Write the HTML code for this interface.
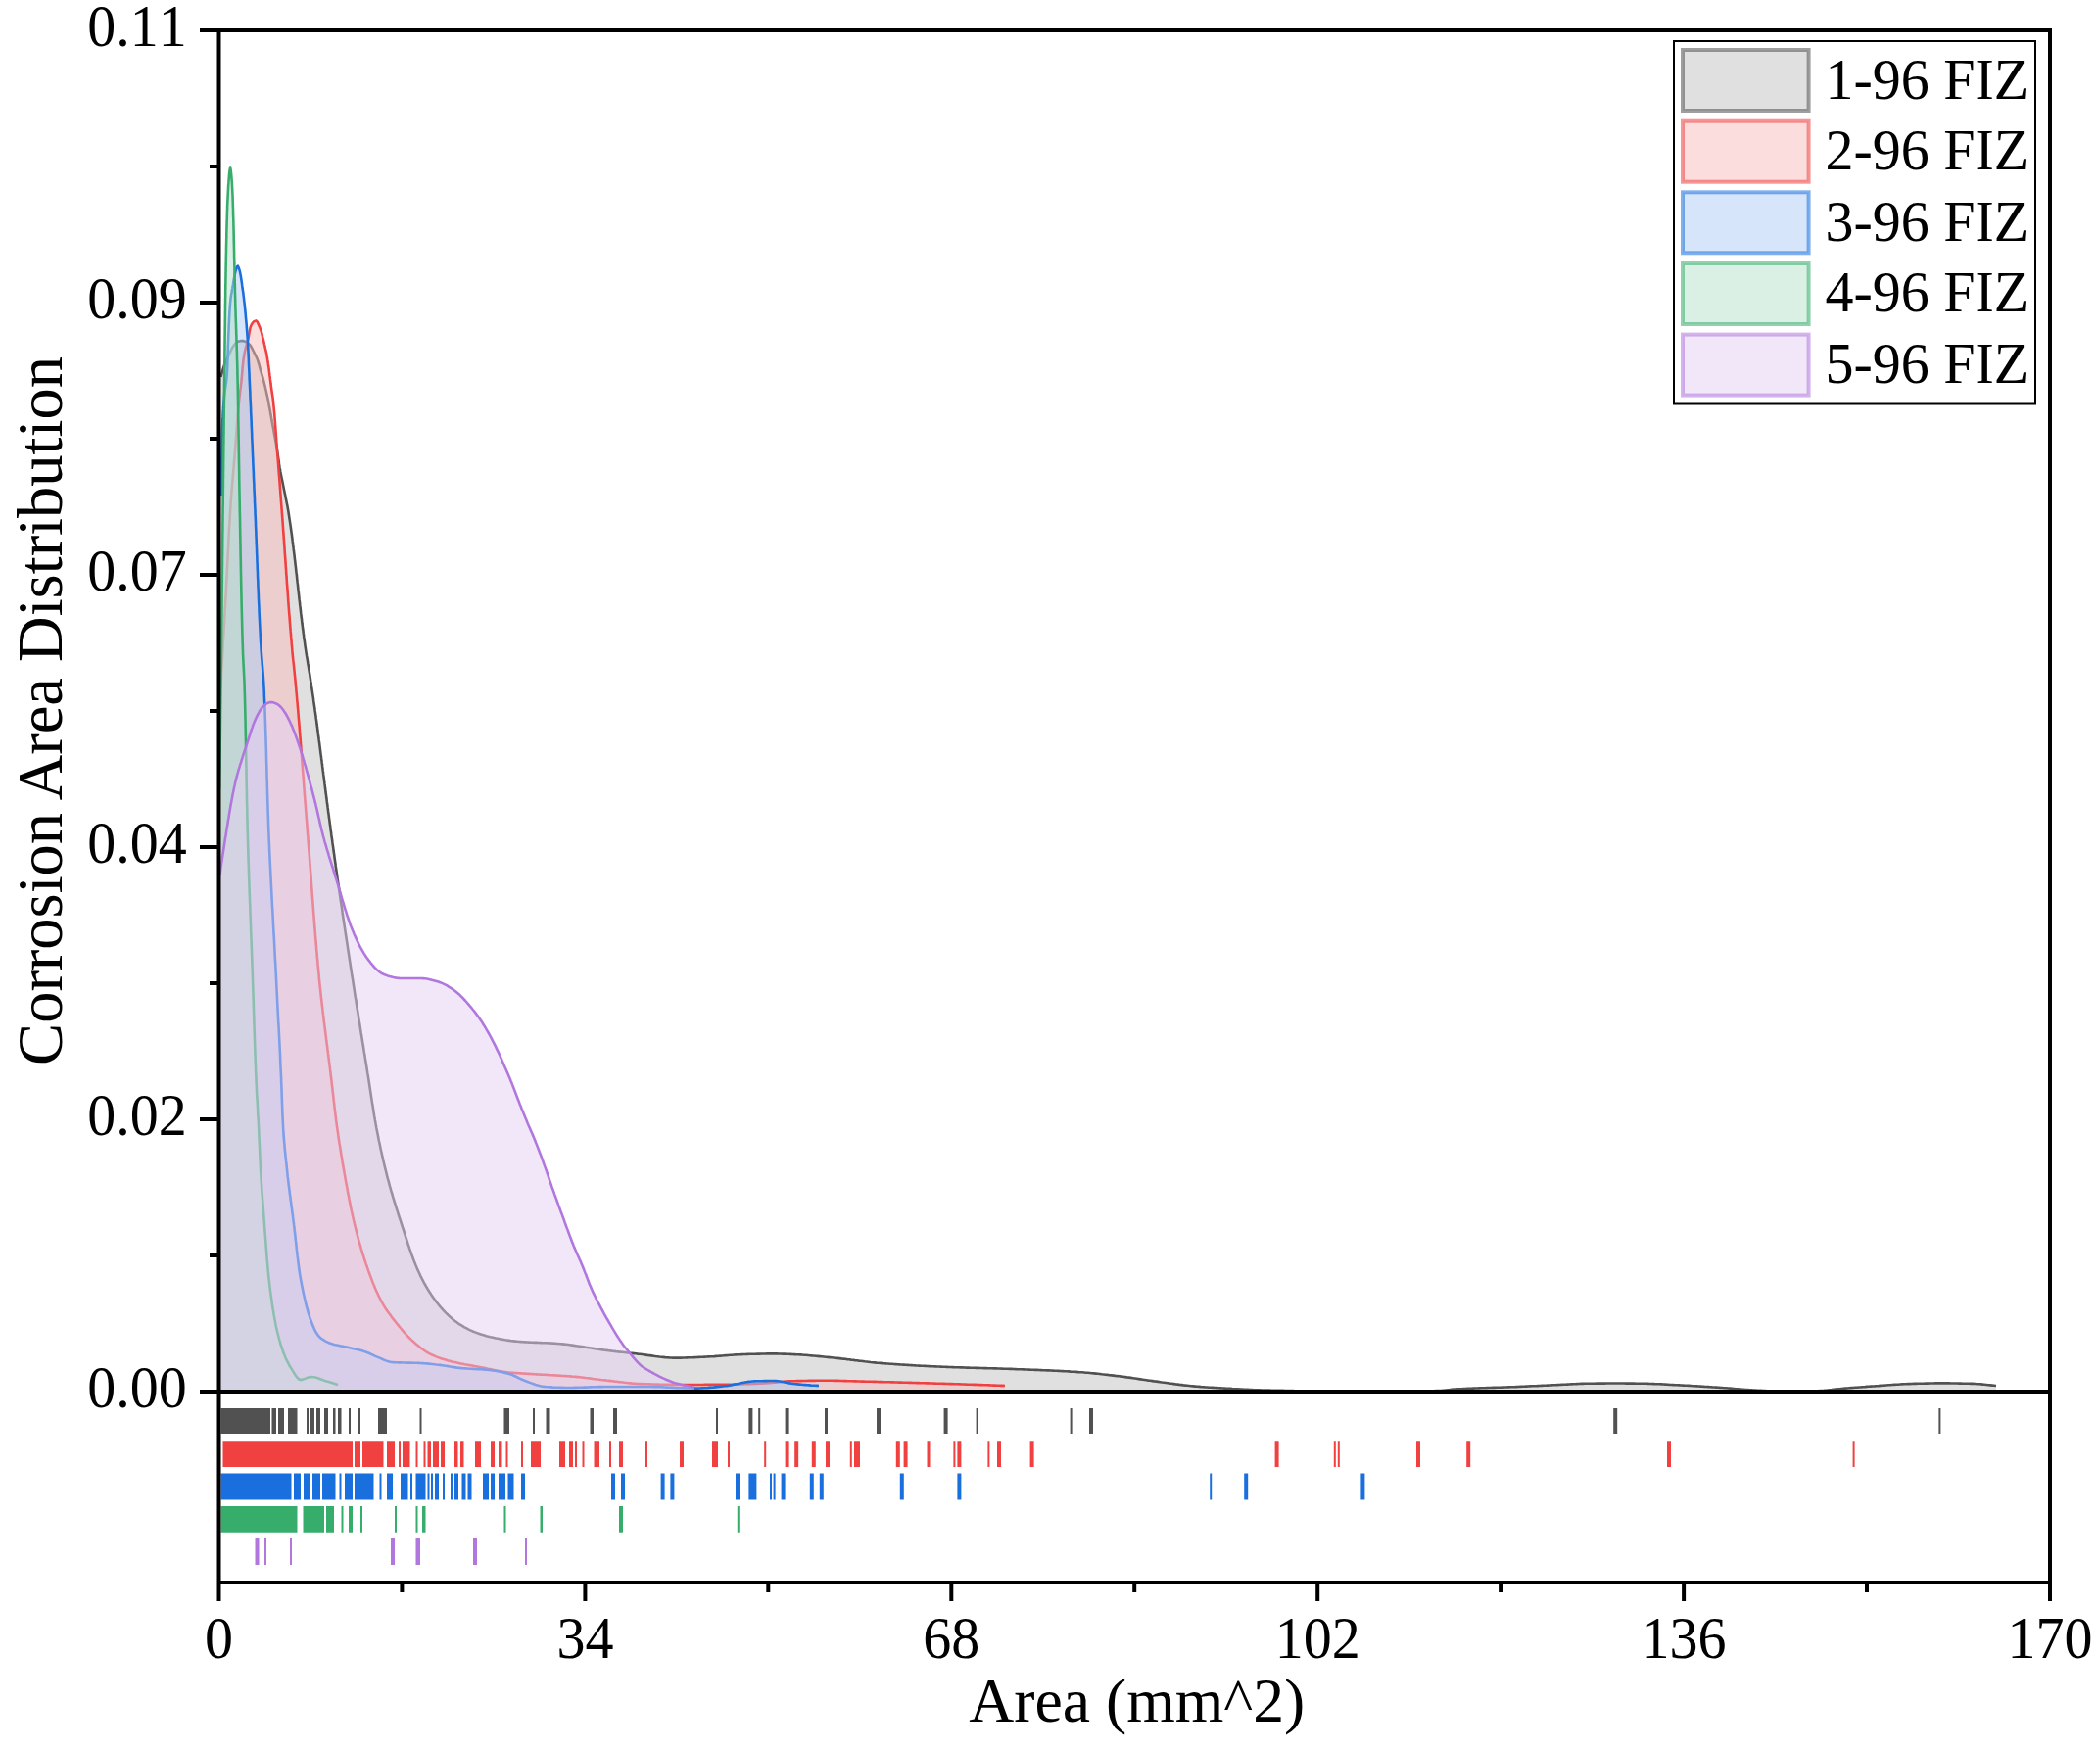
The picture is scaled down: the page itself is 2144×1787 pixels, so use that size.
<!DOCTYPE html><html><head><meta charset="utf-8"><title>Corrosion Area Distribution</title>
<style>html,body{margin:0;padding:0;background:#fff}svg{display:block}text{font-family:"Liberation Serif","Times New Roman",serif;fill:#000}</style></head><body>
<svg width="2144" height="1787" viewBox="0 0 2144 1787">
<rect width="2144" height="1787" fill="#fff"/>
<defs><clipPath id="cp"><rect x="223.5" y="31.0" width="1869.5" height="1390.0"/></clipPath></defs>
<g clip-path="url(#cp)" stroke-linejoin="round">
<path d="M225.5,385.0 L226.0,383.0 L226.5,381.1 L227.0,379.2 L227.6,377.2 L228.2,375.3 L228.8,373.5 L229.5,371.6 L230.3,369.7 L231.1,367.9 L231.9,366.1 L232.7,364.2 L233.6,362.4 L234.4,360.6 L235.3,358.8 L236.2,356.9 L237.1,355.2 L238.2,353.5 L239.5,351.8 L240.9,350.2 L242.4,349.1 L244.2,348.4 L246.2,348.0 L248.2,348.1 L250.2,348.7 L252.0,349.5 L253.6,350.7 L255.1,352.1 L256.2,353.6 L257.2,355.3 L258.1,357.2 L259.0,359.0 L259.9,360.8 L260.8,362.6 L261.7,364.4 L262.5,366.3 L263.2,368.1 L263.8,370.0 L264.4,371.9 L264.9,373.9 L265.4,375.8 L265.9,377.8 L266.5,379.7 L267.1,381.6 L267.7,383.5 L268.3,385.4 L268.8,387.3 L269.3,389.3 L269.8,391.2 L270.3,393.2 L270.8,395.1 L271.2,397.1 L271.7,399.0 L272.1,401.0 L272.5,402.9 L273.0,404.9 L273.4,406.8 L273.8,408.8 L274.2,410.8 L274.5,412.7 L274.9,414.7 L275.3,416.7 L275.6,418.6 L276.0,420.6 L276.3,422.6 L276.7,424.6 L277.0,426.5 L277.4,428.5 L277.7,430.5 L278.1,432.4 L278.4,434.4 L278.8,436.4 L279.2,438.3 L279.5,440.3 L279.9,442.3 L280.2,444.3 L280.6,446.2 L281.0,448.2 L281.3,450.2 L281.7,452.1 L282.0,454.1 L282.3,456.1 L282.7,458.1 L283.0,460.0 L283.3,462.0 L283.6,464.0 L283.9,466.0 L284.2,468.0 L284.5,469.9 L284.8,471.9 L285.0,473.9 L285.3,475.9 L285.6,477.9 L286.0,479.8 L286.3,481.8 L286.7,483.8 L287.1,485.7 L287.5,487.7 L287.9,489.7 L288.3,491.6 L288.7,493.6 L289.1,495.5 L289.5,497.5 L289.9,499.5 L290.3,501.4 L290.7,503.4 L291.1,505.3 L291.5,507.3 L291.9,509.3 L292.3,511.2 L292.7,513.2 L293.1,515.2 L293.5,517.1 L293.8,519.1 L294.2,521.1 L294.5,523.0 L294.8,525.0 L295.1,527.0 L295.4,529.0 L295.7,530.9 L296.0,532.9 L296.3,534.9 L296.6,536.9 L296.9,538.9 L297.1,540.8 L297.4,542.8 L297.7,544.8 L298.0,546.8 L298.2,548.8 L298.5,550.7 L298.7,552.7 L299.0,554.7 L299.2,556.7 L299.5,558.7 L299.7,560.7 L300.0,562.7 L300.2,564.6 L300.5,566.6 L300.7,568.6 L300.9,570.6 L301.2,572.6 L301.4,574.6 L301.6,576.6 L301.9,578.6 L302.1,580.6 L302.3,582.6 L302.5,584.5 L302.8,586.5 L303.0,588.5 L303.2,590.5 L303.4,592.5 L303.6,594.5 L303.9,596.5 L304.1,598.5 L304.3,600.5 L304.5,602.5 L304.8,604.5 L305.0,606.5 L305.2,608.4 L305.4,610.4 L305.6,612.4 L305.9,614.4 L306.1,616.4 L306.3,618.4 L306.6,620.4 L306.8,622.4 L307.0,624.4 L307.2,626.4 L307.5,628.4 L307.7,630.3 L308.0,632.3 L308.2,634.3 L308.4,636.3 L308.7,638.3 L308.9,640.3 L309.2,642.3 L309.5,644.3 L309.7,646.2 L310.0,648.2 L310.2,650.2 L310.5,652.2 L310.8,654.2 L311.1,656.2 L311.3,658.1 L311.6,660.1 L311.9,662.1 L312.2,664.1 L312.5,666.1 L312.8,668.0 L313.1,670.0 L313.5,672.0 L313.8,674.0 L314.1,675.9 L314.4,677.9 L314.8,679.9 L315.1,681.9 L315.4,683.8 L315.7,685.8 L316.1,687.8 L316.4,689.8 L316.7,691.7 L317.0,693.7 L317.3,695.7 L317.7,697.7 L317.9,699.7 L318.2,701.6 L318.5,703.6 L318.8,705.6 L319.1,707.6 L319.4,709.6 L319.7,711.5 L320.0,713.5 L320.2,715.5 L320.5,717.5 L320.8,719.5 L321.1,721.5 L321.4,723.4 L321.6,725.4 L321.9,727.4 L322.2,729.4 L322.5,731.4 L322.7,733.4 L323.0,735.3 L323.3,737.3 L323.5,739.3 L323.8,741.3 L324.1,743.3 L324.3,745.3 L324.6,747.2 L324.8,749.2 L325.1,751.2 L325.4,753.2 L325.6,755.2 L325.9,757.2 L326.2,759.2 L326.4,761.1 L326.7,763.1 L326.9,765.1 L327.2,767.1 L327.4,769.1 L327.7,771.1 L328.0,773.1 L328.2,775.0 L328.5,777.0 L328.7,779.0 L329.0,781.0 L329.2,783.0 L329.5,785.0 L329.7,787.0 L330.0,788.9 L330.2,790.9 L330.5,792.9 L330.8,794.9 L331.0,796.9 L331.3,798.9 L331.5,800.9 L331.8,802.8 L332.0,804.8 L332.3,806.8 L332.5,808.8 L332.8,810.8 L333.1,812.8 L333.3,814.8 L333.6,816.7 L333.8,818.7 L334.1,820.7 L334.4,822.7 L334.6,824.7 L334.9,826.7 L335.1,828.7 L335.4,830.6 L335.7,832.6 L335.9,834.6 L336.2,836.6 L336.5,838.6 L336.7,840.6 L337.0,842.5 L337.3,844.5 L337.5,846.5 L337.8,848.5 L338.1,850.5 L338.3,852.5 L338.6,854.5 L338.9,856.4 L339.2,858.4 L339.4,860.4 L339.7,862.4 L340.0,864.4 L340.3,866.4 L340.5,868.3 L340.8,870.3 L341.1,872.3 L341.4,874.3 L341.6,876.3 L341.9,878.2 L342.2,880.2 L342.5,882.2 L342.7,884.2 L343.0,886.2 L343.3,888.2 L343.6,890.1 L343.9,892.1 L344.2,894.1 L344.4,896.1 L344.7,898.1 L345.0,900.1 L345.3,902.0 L345.6,904.0 L345.9,906.0 L346.2,908.0 L346.4,910.0 L346.7,911.9 L347.0,913.9 L347.3,915.9 L347.6,917.9 L347.9,919.9 L348.2,921.8 L348.5,923.8 L348.8,925.8 L349.1,927.8 L349.4,929.8 L349.6,931.7 L349.9,933.7 L350.2,935.7 L350.5,937.7 L350.8,939.7 L351.1,941.7 L351.4,943.6 L351.7,945.6 L352.0,947.6 L352.3,949.6 L352.6,951.6 L352.9,953.5 L353.2,955.5 L353.5,957.5 L353.8,959.5 L354.1,961.4 L354.4,963.4 L354.7,965.4 L355.0,967.4 L355.3,969.4 L355.6,971.3 L355.9,973.3 L356.2,975.3 L356.5,977.3 L356.8,979.3 L357.1,981.2 L357.4,983.2 L357.7,985.2 L358.0,987.2 L358.3,989.2 L358.6,991.1 L358.9,993.1 L359.2,995.1 L359.5,997.1 L359.9,999.1 L360.2,1001.0 L360.5,1003.0 L360.8,1005.0 L361.1,1007.0 L361.4,1008.9 L361.7,1010.9 L362.0,1012.9 L362.3,1014.9 L362.6,1016.9 L362.9,1018.8 L363.3,1020.8 L363.6,1022.8 L363.9,1024.8 L364.2,1026.7 L364.5,1028.7 L364.8,1030.7 L365.2,1032.7 L365.5,1034.6 L365.8,1036.6 L366.1,1038.6 L366.4,1040.6 L366.7,1042.6 L367.1,1044.5 L367.4,1046.5 L367.7,1048.5 L368.0,1050.5 L368.3,1052.4 L368.6,1054.4 L369.0,1056.4 L369.3,1058.4 L369.6,1060.3 L369.9,1062.3 L370.2,1064.3 L370.6,1066.3 L370.9,1068.3 L371.2,1070.2 L371.5,1072.2 L371.8,1074.2 L372.2,1076.2 L372.5,1078.1 L372.8,1080.1 L373.1,1082.1 L373.4,1084.1 L373.8,1086.0 L374.1,1088.0 L374.4,1090.0 L374.7,1092.0 L375.0,1093.9 L375.3,1095.9 L375.7,1097.9 L376.0,1099.9 L376.3,1101.9 L376.6,1103.8 L376.9,1105.8 L377.2,1107.8 L377.5,1109.8 L377.8,1111.7 L378.1,1113.7 L378.4,1115.7 L378.7,1117.7 L379.0,1119.7 L379.3,1121.7 L379.6,1123.6 L379.9,1125.6 L380.2,1127.6 L380.6,1129.6 L380.9,1131.5 L381.2,1133.5 L381.5,1135.5 L381.8,1137.5 L382.1,1139.5 L382.5,1141.4 L382.8,1143.4 L383.2,1145.4 L383.5,1147.3 L383.9,1149.3 L384.2,1151.3 L384.6,1153.2 L385.0,1155.2 L385.4,1157.2 L385.8,1159.1 L386.1,1161.1 L386.5,1163.1 L386.9,1165.0 L387.4,1167.0 L387.8,1168.9 L388.2,1170.9 L388.6,1172.9 L389.0,1174.8 L389.5,1176.8 L389.9,1178.7 L390.3,1180.7 L390.8,1182.6 L391.2,1184.6 L391.7,1186.5 L392.2,1188.5 L392.6,1190.4 L393.1,1192.4 L393.6,1194.3 L394.1,1196.3 L394.5,1198.2 L395.0,1200.1 L395.5,1202.1 L396.0,1204.0 L396.6,1205.9 L397.1,1207.9 L397.6,1209.8 L398.1,1211.7 L398.7,1213.7 L399.2,1215.6 L399.8,1217.5 L400.4,1219.4 L400.9,1221.4 L401.5,1223.3 L402.1,1225.2 L402.7,1227.1 L403.3,1229.0 L403.9,1230.9 L404.5,1232.8 L405.1,1234.8 L405.7,1236.7 L406.3,1238.6 L406.9,1240.5 L407.5,1242.4 L408.1,1244.3 L408.8,1246.2 L409.4,1248.1 L410.0,1250.0 L410.6,1251.9 L411.2,1253.8 L411.9,1255.7 L412.5,1257.6 L413.1,1259.5 L413.7,1261.5 L414.3,1263.4 L415.0,1265.3 L415.6,1267.2 L416.2,1269.1 L416.8,1271.0 L417.5,1272.9 L418.1,1274.9 L418.8,1276.8 L419.5,1278.6 L420.1,1280.5 L420.8,1282.4 L421.5,1284.3 L422.2,1286.2 L422.9,1288.0 L423.7,1289.9 L424.4,1291.7 L425.2,1293.6 L425.9,1295.4 L426.7,1297.2 L427.6,1299.0 L428.4,1300.8 L429.2,1302.6 L430.1,1304.4 L431.0,1306.2 L432.0,1308.0 L432.9,1309.8 L433.9,1311.5 L434.9,1313.3 L435.9,1315.0 L436.9,1316.8 L438.0,1318.5 L439.1,1320.2 L440.2,1321.9 L441.3,1323.6 L442.5,1325.2 L443.6,1326.8 L444.8,1328.4 L446.0,1330.0 L447.2,1331.5 L448.5,1333.1 L449.7,1334.6 L451.1,1336.1 L452.4,1337.6 L453.8,1339.1 L455.2,1340.6 L456.7,1342.0 L458.1,1343.4 L459.6,1344.8 L461.1,1346.1 L462.7,1347.4 L464.2,1348.7 L465.8,1349.8 L467.4,1351.0 L469.0,1352.1 L470.7,1353.2 L472.4,1354.2 L474.2,1355.3 L475.9,1356.2 L477.7,1357.2 L479.6,1358.1 L481.4,1358.9 L483.2,1359.7 L485.1,1360.4 L486.9,1361.1 L488.8,1361.8 L490.7,1362.4 L492.6,1363.0 L494.5,1363.6 L496.5,1364.2 L498.4,1364.7 L500.4,1365.2 L502.3,1365.6 L504.3,1366.1 L506.2,1366.5 L508.2,1366.8 L510.2,1367.2 L512.1,1367.6 L514.1,1367.9 L516.1,1368.3 L518.1,1368.6 L520.1,1368.9 L522.0,1369.2 L524.0,1369.4 L526.0,1369.6 L528.0,1369.8 L530.0,1370.0 L532.0,1370.1 L534.0,1370.3 L536.0,1370.4 L538.0,1370.5 L540.0,1370.6 L542.0,1370.7 L544.0,1370.8 L546.0,1370.9 L548.0,1370.9 L550.0,1371.0 L552.0,1371.1 L554.0,1371.2 L556.0,1371.2 L558.0,1371.3 L560.0,1371.4 L562.0,1371.5 L564.0,1371.6 L566.0,1371.7 L568.0,1371.9 L570.0,1372.0 L572.0,1372.2 L574.0,1372.4 L576.0,1372.6 L578.0,1372.8 L579.9,1373.0 L581.9,1373.3 L583.9,1373.6 L585.9,1373.9 L587.9,1374.2 L589.9,1374.5 L591.8,1374.8 L593.8,1375.1 L595.8,1375.4 L597.8,1375.7 L599.8,1376.0 L601.7,1376.3 L603.7,1376.5 L605.7,1376.9 L607.7,1377.2 L609.7,1377.5 L611.6,1377.8 L613.6,1378.1 L615.6,1378.4 L617.6,1378.7 L619.6,1378.9 L621.6,1379.2 L623.5,1379.4 L625.5,1379.7 L627.5,1379.9 L629.5,1380.2 L631.5,1380.4 L633.5,1380.6 L635.5,1380.8 L637.5,1381.0 L639.5,1381.3 L641.4,1381.5 L643.4,1381.7 L645.4,1381.9 L647.4,1382.1 L649.4,1382.3 L651.4,1382.6 L653.4,1382.8 L655.4,1383.0 L657.4,1383.3 L659.4,1383.6 L661.3,1383.9 L663.3,1384.1 L665.3,1384.4 L667.3,1384.7 L669.3,1385.0 L671.3,1385.2 L673.3,1385.5 L675.3,1385.7 L677.3,1385.9 L679.3,1386.1 L681.2,1386.2 L683.2,1386.4 L685.2,1386.5 L687.2,1386.6 L689.2,1386.6 L691.2,1386.6 L693.2,1386.6 L695.2,1386.6 L697.2,1386.5 L699.2,1386.5 L701.2,1386.4 L703.2,1386.3 L705.2,1386.3 L707.2,1386.2 L709.2,1386.1 L711.2,1386.0 L713.2,1385.9 L715.2,1385.8 L717.2,1385.7 L719.2,1385.6 L721.2,1385.5 L723.2,1385.4 L725.2,1385.3 L727.2,1385.2 L729.2,1385.1 L731.2,1384.9 L733.2,1384.8 L735.2,1384.6 L737.2,1384.5 L739.2,1384.3 L741.2,1384.1 L743.2,1384.0 L745.2,1383.8 L747.2,1383.7 L749.2,1383.5 L751.2,1383.4 L753.2,1383.3 L755.2,1383.2 L757.2,1383.1 L759.2,1383.0 L761.2,1383.0 L763.2,1382.9 L765.2,1382.8 L767.2,1382.8 L769.2,1382.7 L771.2,1382.7 L773.2,1382.6 L775.2,1382.6 L777.2,1382.5 L779.2,1382.5 L781.2,1382.5 L783.2,1382.4 L785.2,1382.4 L787.2,1382.4 L789.2,1382.4 L791.2,1382.4 L793.2,1382.4 L795.2,1382.5 L797.2,1382.5 L799.2,1382.6 L801.2,1382.6 L803.2,1382.7 L805.2,1382.8 L807.2,1382.9 L809.2,1383.0 L811.2,1383.1 L813.2,1383.2 L815.2,1383.3 L817.2,1383.4 L819.2,1383.5 L821.2,1383.7 L823.2,1383.8 L825.2,1384.0 L827.2,1384.2 L829.2,1384.4 L831.2,1384.5 L833.2,1384.7 L835.2,1384.9 L837.2,1385.1 L839.2,1385.3 L841.2,1385.5 L843.2,1385.7 L845.1,1385.9 L847.1,1386.1 L849.1,1386.3 L851.1,1386.5 L853.1,1386.7 L855.1,1386.9 L857.1,1387.1 L859.1,1387.4 L861.1,1387.6 L863.1,1387.8 L865.1,1388.1 L867.0,1388.3 L869.0,1388.6 L871.0,1388.8 L873.0,1389.1 L875.0,1389.3 L877.0,1389.6 L879.0,1389.8 L881.0,1390.0 L882.9,1390.3 L884.9,1390.5 L886.9,1390.7 L888.9,1391.0 L890.9,1391.2 L892.9,1391.4 L894.9,1391.6 L896.9,1391.7 L898.9,1391.9 L900.9,1392.1 L902.9,1392.2 L904.9,1392.4 L906.9,1392.5 L908.8,1392.7 L910.8,1392.8 L912.8,1393.0 L914.8,1393.1 L916.8,1393.2 L918.8,1393.4 L920.8,1393.5 L922.8,1393.6 L924.8,1393.8 L926.8,1393.9 L928.8,1394.0 L930.8,1394.1 L932.8,1394.2 L934.8,1394.4 L936.8,1394.5 L938.8,1394.6 L940.8,1394.7 L942.8,1394.8 L944.8,1394.9 L946.8,1395.0 L948.8,1395.1 L950.8,1395.2 L952.8,1395.3 L954.8,1395.4 L956.8,1395.5 L958.8,1395.5 L960.8,1395.6 L962.8,1395.7 L964.8,1395.8 L966.8,1395.9 L968.8,1396.0 L970.8,1396.0 L972.8,1396.1 L974.8,1396.2 L976.8,1396.2 L978.8,1396.3 L980.8,1396.4 L982.8,1396.4 L984.8,1396.5 L986.8,1396.6 L988.8,1396.6 L990.8,1396.7 L992.8,1396.7 L994.8,1396.8 L996.8,1396.9 L998.8,1396.9 L1000.8,1397.0 L1002.8,1397.0 L1004.8,1397.1 L1006.8,1397.1 L1008.9,1397.2 L1010.9,1397.2 L1012.9,1397.3 L1014.9,1397.4 L1016.9,1397.4 L1018.9,1397.5 L1020.9,1397.5 L1022.9,1397.6 L1024.9,1397.7 L1026.9,1397.7 L1028.9,1397.8 L1030.9,1397.9 L1032.9,1397.9 L1034.9,1398.0 L1036.9,1398.1 L1038.9,1398.2 L1040.9,1398.2 L1042.9,1398.3 L1044.9,1398.4 L1046.9,1398.5 L1048.9,1398.5 L1050.9,1398.6 L1052.9,1398.7 L1054.9,1398.8 L1056.9,1398.9 L1058.9,1398.9 L1060.9,1399.0 L1062.9,1399.1 L1064.9,1399.2 L1066.9,1399.3 L1068.9,1399.4 L1070.9,1399.4 L1072.9,1399.5 L1074.9,1399.6 L1076.9,1399.7 L1078.9,1399.8 L1080.9,1399.9 L1082.9,1400.0 L1084.9,1400.1 L1086.9,1400.2 L1088.9,1400.3 L1090.9,1400.4 L1092.9,1400.6 L1094.9,1400.7 L1096.9,1400.8 L1098.9,1400.9 L1100.9,1401.1 L1102.9,1401.2 L1104.9,1401.3 L1106.8,1401.5 L1108.8,1401.7 L1110.8,1401.8 L1112.8,1402.0 L1114.8,1402.2 L1116.8,1402.4 L1118.8,1402.6 L1120.8,1402.8 L1122.8,1403.0 L1124.8,1403.3 L1126.8,1403.5 L1128.8,1403.7 L1130.8,1403.9 L1132.8,1404.2 L1134.7,1404.4 L1136.7,1404.6 L1138.7,1404.9 L1140.7,1405.1 L1142.7,1405.3 L1144.7,1405.6 L1146.7,1405.8 L1148.6,1406.1 L1150.6,1406.4 L1152.6,1406.6 L1154.6,1406.9 L1156.6,1407.2 L1158.6,1407.5 L1160.5,1407.8 L1162.5,1408.1 L1164.5,1408.4 L1166.5,1408.7 L1168.5,1409.0 L1170.4,1409.3 L1172.4,1409.6 L1174.4,1409.8 L1176.4,1410.1 L1178.4,1410.4 L1180.4,1410.6 L1182.3,1410.9 L1184.3,1411.2 L1186.3,1411.5 L1188.3,1411.7 L1190.3,1412.0 L1192.3,1412.3 L1194.2,1412.6 L1196.2,1412.8 L1198.2,1413.1 L1200.2,1413.4 L1202.2,1413.6 L1204.2,1413.9 L1206.2,1414.1 L1208.2,1414.4 L1210.1,1414.6 L1212.1,1414.8 L1214.1,1415.0 L1216.1,1415.2 L1218.1,1415.4 L1220.1,1415.6 L1222.1,1415.8 L1224.1,1415.9 L1226.1,1416.1 L1228.1,1416.2 L1230.1,1416.4 L1232.1,1416.5 L1234.1,1416.7 L1236.1,1416.8 L1238.1,1416.9 L1240.1,1417.0 L1242.1,1417.1 L1244.1,1417.3 L1246.1,1417.4 L1248.1,1417.5 L1250.1,1417.6 L1252.1,1417.7 L1254.1,1417.8 L1256.1,1417.9 L1258.1,1418.1 L1260.1,1418.2 L1262.1,1418.3 L1264.1,1418.4 L1266.1,1418.5 L1268.1,1418.6 L1270.0,1418.7 L1272.0,1418.8 L1274.0,1418.9 L1276.1,1419.0 L1278.1,1419.1 L1280.1,1419.2 L1282.1,1419.3 L1284.1,1419.3 L1286.1,1419.4 L1288.1,1419.5 L1290.1,1419.5 L1292.1,1419.5 L1294.1,1419.6 L1296.1,1419.6 L1298.1,1419.7 L1300.1,1419.7 L1302.1,1419.8 L1304.1,1419.8 L1306.1,1419.9 L1308.1,1419.9 L1310.1,1419.9 L1312.1,1420.0 L1314.1,1420.0 L1316.1,1420.1 L1318.1,1420.1 L1320.1,1420.1 L1322.1,1420.2 L1324.1,1420.2 L1326.1,1420.3 L1328.1,1420.3 L1330.1,1420.3 L1332.1,1420.4 L1334.1,1420.4 L1336.1,1420.4 L1338.1,1420.5 L1340.1,1420.5 L1342.1,1420.5 L1344.1,1420.6 L1346.1,1420.6 L1348.1,1420.6 L1350.1,1420.6 L1352.1,1420.7 L1354.1,1420.7 L1356.1,1420.7 L1358.1,1420.7 L1360.1,1420.8 L1362.1,1420.8 L1364.1,1420.8 L1366.1,1420.8 L1368.1,1420.8 L1370.1,1420.9 L1372.1,1420.9 L1374.1,1420.9 L1376.1,1420.9 L1378.1,1420.9 L1380.1,1420.9 L1382.1,1421.0 L1384.1,1421.0 L1386.1,1421.0 L1388.1,1421.0 L1390.1,1421.0 L1392.2,1421.0 L1394.2,1421.0 L1396.2,1421.0 L1398.2,1421.0 L1400.2,1421.0 L1402.2,1421.0 L1404.2,1421.0 L1406.2,1421.0 L1408.2,1421.0 L1410.2,1421.0 L1412.2,1421.0 L1414.2,1421.0 L1416.2,1420.9 L1418.2,1420.9 L1420.2,1420.9 L1422.2,1420.9 L1424.2,1420.9 L1426.2,1420.9 L1428.2,1420.8 L1430.2,1420.8 L1432.2,1420.8 L1434.2,1420.8 L1436.2,1420.7 L1438.2,1420.7 L1440.2,1420.7 L1442.2,1420.6 L1444.2,1420.6 L1446.2,1420.6 L1448.2,1420.5 L1450.2,1420.5 L1452.2,1420.5 L1454.2,1420.4 L1456.2,1420.4 L1458.2,1420.3 L1460.2,1420.3 L1462.2,1420.2 L1464.2,1420.2 L1466.2,1420.1 L1468.2,1420.1 L1470.2,1420.0 L1472.2,1419.9 L1474.2,1419.7 L1476.2,1419.5 L1478.2,1419.3 L1480.2,1419.1 L1482.2,1418.8 L1484.2,1418.6 L1486.2,1418.5 L1488.2,1418.4 L1490.2,1418.3 L1492.2,1418.2 L1494.2,1418.1 L1496.2,1418.0 L1498.2,1417.9 L1500.2,1417.8 L1502.2,1417.7 L1504.2,1417.6 L1506.2,1417.5 L1508.2,1417.5 L1510.2,1417.4 L1512.2,1417.3 L1514.2,1417.2 L1516.2,1417.2 L1518.2,1417.1 L1520.2,1417.0 L1522.2,1417.0 L1524.2,1416.9 L1526.2,1416.9 L1528.2,1416.8 L1530.2,1416.7 L1532.2,1416.7 L1534.2,1416.6 L1536.2,1416.5 L1538.2,1416.5 L1540.2,1416.4 L1542.2,1416.3 L1544.2,1416.2 L1546.2,1416.2 L1548.2,1416.1 L1550.2,1416.0 L1552.2,1415.9 L1554.2,1415.8 L1556.2,1415.7 L1558.2,1415.6 L1560.2,1415.5 L1562.2,1415.4 L1564.2,1415.3 L1566.2,1415.3 L1568.2,1415.2 L1570.2,1415.1 L1572.2,1415.0 L1574.2,1414.9 L1576.2,1414.8 L1578.2,1414.7 L1580.2,1414.6 L1582.2,1414.5 L1584.2,1414.4 L1586.2,1414.3 L1588.2,1414.2 L1590.2,1414.1 L1592.2,1414.0 L1594.2,1413.9 L1596.2,1413.8 L1598.2,1413.7 L1600.2,1413.6 L1602.2,1413.5 L1604.2,1413.4 L1606.2,1413.3 L1608.2,1413.2 L1610.2,1413.1 L1612.2,1413.0 L1614.2,1412.9 L1616.2,1412.9 L1618.2,1412.8 L1620.2,1412.8 L1622.2,1412.8 L1624.2,1412.7 L1626.2,1412.7 L1628.2,1412.7 L1630.2,1412.6 L1632.2,1412.6 L1634.2,1412.6 L1636.2,1412.6 L1638.2,1412.6 L1640.2,1412.5 L1642.2,1412.5 L1644.2,1412.5 L1646.2,1412.5 L1648.2,1412.5 L1650.2,1412.5 L1652.2,1412.5 L1654.2,1412.5 L1656.2,1412.5 L1658.2,1412.5 L1660.2,1412.6 L1662.2,1412.6 L1664.2,1412.6 L1666.2,1412.6 L1668.2,1412.6 L1670.2,1412.7 L1672.2,1412.7 L1674.2,1412.7 L1676.2,1412.8 L1678.2,1412.8 L1680.2,1412.8 L1682.2,1412.9 L1684.3,1413.0 L1686.3,1413.0 L1688.3,1413.1 L1690.3,1413.2 L1692.3,1413.3 L1694.3,1413.3 L1696.3,1413.4 L1698.3,1413.5 L1700.3,1413.6 L1702.3,1413.7 L1704.3,1413.9 L1706.3,1414.0 L1708.3,1414.1 L1710.3,1414.2 L1712.3,1414.3 L1714.3,1414.4 L1716.2,1414.5 L1718.2,1414.6 L1720.2,1414.7 L1722.2,1414.8 L1724.2,1414.9 L1726.2,1415.0 L1728.2,1415.2 L1730.2,1415.3 L1732.2,1415.4 L1734.2,1415.5 L1736.2,1415.6 L1738.2,1415.7 L1740.2,1415.9 L1742.2,1416.0 L1744.2,1416.1 L1746.2,1416.2 L1748.2,1416.4 L1750.2,1416.5 L1752.2,1416.6 L1754.2,1416.7 L1756.2,1416.9 L1758.2,1417.0 L1760.2,1417.2 L1762.2,1417.3 L1764.2,1417.5 L1766.2,1417.6 L1768.2,1417.8 L1770.2,1418.0 L1772.2,1418.2 L1774.2,1418.3 L1776.2,1418.5 L1778.2,1418.7 L1780.2,1418.8 L1782.2,1419.0 L1784.2,1419.1 L1786.2,1419.3 L1788.2,1419.4 L1790.2,1419.5 L1792.2,1419.6 L1794.2,1419.7 L1796.2,1419.8 L1798.2,1419.9 L1800.2,1420.0 L1802.2,1420.1 L1804.2,1420.2 L1806.2,1420.3 L1808.2,1420.4 L1810.2,1420.5 L1812.2,1420.6 L1814.2,1420.7 L1816.2,1420.7 L1818.2,1420.8 L1820.2,1420.9 L1822.2,1420.9 L1824.2,1421.0 L1826.2,1421.0 L1828.2,1421.0 L1830.2,1421.0 L1832.2,1421.0 L1834.2,1421.0 L1836.2,1420.9 L1838.2,1420.9 L1840.2,1420.9 L1842.2,1420.8 L1844.2,1420.7 L1846.2,1420.6 L1848.2,1420.6 L1850.2,1420.5 L1852.2,1420.4 L1854.2,1420.3 L1856.2,1420.2 L1858.2,1420.1 L1860.2,1420.0 L1862.2,1419.9 L1864.2,1419.7 L1866.2,1419.5 L1868.2,1419.3 L1870.1,1419.1 L1872.1,1418.8 L1874.1,1418.6 L1876.1,1418.4 L1878.1,1418.2 L1880.1,1418.0 L1882.1,1417.8 L1884.1,1417.6 L1886.1,1417.5 L1888.1,1417.3 L1890.1,1417.1 L1892.1,1417.0 L1894.1,1416.8 L1896.1,1416.7 L1898.1,1416.5 L1900.1,1416.4 L1902.1,1416.2 L1904.1,1416.1 L1906.0,1415.9 L1908.0,1415.8 L1910.0,1415.6 L1912.0,1415.5 L1914.0,1415.4 L1916.0,1415.2 L1918.0,1415.1 L1920.0,1414.9 L1922.0,1414.8 L1924.0,1414.6 L1926.0,1414.5 L1928.0,1414.3 L1930.0,1414.2 L1932.0,1414.0 L1934.0,1413.9 L1936.0,1413.8 L1938.0,1413.7 L1940.0,1413.5 L1942.0,1413.4 L1944.0,1413.3 L1946.0,1413.2 L1948.0,1413.1 L1950.0,1413.1 L1952.0,1413.0 L1954.0,1412.9 L1956.0,1412.9 L1958.0,1412.8 L1960.0,1412.8 L1962.0,1412.7 L1964.0,1412.7 L1966.0,1412.6 L1968.0,1412.6 L1970.0,1412.5 L1972.0,1412.5 L1974.0,1412.5 L1976.0,1412.4 L1978.0,1412.4 L1980.0,1412.4 L1982.0,1412.4 L1984.0,1412.4 L1986.0,1412.4 L1988.0,1412.4 L1990.0,1412.4 L1992.0,1412.5 L1994.0,1412.5 L1996.0,1412.5 L1998.1,1412.5 L2000.1,1412.6 L2002.1,1412.6 L2004.1,1412.7 L2006.1,1412.7 L2008.1,1412.8 L2010.1,1412.8 L2012.1,1412.9 L2014.1,1412.9 L2016.1,1413.0 L2018.0,1413.2 L2020.0,1413.3 L2022.0,1413.4 L2024.0,1413.6 L2026.0,1413.8 L2028.0,1414.0 L2030.0,1414.2 L2032.0,1414.4 L2034.0,1414.6 L2036.0,1414.8 L2038.0,1415.0 L2038.0,1421.0 L225.5,1421.0 Z" fill="#C1C1C1" fill-opacity="0.5" stroke="none"/>
<path d="M225.5,385.0 L226.0,383.0 L226.5,381.1 L227.0,379.2 L227.6,377.2 L228.2,375.3 L228.8,373.5 L229.5,371.6 L230.3,369.7 L231.1,367.9 L231.9,366.1 L232.7,364.2 L233.6,362.4 L234.4,360.6 L235.3,358.8 L236.2,356.9 L237.1,355.2 L238.2,353.5 L239.5,351.8 L240.9,350.2 L242.4,349.1 L244.2,348.4 L246.2,348.0 L248.2,348.1 L250.2,348.7 L252.0,349.5 L253.6,350.7 L255.1,352.1 L256.2,353.6 L257.2,355.3 L258.1,357.2 L259.0,359.0 L259.9,360.8 L260.8,362.6 L261.7,364.4 L262.5,366.3 L263.2,368.1 L263.8,370.0 L264.4,371.9 L264.9,373.9 L265.4,375.8 L265.9,377.8 L266.5,379.7 L267.1,381.6 L267.7,383.5 L268.3,385.4 L268.8,387.3 L269.3,389.3 L269.8,391.2 L270.3,393.2 L270.8,395.1 L271.2,397.1 L271.7,399.0 L272.1,401.0 L272.5,402.9 L273.0,404.9 L273.4,406.8 L273.8,408.8 L274.2,410.8 L274.5,412.7 L274.9,414.7 L275.3,416.7 L275.6,418.6 L276.0,420.6 L276.3,422.6 L276.7,424.6 L277.0,426.5 L277.4,428.5 L277.7,430.5 L278.1,432.4 L278.4,434.4 L278.8,436.4 L279.2,438.3 L279.5,440.3 L279.9,442.3 L280.2,444.3 L280.6,446.2 L281.0,448.2 L281.3,450.2 L281.7,452.1 L282.0,454.1 L282.3,456.1 L282.7,458.1 L283.0,460.0 L283.3,462.0 L283.6,464.0 L283.9,466.0 L284.2,468.0 L284.5,469.9 L284.8,471.9 L285.0,473.9 L285.3,475.9 L285.6,477.9 L286.0,479.8 L286.3,481.8 L286.7,483.8 L287.1,485.7 L287.5,487.7 L287.9,489.7 L288.3,491.6 L288.7,493.6 L289.1,495.5 L289.5,497.5 L289.9,499.5 L290.3,501.4 L290.7,503.4 L291.1,505.3 L291.5,507.3 L291.9,509.3 L292.3,511.2 L292.7,513.2 L293.1,515.2 L293.5,517.1 L293.8,519.1 L294.2,521.1 L294.5,523.0 L294.8,525.0 L295.1,527.0 L295.4,529.0 L295.7,530.9 L296.0,532.9 L296.3,534.9 L296.6,536.9 L296.9,538.9 L297.1,540.8 L297.4,542.8 L297.7,544.8 L298.0,546.8 L298.2,548.8 L298.5,550.7 L298.7,552.7 L299.0,554.7 L299.2,556.7 L299.5,558.7 L299.7,560.7 L300.0,562.7 L300.2,564.6 L300.5,566.6 L300.7,568.6 L300.9,570.6 L301.2,572.6 L301.4,574.6 L301.6,576.6 L301.9,578.6 L302.1,580.6 L302.3,582.6 L302.5,584.5 L302.8,586.5 L303.0,588.5 L303.2,590.5 L303.4,592.5 L303.6,594.5 L303.9,596.5 L304.1,598.5 L304.3,600.5 L304.5,602.5 L304.8,604.5 L305.0,606.5 L305.2,608.4 L305.4,610.4 L305.6,612.4 L305.9,614.4 L306.1,616.4 L306.3,618.4 L306.6,620.4 L306.8,622.4 L307.0,624.4 L307.2,626.4 L307.5,628.4 L307.7,630.3 L308.0,632.3 L308.2,634.3 L308.4,636.3 L308.7,638.3 L308.9,640.3 L309.2,642.3 L309.5,644.3 L309.7,646.2 L310.0,648.2 L310.2,650.2 L310.5,652.2 L310.8,654.2 L311.1,656.2 L311.3,658.1 L311.6,660.1 L311.9,662.1 L312.2,664.1 L312.5,666.1 L312.8,668.0 L313.1,670.0 L313.5,672.0 L313.8,674.0 L314.1,675.9 L314.4,677.9 L314.8,679.9 L315.1,681.9 L315.4,683.8 L315.7,685.8 L316.1,687.8 L316.4,689.8 L316.7,691.7 L317.0,693.7 L317.3,695.7 L317.7,697.7 L317.9,699.7 L318.2,701.6 L318.5,703.6 L318.8,705.6 L319.1,707.6 L319.4,709.6 L319.7,711.5 L320.0,713.5 L320.2,715.5 L320.5,717.5 L320.8,719.5 L321.1,721.5 L321.4,723.4 L321.6,725.4 L321.9,727.4 L322.2,729.4 L322.5,731.4 L322.7,733.4 L323.0,735.3 L323.3,737.3 L323.5,739.3 L323.8,741.3 L324.1,743.3 L324.3,745.3 L324.6,747.2 L324.8,749.2 L325.1,751.2 L325.4,753.2 L325.6,755.2 L325.9,757.2 L326.2,759.2 L326.4,761.1 L326.7,763.1 L326.9,765.1 L327.2,767.1 L327.4,769.1 L327.7,771.1 L328.0,773.1 L328.2,775.0 L328.5,777.0 L328.7,779.0 L329.0,781.0 L329.2,783.0 L329.5,785.0 L329.7,787.0 L330.0,788.9 L330.2,790.9 L330.5,792.9 L330.8,794.9 L331.0,796.9 L331.3,798.9 L331.5,800.9 L331.8,802.8 L332.0,804.8 L332.3,806.8 L332.5,808.8 L332.8,810.8 L333.1,812.8 L333.3,814.8 L333.6,816.7 L333.8,818.7 L334.1,820.7 L334.4,822.7 L334.6,824.7 L334.9,826.7 L335.1,828.7 L335.4,830.6 L335.7,832.6 L335.9,834.6 L336.2,836.6 L336.5,838.6 L336.7,840.6 L337.0,842.5 L337.3,844.5 L337.5,846.5 L337.8,848.5 L338.1,850.5 L338.3,852.5 L338.6,854.5 L338.9,856.4 L339.2,858.4 L339.4,860.4 L339.7,862.4 L340.0,864.4 L340.3,866.4 L340.5,868.3 L340.8,870.3 L341.1,872.3 L341.4,874.3 L341.6,876.3 L341.9,878.2 L342.2,880.2 L342.5,882.2 L342.7,884.2 L343.0,886.2 L343.3,888.2 L343.6,890.1 L343.9,892.1 L344.2,894.1 L344.4,896.1 L344.7,898.1 L345.0,900.1 L345.3,902.0 L345.6,904.0 L345.9,906.0 L346.2,908.0 L346.4,910.0 L346.7,911.9 L347.0,913.9 L347.3,915.9 L347.6,917.9 L347.9,919.9 L348.2,921.8 L348.5,923.8 L348.8,925.8 L349.1,927.8 L349.4,929.8 L349.6,931.7 L349.9,933.7 L350.2,935.7 L350.5,937.7 L350.8,939.7 L351.1,941.7 L351.4,943.6 L351.7,945.6 L352.0,947.6 L352.3,949.6 L352.6,951.6 L352.9,953.5 L353.2,955.5 L353.5,957.5 L353.8,959.5 L354.1,961.4 L354.4,963.4 L354.7,965.4 L355.0,967.4 L355.3,969.4 L355.6,971.3 L355.9,973.3 L356.2,975.3 L356.5,977.3 L356.8,979.3 L357.1,981.2 L357.4,983.2 L357.7,985.2 L358.0,987.2 L358.3,989.2 L358.6,991.1 L358.9,993.1 L359.2,995.1 L359.5,997.1 L359.9,999.1 L360.2,1001.0 L360.5,1003.0 L360.8,1005.0 L361.1,1007.0 L361.4,1008.9 L361.7,1010.9 L362.0,1012.9 L362.3,1014.9 L362.6,1016.9 L362.9,1018.8 L363.3,1020.8 L363.6,1022.8 L363.9,1024.8 L364.2,1026.7 L364.5,1028.7 L364.8,1030.7 L365.2,1032.7 L365.5,1034.6 L365.8,1036.6 L366.1,1038.6 L366.4,1040.6 L366.7,1042.6 L367.1,1044.5 L367.4,1046.5 L367.7,1048.5 L368.0,1050.5 L368.3,1052.4 L368.6,1054.4 L369.0,1056.4 L369.3,1058.4 L369.6,1060.3 L369.9,1062.3 L370.2,1064.3 L370.6,1066.3 L370.9,1068.3 L371.2,1070.2 L371.5,1072.2 L371.8,1074.2 L372.2,1076.2 L372.5,1078.1 L372.8,1080.1 L373.1,1082.1 L373.4,1084.1 L373.8,1086.0 L374.1,1088.0 L374.4,1090.0 L374.7,1092.0 L375.0,1093.9 L375.3,1095.9 L375.7,1097.9 L376.0,1099.9 L376.3,1101.9 L376.6,1103.8 L376.9,1105.8 L377.2,1107.8 L377.5,1109.8 L377.8,1111.7 L378.1,1113.7 L378.4,1115.7 L378.7,1117.7 L379.0,1119.7 L379.3,1121.7 L379.6,1123.6 L379.9,1125.6 L380.2,1127.6 L380.6,1129.6 L380.9,1131.5 L381.2,1133.5 L381.5,1135.5 L381.8,1137.5 L382.1,1139.5 L382.5,1141.4 L382.8,1143.4 L383.2,1145.4 L383.5,1147.3 L383.9,1149.3 L384.2,1151.3 L384.6,1153.2 L385.0,1155.2 L385.4,1157.2 L385.8,1159.1 L386.1,1161.1 L386.5,1163.1 L386.9,1165.0 L387.4,1167.0 L387.8,1168.9 L388.2,1170.9 L388.6,1172.9 L389.0,1174.8 L389.5,1176.8 L389.9,1178.7 L390.3,1180.7 L390.8,1182.6 L391.2,1184.6 L391.7,1186.5 L392.2,1188.5 L392.6,1190.4 L393.1,1192.4 L393.6,1194.3 L394.1,1196.3 L394.5,1198.2 L395.0,1200.1 L395.5,1202.1 L396.0,1204.0 L396.6,1205.9 L397.1,1207.9 L397.6,1209.8 L398.1,1211.7 L398.7,1213.7 L399.2,1215.6 L399.8,1217.5 L400.4,1219.4 L400.9,1221.4 L401.5,1223.3 L402.1,1225.2 L402.7,1227.1 L403.3,1229.0 L403.9,1230.9 L404.5,1232.8 L405.1,1234.8 L405.7,1236.7 L406.3,1238.6 L406.9,1240.5 L407.5,1242.4 L408.1,1244.3 L408.8,1246.2 L409.4,1248.1 L410.0,1250.0 L410.6,1251.9 L411.2,1253.8 L411.9,1255.7 L412.5,1257.6 L413.1,1259.5 L413.7,1261.5 L414.3,1263.4 L415.0,1265.3 L415.6,1267.2 L416.2,1269.1 L416.8,1271.0 L417.5,1272.9 L418.1,1274.9 L418.8,1276.8 L419.5,1278.6 L420.1,1280.5 L420.8,1282.4 L421.5,1284.3 L422.2,1286.2 L422.9,1288.0 L423.7,1289.9 L424.4,1291.7 L425.2,1293.6 L425.9,1295.4 L426.7,1297.2 L427.6,1299.0 L428.4,1300.8 L429.2,1302.6 L430.1,1304.4 L431.0,1306.2 L432.0,1308.0 L432.9,1309.8 L433.9,1311.5 L434.9,1313.3 L435.9,1315.0 L436.9,1316.8 L438.0,1318.5 L439.1,1320.2 L440.2,1321.9 L441.3,1323.6 L442.5,1325.2 L443.6,1326.8 L444.8,1328.4 L446.0,1330.0 L447.2,1331.5 L448.5,1333.1 L449.7,1334.6 L451.1,1336.1 L452.4,1337.6 L453.8,1339.1 L455.2,1340.6 L456.7,1342.0 L458.1,1343.4 L459.6,1344.8 L461.1,1346.1 L462.7,1347.4 L464.2,1348.7 L465.8,1349.8 L467.4,1351.0 L469.0,1352.1 L470.7,1353.2 L472.4,1354.2 L474.2,1355.3 L475.9,1356.2 L477.7,1357.2 L479.6,1358.1 L481.4,1358.9 L483.2,1359.7 L485.1,1360.4 L486.9,1361.1 L488.8,1361.8 L490.7,1362.4 L492.6,1363.0 L494.5,1363.6 L496.5,1364.2 L498.4,1364.7 L500.4,1365.2 L502.3,1365.6 L504.3,1366.1 L506.2,1366.5 L508.2,1366.8 L510.2,1367.2 L512.1,1367.6 L514.1,1367.9 L516.1,1368.3 L518.1,1368.6 L520.1,1368.9 L522.0,1369.2 L524.0,1369.4 L526.0,1369.6 L528.0,1369.8 L530.0,1370.0 L532.0,1370.1 L534.0,1370.3 L536.0,1370.4 L538.0,1370.5 L540.0,1370.6 L542.0,1370.7 L544.0,1370.8 L546.0,1370.9 L548.0,1370.9 L550.0,1371.0 L552.0,1371.1 L554.0,1371.2 L556.0,1371.2 L558.0,1371.3 L560.0,1371.4 L562.0,1371.5 L564.0,1371.6 L566.0,1371.7 L568.0,1371.9 L570.0,1372.0 L572.0,1372.2 L574.0,1372.4 L576.0,1372.6 L578.0,1372.8 L579.9,1373.0 L581.9,1373.3 L583.9,1373.6 L585.9,1373.9 L587.9,1374.2 L589.9,1374.5 L591.8,1374.8 L593.8,1375.1 L595.8,1375.4 L597.8,1375.7 L599.8,1376.0 L601.7,1376.3 L603.7,1376.5 L605.7,1376.9 L607.7,1377.2 L609.7,1377.5 L611.6,1377.8 L613.6,1378.1 L615.6,1378.4 L617.6,1378.7 L619.6,1378.9 L621.6,1379.2 L623.5,1379.4 L625.5,1379.7 L627.5,1379.9 L629.5,1380.2 L631.5,1380.4 L633.5,1380.6 L635.5,1380.8 L637.5,1381.0 L639.5,1381.3 L641.4,1381.5 L643.4,1381.7 L645.4,1381.9 L647.4,1382.1 L649.4,1382.3 L651.4,1382.6 L653.4,1382.8 L655.4,1383.0 L657.4,1383.3 L659.4,1383.6 L661.3,1383.9 L663.3,1384.1 L665.3,1384.4 L667.3,1384.7 L669.3,1385.0 L671.3,1385.2 L673.3,1385.5 L675.3,1385.7 L677.3,1385.9 L679.3,1386.1 L681.2,1386.2 L683.2,1386.4 L685.2,1386.5 L687.2,1386.6 L689.2,1386.6 L691.2,1386.6 L693.2,1386.6 L695.2,1386.6 L697.2,1386.5 L699.2,1386.5 L701.2,1386.4 L703.2,1386.3 L705.2,1386.3 L707.2,1386.2 L709.2,1386.1 L711.2,1386.0 L713.2,1385.9 L715.2,1385.8 L717.2,1385.7 L719.2,1385.6 L721.2,1385.5 L723.2,1385.4 L725.2,1385.3 L727.2,1385.2 L729.2,1385.1 L731.2,1384.9 L733.2,1384.8 L735.2,1384.6 L737.2,1384.5 L739.2,1384.3 L741.2,1384.1 L743.2,1384.0 L745.2,1383.8 L747.2,1383.7 L749.2,1383.5 L751.2,1383.4 L753.2,1383.3 L755.2,1383.2 L757.2,1383.1 L759.2,1383.0 L761.2,1383.0 L763.2,1382.9 L765.2,1382.8 L767.2,1382.8 L769.2,1382.7 L771.2,1382.7 L773.2,1382.6 L775.2,1382.6 L777.2,1382.5 L779.2,1382.5 L781.2,1382.5 L783.2,1382.4 L785.2,1382.4 L787.2,1382.4 L789.2,1382.4 L791.2,1382.4 L793.2,1382.4 L795.2,1382.5 L797.2,1382.5 L799.2,1382.6 L801.2,1382.6 L803.2,1382.7 L805.2,1382.8 L807.2,1382.9 L809.2,1383.0 L811.2,1383.1 L813.2,1383.2 L815.2,1383.3 L817.2,1383.4 L819.2,1383.5 L821.2,1383.7 L823.2,1383.8 L825.2,1384.0 L827.2,1384.2 L829.2,1384.4 L831.2,1384.5 L833.2,1384.7 L835.2,1384.9 L837.2,1385.1 L839.2,1385.3 L841.2,1385.5 L843.2,1385.7 L845.1,1385.9 L847.1,1386.1 L849.1,1386.3 L851.1,1386.5 L853.1,1386.7 L855.1,1386.9 L857.1,1387.1 L859.1,1387.4 L861.1,1387.6 L863.1,1387.8 L865.1,1388.1 L867.0,1388.3 L869.0,1388.6 L871.0,1388.8 L873.0,1389.1 L875.0,1389.3 L877.0,1389.6 L879.0,1389.8 L881.0,1390.0 L882.9,1390.3 L884.9,1390.5 L886.9,1390.7 L888.9,1391.0 L890.9,1391.2 L892.9,1391.4 L894.9,1391.6 L896.9,1391.7 L898.9,1391.9 L900.9,1392.1 L902.9,1392.2 L904.9,1392.4 L906.9,1392.5 L908.8,1392.7 L910.8,1392.8 L912.8,1393.0 L914.8,1393.1 L916.8,1393.2 L918.8,1393.4 L920.8,1393.5 L922.8,1393.6 L924.8,1393.8 L926.8,1393.9 L928.8,1394.0 L930.8,1394.1 L932.8,1394.2 L934.8,1394.4 L936.8,1394.5 L938.8,1394.6 L940.8,1394.7 L942.8,1394.8 L944.8,1394.9 L946.8,1395.0 L948.8,1395.1 L950.8,1395.2 L952.8,1395.3 L954.8,1395.4 L956.8,1395.5 L958.8,1395.5 L960.8,1395.6 L962.8,1395.7 L964.8,1395.8 L966.8,1395.9 L968.8,1396.0 L970.8,1396.0 L972.8,1396.1 L974.8,1396.2 L976.8,1396.2 L978.8,1396.3 L980.8,1396.4 L982.8,1396.4 L984.8,1396.5 L986.8,1396.6 L988.8,1396.6 L990.8,1396.7 L992.8,1396.7 L994.8,1396.8 L996.8,1396.9 L998.8,1396.9 L1000.8,1397.0 L1002.8,1397.0 L1004.8,1397.1 L1006.8,1397.1 L1008.9,1397.2 L1010.9,1397.2 L1012.9,1397.3 L1014.9,1397.4 L1016.9,1397.4 L1018.9,1397.5 L1020.9,1397.5 L1022.9,1397.6 L1024.9,1397.7 L1026.9,1397.7 L1028.9,1397.8 L1030.9,1397.9 L1032.9,1397.9 L1034.9,1398.0 L1036.9,1398.1 L1038.9,1398.2 L1040.9,1398.2 L1042.9,1398.3 L1044.9,1398.4 L1046.9,1398.5 L1048.9,1398.5 L1050.9,1398.6 L1052.9,1398.7 L1054.9,1398.8 L1056.9,1398.9 L1058.9,1398.9 L1060.9,1399.0 L1062.9,1399.1 L1064.9,1399.2 L1066.9,1399.3 L1068.9,1399.4 L1070.9,1399.4 L1072.9,1399.5 L1074.9,1399.6 L1076.9,1399.7 L1078.9,1399.8 L1080.9,1399.9 L1082.9,1400.0 L1084.9,1400.1 L1086.9,1400.2 L1088.9,1400.3 L1090.9,1400.4 L1092.9,1400.6 L1094.9,1400.7 L1096.9,1400.8 L1098.9,1400.9 L1100.9,1401.1 L1102.9,1401.2 L1104.9,1401.3 L1106.8,1401.5 L1108.8,1401.7 L1110.8,1401.8 L1112.8,1402.0 L1114.8,1402.2 L1116.8,1402.4 L1118.8,1402.6 L1120.8,1402.8 L1122.8,1403.0 L1124.8,1403.3 L1126.8,1403.5 L1128.8,1403.7 L1130.8,1403.9 L1132.8,1404.2 L1134.7,1404.4 L1136.7,1404.6 L1138.7,1404.9 L1140.7,1405.1 L1142.7,1405.3 L1144.7,1405.6 L1146.7,1405.8 L1148.6,1406.1 L1150.6,1406.4 L1152.6,1406.6 L1154.6,1406.9 L1156.6,1407.2 L1158.6,1407.5 L1160.5,1407.8 L1162.5,1408.1 L1164.5,1408.4 L1166.5,1408.7 L1168.5,1409.0 L1170.4,1409.3 L1172.4,1409.6 L1174.4,1409.8 L1176.4,1410.1 L1178.4,1410.4 L1180.4,1410.6 L1182.3,1410.9 L1184.3,1411.2 L1186.3,1411.5 L1188.3,1411.7 L1190.3,1412.0 L1192.3,1412.3 L1194.2,1412.6 L1196.2,1412.8 L1198.2,1413.1 L1200.2,1413.4 L1202.2,1413.6 L1204.2,1413.9 L1206.2,1414.1 L1208.2,1414.4 L1210.1,1414.6 L1212.1,1414.8 L1214.1,1415.0 L1216.1,1415.2 L1218.1,1415.4 L1220.1,1415.6 L1222.1,1415.8 L1224.1,1415.9 L1226.1,1416.1 L1228.1,1416.2 L1230.1,1416.4 L1232.1,1416.5 L1234.1,1416.7 L1236.1,1416.8 L1238.1,1416.9 L1240.1,1417.0 L1242.1,1417.1 L1244.1,1417.3 L1246.1,1417.4 L1248.1,1417.5 L1250.1,1417.6 L1252.1,1417.7 L1254.1,1417.8 L1256.1,1417.9 L1258.1,1418.1 L1260.1,1418.2 L1262.1,1418.3 L1264.1,1418.4 L1266.1,1418.5 L1268.1,1418.6 L1270.0,1418.7 L1272.0,1418.8 L1274.0,1418.9 L1276.1,1419.0 L1278.1,1419.1 L1280.1,1419.2 L1282.1,1419.3 L1284.1,1419.3 L1286.1,1419.4 L1288.1,1419.5 L1290.1,1419.5 L1292.1,1419.5 L1294.1,1419.6 L1296.1,1419.6 L1298.1,1419.7 L1300.1,1419.7 L1302.1,1419.8 L1304.1,1419.8 L1306.1,1419.9 L1308.1,1419.9 L1310.1,1419.9 L1312.1,1420.0 L1314.1,1420.0 L1316.1,1420.1 L1318.1,1420.1 L1320.1,1420.1 L1322.1,1420.2 L1324.1,1420.2 L1326.1,1420.3 L1328.1,1420.3 L1330.1,1420.3 L1332.1,1420.4 L1334.1,1420.4 L1336.1,1420.4 L1338.1,1420.5 L1340.1,1420.5 L1342.1,1420.5 L1344.1,1420.6 L1346.1,1420.6 L1348.1,1420.6 L1350.1,1420.6 L1352.1,1420.7 L1354.1,1420.7 L1356.1,1420.7 L1358.1,1420.7 L1360.1,1420.8 L1362.1,1420.8 L1364.1,1420.8 L1366.1,1420.8 L1368.1,1420.8 L1370.1,1420.9 L1372.1,1420.9 L1374.1,1420.9 L1376.1,1420.9 L1378.1,1420.9 L1380.1,1420.9 L1382.1,1421.0 L1384.1,1421.0 L1386.1,1421.0 L1388.1,1421.0 L1390.1,1421.0 L1392.2,1421.0 L1394.2,1421.0 L1396.2,1421.0 L1398.2,1421.0 L1400.2,1421.0 L1402.2,1421.0 L1404.2,1421.0 L1406.2,1421.0 L1408.2,1421.0 L1410.2,1421.0 L1412.2,1421.0 L1414.2,1421.0 L1416.2,1420.9 L1418.2,1420.9 L1420.2,1420.9 L1422.2,1420.9 L1424.2,1420.9 L1426.2,1420.9 L1428.2,1420.8 L1430.2,1420.8 L1432.2,1420.8 L1434.2,1420.8 L1436.2,1420.7 L1438.2,1420.7 L1440.2,1420.7 L1442.2,1420.6 L1444.2,1420.6 L1446.2,1420.6 L1448.2,1420.5 L1450.2,1420.5 L1452.2,1420.5 L1454.2,1420.4 L1456.2,1420.4 L1458.2,1420.3 L1460.2,1420.3 L1462.2,1420.2 L1464.2,1420.2 L1466.2,1420.1 L1468.2,1420.1 L1470.2,1420.0 L1472.2,1419.9 L1474.2,1419.7 L1476.2,1419.5 L1478.2,1419.3 L1480.2,1419.1 L1482.2,1418.8 L1484.2,1418.6 L1486.2,1418.5 L1488.2,1418.4 L1490.2,1418.3 L1492.2,1418.2 L1494.2,1418.1 L1496.2,1418.0 L1498.2,1417.9 L1500.2,1417.8 L1502.2,1417.7 L1504.2,1417.6 L1506.2,1417.5 L1508.2,1417.5 L1510.2,1417.4 L1512.2,1417.3 L1514.2,1417.2 L1516.2,1417.2 L1518.2,1417.1 L1520.2,1417.0 L1522.2,1417.0 L1524.2,1416.9 L1526.2,1416.9 L1528.2,1416.8 L1530.2,1416.7 L1532.2,1416.7 L1534.2,1416.6 L1536.2,1416.5 L1538.2,1416.5 L1540.2,1416.4 L1542.2,1416.3 L1544.2,1416.2 L1546.2,1416.2 L1548.2,1416.1 L1550.2,1416.0 L1552.2,1415.9 L1554.2,1415.8 L1556.2,1415.7 L1558.2,1415.6 L1560.2,1415.5 L1562.2,1415.4 L1564.2,1415.3 L1566.2,1415.3 L1568.2,1415.2 L1570.2,1415.1 L1572.2,1415.0 L1574.2,1414.9 L1576.2,1414.8 L1578.2,1414.7 L1580.2,1414.6 L1582.2,1414.5 L1584.2,1414.4 L1586.2,1414.3 L1588.2,1414.2 L1590.2,1414.1 L1592.2,1414.0 L1594.2,1413.9 L1596.2,1413.8 L1598.2,1413.7 L1600.2,1413.6 L1602.2,1413.5 L1604.2,1413.4 L1606.2,1413.3 L1608.2,1413.2 L1610.2,1413.1 L1612.2,1413.0 L1614.2,1412.9 L1616.2,1412.9 L1618.2,1412.8 L1620.2,1412.8 L1622.2,1412.8 L1624.2,1412.7 L1626.2,1412.7 L1628.2,1412.7 L1630.2,1412.6 L1632.2,1412.6 L1634.2,1412.6 L1636.2,1412.6 L1638.2,1412.6 L1640.2,1412.5 L1642.2,1412.5 L1644.2,1412.5 L1646.2,1412.5 L1648.2,1412.5 L1650.2,1412.5 L1652.2,1412.5 L1654.2,1412.5 L1656.2,1412.5 L1658.2,1412.5 L1660.2,1412.6 L1662.2,1412.6 L1664.2,1412.6 L1666.2,1412.6 L1668.2,1412.6 L1670.2,1412.7 L1672.2,1412.7 L1674.2,1412.7 L1676.2,1412.8 L1678.2,1412.8 L1680.2,1412.8 L1682.2,1412.9 L1684.3,1413.0 L1686.3,1413.0 L1688.3,1413.1 L1690.3,1413.2 L1692.3,1413.3 L1694.3,1413.3 L1696.3,1413.4 L1698.3,1413.5 L1700.3,1413.6 L1702.3,1413.7 L1704.3,1413.9 L1706.3,1414.0 L1708.3,1414.1 L1710.3,1414.2 L1712.3,1414.3 L1714.3,1414.4 L1716.2,1414.5 L1718.2,1414.6 L1720.2,1414.7 L1722.2,1414.8 L1724.2,1414.9 L1726.2,1415.0 L1728.2,1415.2 L1730.2,1415.3 L1732.2,1415.4 L1734.2,1415.5 L1736.2,1415.6 L1738.2,1415.7 L1740.2,1415.9 L1742.2,1416.0 L1744.2,1416.1 L1746.2,1416.2 L1748.2,1416.4 L1750.2,1416.5 L1752.2,1416.6 L1754.2,1416.7 L1756.2,1416.9 L1758.2,1417.0 L1760.2,1417.2 L1762.2,1417.3 L1764.2,1417.5 L1766.2,1417.6 L1768.2,1417.8 L1770.2,1418.0 L1772.2,1418.2 L1774.2,1418.3 L1776.2,1418.5 L1778.2,1418.7 L1780.2,1418.8 L1782.2,1419.0 L1784.2,1419.1 L1786.2,1419.3 L1788.2,1419.4 L1790.2,1419.5 L1792.2,1419.6 L1794.2,1419.7 L1796.2,1419.8 L1798.2,1419.9 L1800.2,1420.0 L1802.2,1420.1 L1804.2,1420.2 L1806.2,1420.3 L1808.2,1420.4 L1810.2,1420.5 L1812.2,1420.6 L1814.2,1420.7 L1816.2,1420.7 L1818.2,1420.8 L1820.2,1420.9 L1822.2,1420.9 L1824.2,1421.0 L1826.2,1421.0 L1828.2,1421.0 L1830.2,1421.0 L1832.2,1421.0 L1834.2,1421.0 L1836.2,1420.9 L1838.2,1420.9 L1840.2,1420.9 L1842.2,1420.8 L1844.2,1420.7 L1846.2,1420.6 L1848.2,1420.6 L1850.2,1420.5 L1852.2,1420.4 L1854.2,1420.3 L1856.2,1420.2 L1858.2,1420.1 L1860.2,1420.0 L1862.2,1419.9 L1864.2,1419.7 L1866.2,1419.5 L1868.2,1419.3 L1870.1,1419.1 L1872.1,1418.8 L1874.1,1418.6 L1876.1,1418.4 L1878.1,1418.2 L1880.1,1418.0 L1882.1,1417.8 L1884.1,1417.6 L1886.1,1417.5 L1888.1,1417.3 L1890.1,1417.1 L1892.1,1417.0 L1894.1,1416.8 L1896.1,1416.7 L1898.1,1416.5 L1900.1,1416.4 L1902.1,1416.2 L1904.1,1416.1 L1906.0,1415.9 L1908.0,1415.8 L1910.0,1415.6 L1912.0,1415.5 L1914.0,1415.4 L1916.0,1415.2 L1918.0,1415.1 L1920.0,1414.9 L1922.0,1414.8 L1924.0,1414.6 L1926.0,1414.5 L1928.0,1414.3 L1930.0,1414.2 L1932.0,1414.0 L1934.0,1413.9 L1936.0,1413.8 L1938.0,1413.7 L1940.0,1413.5 L1942.0,1413.4 L1944.0,1413.3 L1946.0,1413.2 L1948.0,1413.1 L1950.0,1413.1 L1952.0,1413.0 L1954.0,1412.9 L1956.0,1412.9 L1958.0,1412.8 L1960.0,1412.8 L1962.0,1412.7 L1964.0,1412.7 L1966.0,1412.6 L1968.0,1412.6 L1970.0,1412.5 L1972.0,1412.5 L1974.0,1412.5 L1976.0,1412.4 L1978.0,1412.4 L1980.0,1412.4 L1982.0,1412.4 L1984.0,1412.4 L1986.0,1412.4 L1988.0,1412.4 L1990.0,1412.4 L1992.0,1412.5 L1994.0,1412.5 L1996.0,1412.5 L1998.1,1412.5 L2000.1,1412.6 L2002.1,1412.6 L2004.1,1412.7 L2006.1,1412.7 L2008.1,1412.8 L2010.1,1412.8 L2012.1,1412.9 L2014.1,1412.9 L2016.1,1413.0 L2018.0,1413.2 L2020.0,1413.3 L2022.0,1413.4 L2024.0,1413.6 L2026.0,1413.8 L2028.0,1414.0 L2030.0,1414.2 L2032.0,1414.4 L2034.0,1414.6 L2036.0,1414.8 L2038.0,1415.0" fill="none" stroke="#515151" stroke-width="2.6"/>
<path d="M224.0,730.0 L224.1,728.0 L224.2,726.0 L224.3,724.0 L224.4,722.0 L224.5,720.0 L224.6,718.0 L224.7,716.0 L224.8,714.0 L224.9,712.0 L225.0,710.0 L225.1,708.0 L225.2,706.0 L225.3,704.0 L225.4,702.0 L225.5,700.0 L225.6,698.0 L225.7,696.0 L225.8,694.0 L225.9,692.0 L226.0,690.0 L226.1,688.0 L226.2,686.0 L226.3,684.0 L226.4,682.0 L226.5,680.0 L226.6,678.0 L226.7,676.0 L226.9,674.0 L227.0,672.0 L227.1,670.0 L227.2,668.0 L227.3,666.0 L227.4,664.0 L227.5,662.0 L227.6,660.0 L227.7,658.0 L227.8,656.0 L227.9,654.0 L228.0,652.0 L228.2,650.0 L228.3,648.0 L228.4,646.0 L228.5,644.0 L228.6,642.0 L228.7,640.0 L228.8,638.0 L229.0,636.0 L229.1,634.0 L229.2,632.0 L229.3,630.0 L229.4,628.0 L229.5,626.0 L229.6,624.0 L229.8,622.0 L229.9,620.0 L230.0,618.0 L230.1,616.0 L230.2,614.0 L230.3,612.0 L230.4,610.0 L230.6,608.0 L230.7,606.0 L230.8,604.0 L230.9,602.0 L231.0,600.0 L231.1,598.0 L231.2,596.0 L231.3,594.0 L231.4,592.0 L231.5,590.0 L231.6,588.0 L231.7,586.0 L231.8,584.0 L231.9,581.9 L232.0,579.9 L232.1,577.9 L232.2,575.9 L232.3,573.9 L232.4,571.9 L232.5,569.9 L232.6,567.9 L232.7,565.9 L232.8,563.9 L232.9,561.9 L233.0,559.9 L233.1,557.9 L233.2,555.9 L233.3,553.9 L233.4,551.9 L233.5,549.9 L233.6,547.9 L233.7,545.9 L233.8,543.9 L233.9,541.9 L234.0,539.9 L234.1,537.9 L234.3,535.9 L234.4,533.9 L234.5,531.9 L234.6,529.9 L234.7,527.9 L234.8,525.9 L235.0,523.9 L235.1,521.9 L235.2,519.9 L235.3,517.9 L235.5,515.9 L235.6,513.9 L235.7,511.9 L235.9,509.9 L236.0,507.9 L236.2,505.9 L236.3,503.9 L236.5,501.9 L236.7,499.9 L236.8,497.9 L237.0,496.0 L237.2,494.0 L237.3,492.0 L237.5,490.0 L237.7,488.0 L237.8,486.0 L238.0,484.0 L238.2,482.0 L238.3,480.0 L238.5,478.0 L238.7,476.0 L238.8,474.0 L239.0,472.0 L239.2,470.0 L239.3,468.0 L239.5,466.0 L239.7,464.0 L239.8,462.0 L240.0,460.0 L240.2,458.0 L240.3,456.0 L240.5,454.0 L240.6,452.0 L240.8,450.0 L240.9,448.0 L241.1,446.0 L241.2,444.0 L241.4,442.0 L241.5,440.0 L241.7,438.0 L241.8,436.0 L242.0,434.0 L242.1,432.0 L242.3,430.0 L242.4,428.0 L242.6,426.0 L242.7,424.0 L242.9,422.1 L243.1,420.1 L243.3,418.1 L243.4,416.1 L243.6,414.1 L243.8,412.1 L244.0,410.1 L244.2,408.1 L244.4,406.1 L244.7,404.1 L244.9,402.1 L245.1,400.1 L245.4,398.1 L245.7,396.2 L245.9,394.2 L246.1,392.2 L246.4,390.2 L246.6,388.2 L246.8,386.2 L246.9,384.2 L247.1,382.2 L247.3,380.2 L247.4,378.2 L247.6,376.2 L247.8,374.2 L248.0,372.2 L248.2,370.2 L248.4,368.2 L248.7,366.3 L249.0,364.3 L249.4,362.3 L249.7,360.3 L250.1,358.4 L250.6,356.4 L251.1,354.5 L251.6,352.6 L252.2,350.6 L252.7,348.7 L253.2,346.8 L253.7,344.8 L254.0,342.8 L254.3,340.8 L254.7,338.8 L255.1,336.8 L255.5,334.9 L256.1,333.0 L257.0,331.1 L258.1,329.4 L259.6,328.1 L261.4,327.4 L262.6,328.4 L263.6,330.6 L264.5,332.6 L265.3,334.4 L266.0,336.3 L266.7,338.2 L267.2,340.1 L267.7,342.1 L268.1,344.0 L268.6,346.0 L269.1,347.9 L269.6,349.9 L270.0,351.8 L270.5,353.8 L270.9,355.7 L271.4,357.7 L271.8,359.6 L272.2,361.6 L272.6,363.6 L272.9,365.5 L273.2,367.5 L273.6,369.5 L273.8,371.5 L274.1,373.5 L274.4,375.4 L274.7,377.4 L274.9,379.4 L275.2,381.4 L275.4,383.4 L275.7,385.4 L275.9,387.4 L276.2,389.4 L276.4,391.3 L276.7,393.3 L276.9,395.3 L277.2,397.3 L277.5,399.3 L277.8,401.3 L278.1,403.2 L278.4,405.2 L278.7,407.2 L278.9,409.2 L279.1,411.2 L279.3,413.2 L279.5,415.2 L279.7,417.2 L279.9,419.2 L280.1,421.2 L280.3,423.1 L280.4,425.1 L280.6,427.1 L280.7,429.1 L280.9,431.1 L281.0,433.1 L281.2,435.1 L281.3,437.1 L281.5,439.1 L281.6,441.1 L281.8,443.1 L281.9,445.1 L282.1,447.1 L282.2,449.1 L282.3,451.1 L282.5,453.1 L282.6,455.1 L282.8,457.1 L282.9,459.1 L283.1,461.1 L283.2,463.1 L283.4,465.1 L283.6,467.1 L283.7,469.1 L283.9,471.1 L284.0,473.1 L284.2,475.1 L284.3,477.1 L284.5,479.1 L284.6,481.1 L284.8,483.1 L284.9,485.1 L285.1,487.1 L285.3,489.1 L285.4,491.1 L285.6,493.1 L285.7,495.1 L285.9,497.1 L286.0,499.1 L286.2,501.1 L286.3,503.1 L286.5,505.1 L286.6,507.1 L286.8,509.1 L286.9,511.1 L287.1,513.1 L287.2,515.1 L287.4,517.1 L287.5,519.1 L287.7,521.1 L287.8,523.1 L288.0,525.1 L288.1,527.0 L288.3,529.0 L288.4,531.0 L288.6,533.0 L288.7,535.0 L288.9,537.0 L289.0,539.0 L289.1,541.0 L289.3,543.0 L289.4,545.0 L289.6,547.0 L289.7,549.0 L289.9,551.0 L290.0,553.0 L290.1,555.0 L290.3,557.0 L290.4,559.0 L290.6,561.0 L290.7,563.0 L290.8,565.0 L291.0,567.0 L291.1,569.0 L291.3,571.0 L291.4,573.0 L291.5,575.0 L291.7,577.0 L291.8,579.0 L292.0,581.0 L292.1,583.0 L292.2,585.0 L292.4,587.0 L292.5,589.0 L292.7,591.0 L292.8,593.0 L292.9,595.0 L293.1,597.0 L293.2,599.0 L293.4,601.0 L293.5,603.0 L293.7,605.0 L293.8,607.0 L294.0,609.0 L294.1,611.0 L294.2,613.0 L294.4,615.0 L294.5,617.0 L294.7,619.0 L294.8,621.0 L295.0,623.0 L295.1,625.0 L295.3,627.0 L295.5,629.0 L295.6,631.0 L295.8,633.0 L295.9,635.0 L296.1,637.0 L296.2,639.0 L296.4,641.0 L296.6,643.0 L296.7,644.9 L296.9,646.9 L297.1,648.9 L297.2,650.9 L297.4,652.9 L297.6,654.9 L297.7,656.9 L297.9,658.9 L298.1,660.9 L298.3,662.9 L298.4,664.9 L298.6,666.9 L298.8,668.9 L299.0,670.9 L299.2,672.9 L299.4,674.9 L299.7,676.9 L299.9,678.9 L300.1,680.9 L300.3,682.8 L300.5,684.8 L300.7,686.8 L300.9,688.8 L301.1,690.8 L301.3,692.8 L301.5,694.8 L301.7,696.8 L301.9,698.8 L302.1,700.8 L302.3,702.8 L302.4,704.8 L302.6,706.8 L302.8,708.8 L303.0,710.8 L303.1,712.8 L303.3,714.8 L303.5,716.8 L303.7,718.7 L303.8,720.7 L304.0,722.7 L304.2,724.7 L304.3,726.7 L304.5,728.7 L304.7,730.7 L304.8,732.7 L305.0,734.7 L305.2,736.7 L305.3,738.7 L305.5,740.7 L305.7,742.7 L305.8,744.7 L306.0,746.7 L306.1,748.7 L306.3,750.7 L306.5,752.7 L306.6,754.7 L306.8,756.7 L306.9,758.7 L307.1,760.7 L307.2,762.7 L307.4,764.7 L307.6,766.7 L307.7,768.7 L307.9,770.7 L308.0,772.7 L308.2,774.7 L308.3,776.7 L308.5,778.7 L308.6,780.7 L308.8,782.7 L308.9,784.7 L309.1,786.7 L309.3,788.6 L309.4,790.6 L309.6,792.6 L309.7,794.6 L309.9,796.6 L310.0,798.6 L310.2,800.6 L310.3,802.6 L310.5,804.6 L310.6,806.6 L310.8,808.6 L310.9,810.6 L311.1,812.6 L311.2,814.6 L311.4,816.6 L311.5,818.6 L311.7,820.6 L311.9,822.6 L312.0,824.6 L312.2,826.6 L312.3,828.6 L312.5,830.6 L312.6,832.6 L312.8,834.6 L312.9,836.6 L313.1,838.6 L313.3,840.6 L313.4,842.6 L313.6,844.6 L313.7,846.6 L313.9,848.6 L314.0,850.6 L314.2,852.6 L314.4,854.6 L314.5,856.6 L314.7,858.6 L314.8,860.6 L315.0,862.6 L315.1,864.6 L315.3,866.6 L315.4,868.6 L315.6,870.6 L315.8,872.6 L315.9,874.6 L316.1,876.5 L316.2,878.5 L316.4,880.5 L316.5,882.5 L316.7,884.5 L316.8,886.5 L317.0,888.5 L317.1,890.5 L317.3,892.5 L317.4,894.5 L317.6,896.5 L317.7,898.5 L317.8,900.5 L318.0,902.5 L318.1,904.5 L318.3,906.5 L318.4,908.5 L318.6,910.5 L318.7,912.5 L318.9,914.5 L319.0,916.5 L319.2,918.5 L319.3,920.5 L319.5,922.5 L319.6,924.5 L319.8,926.5 L319.9,928.5 L320.1,930.5 L320.2,932.5 L320.4,934.5 L320.6,936.5 L320.7,938.5 L320.9,940.5 L321.0,942.5 L321.2,944.5 L321.3,946.5 L321.5,948.5 L321.7,950.5 L321.8,952.5 L322.0,954.5 L322.1,956.5 L322.3,958.5 L322.5,960.5 L322.6,962.5 L322.8,964.5 L323.0,966.5 L323.1,968.5 L323.3,970.4 L323.5,972.4 L323.7,974.4 L323.8,976.4 L324.0,978.4 L324.2,980.4 L324.4,982.4 L324.5,984.4 L324.7,986.4 L324.9,988.4 L325.1,990.4 L325.3,992.4 L325.5,994.4 L325.7,996.4 L325.8,998.4 L326.0,1000.4 L326.2,1002.4 L326.4,1004.3 L326.6,1006.3 L326.8,1008.3 L327.1,1010.3 L327.3,1012.3 L327.5,1014.3 L327.7,1016.3 L327.9,1018.3 L328.1,1020.3 L328.4,1022.3 L328.6,1024.3 L328.8,1026.3 L329.1,1028.2 L329.3,1030.2 L329.5,1032.2 L329.8,1034.2 L330.0,1036.2 L330.3,1038.2 L330.5,1040.2 L330.7,1042.2 L331.0,1044.2 L331.2,1046.1 L331.5,1048.1 L331.7,1050.1 L332.0,1052.1 L332.2,1054.1 L332.5,1056.1 L332.7,1058.1 L333.0,1060.1 L333.2,1062.0 L333.5,1064.0 L333.7,1066.0 L334.0,1068.0 L334.3,1070.0 L334.5,1072.0 L334.8,1074.0 L335.0,1076.0 L335.3,1078.0 L335.5,1079.9 L335.8,1081.9 L336.0,1083.9 L336.3,1085.9 L336.5,1087.9 L336.8,1089.9 L337.0,1091.9 L337.3,1093.9 L337.5,1095.8 L337.7,1097.8 L338.0,1099.8 L338.2,1101.8 L338.5,1103.8 L338.7,1105.8 L338.9,1107.8 L339.1,1109.8 L339.4,1111.8 L339.6,1113.8 L339.8,1115.8 L340.1,1117.7 L340.3,1119.7 L340.5,1121.7 L340.7,1123.7 L341.0,1125.7 L341.2,1127.7 L341.4,1129.7 L341.7,1131.7 L341.9,1133.7 L342.2,1135.7 L342.4,1137.6 L342.6,1139.6 L342.9,1141.6 L343.1,1143.6 L343.4,1145.6 L343.7,1147.6 L343.9,1149.6 L344.2,1151.5 L344.5,1153.5 L344.8,1155.5 L345.1,1157.5 L345.3,1159.5 L345.6,1161.5 L345.9,1163.4 L346.2,1165.4 L346.5,1167.4 L346.9,1169.4 L347.2,1171.4 L347.5,1173.3 L347.8,1175.3 L348.1,1177.3 L348.4,1179.3 L348.8,1181.3 L349.1,1183.2 L349.4,1185.2 L349.8,1187.2 L350.1,1189.2 L350.4,1191.1 L350.8,1193.1 L351.1,1195.1 L351.5,1197.1 L351.8,1199.0 L352.2,1201.0 L352.5,1203.0 L352.9,1204.9 L353.2,1206.9 L353.6,1208.9 L354.0,1210.9 L354.3,1212.8 L354.7,1214.8 L355.0,1216.8 L355.4,1218.8 L355.8,1220.7 L356.2,1222.7 L356.5,1224.7 L356.9,1226.6 L357.3,1228.6 L357.7,1230.6 L358.1,1232.5 L358.5,1234.5 L358.9,1236.5 L359.4,1238.4 L359.8,1240.4 L360.2,1242.3 L360.7,1244.3 L361.1,1246.2 L361.6,1248.2 L362.0,1250.1 L362.5,1252.0 L363.0,1254.0 L363.5,1255.9 L364.0,1257.9 L364.5,1259.8 L365.0,1261.8 L365.5,1263.7 L366.0,1265.6 L366.6,1267.6 L367.1,1269.5 L367.7,1271.4 L368.3,1273.3 L368.8,1275.3 L369.4,1277.2 L370.0,1279.1 L370.6,1281.0 L371.2,1282.9 L371.8,1284.9 L372.4,1286.8 L373.1,1288.7 L373.7,1290.6 L374.4,1292.5 L375.0,1294.4 L375.7,1296.2 L376.3,1298.1 L377.0,1300.0 L377.7,1301.9 L378.4,1303.8 L379.1,1305.6 L379.8,1307.5 L380.5,1309.4 L381.3,1311.3 L382.0,1313.1 L382.8,1315.0 L383.6,1316.9 L384.4,1318.7 L385.3,1320.5 L386.1,1322.3 L387.0,1324.1 L387.9,1325.9 L388.8,1327.7 L389.7,1329.4 L390.7,1331.2 L391.7,1332.9 L392.7,1334.6 L393.8,1336.3 L394.9,1337.9 L396.1,1339.6 L397.3,1341.2 L398.5,1342.8 L399.7,1344.5 L400.9,1346.1 L402.1,1347.6 L403.4,1349.2 L404.6,1350.8 L405.9,1352.3 L407.1,1353.9 L408.4,1355.5 L409.7,1357.0 L411.0,1358.6 L412.3,1360.1 L413.7,1361.6 L415.0,1363.1 L416.4,1364.6 L417.8,1366.0 L419.2,1367.4 L420.6,1368.8 L422.1,1370.1 L423.6,1371.4 L425.1,1372.7 L426.7,1374.0 L428.2,1375.3 L429.8,1376.6 L431.5,1377.8 L433.1,1379.0 L434.8,1380.1 L436.5,1381.1 L438.2,1382.1 L440.0,1383.0 L441.7,1383.8 L443.6,1384.6 L445.4,1385.4 L447.3,1386.1 L449.2,1386.8 L451.1,1387.4 L453.0,1388.0 L455.0,1388.6 L456.9,1389.2 L458.9,1389.7 L460.8,1390.2 L462.7,1390.7 L464.7,1391.1 L466.6,1391.6 L468.6,1392.0 L470.5,1392.4 L472.5,1392.8 L474.5,1393.2 L476.4,1393.5 L478.4,1393.9 L480.4,1394.2 L482.4,1394.6 L484.4,1395.0 L486.3,1395.3 L488.3,1395.7 L490.3,1396.1 L492.2,1396.4 L494.2,1396.8 L496.2,1397.2 L498.1,1397.7 L500.1,1398.1 L502.1,1398.5 L504.0,1398.9 L506.0,1399.3 L508.0,1399.7 L509.9,1400.1 L511.9,1400.4 L513.9,1400.7 L515.9,1401.0 L517.9,1401.3 L519.8,1401.5 L521.8,1401.7 L523.8,1401.8 L525.8,1402.0 L527.8,1402.1 L529.8,1402.3 L531.8,1402.4 L533.8,1402.5 L535.8,1402.6 L537.8,1402.8 L539.8,1402.9 L541.8,1403.0 L543.8,1403.1 L545.8,1403.3 L547.8,1403.4 L549.8,1403.5 L551.8,1403.6 L553.8,1403.7 L555.8,1403.8 L557.8,1403.9 L559.8,1404.0 L561.8,1404.2 L563.8,1404.3 L565.8,1404.4 L567.8,1404.5 L569.8,1404.6 L571.8,1404.7 L573.8,1404.9 L575.8,1405.0 L577.8,1405.1 L579.8,1405.3 L581.8,1405.4 L583.8,1405.6 L585.8,1405.7 L587.8,1405.9 L589.8,1406.1 L591.8,1406.3 L593.8,1406.5 L595.8,1406.7 L597.8,1407.0 L599.8,1407.2 L601.7,1407.4 L603.7,1407.7 L605.7,1408.0 L607.7,1408.2 L609.7,1408.5 L611.7,1408.7 L613.7,1409.0 L615.7,1409.2 L617.7,1409.4 L619.6,1409.7 L621.6,1409.9 L623.6,1410.1 L625.6,1410.3 L627.6,1410.6 L629.6,1410.8 L631.6,1411.1 L633.6,1411.3 L635.6,1411.5 L637.6,1411.8 L639.6,1412.0 L641.6,1412.2 L643.6,1412.4 L645.6,1412.6 L647.5,1412.7 L649.5,1412.9 L651.5,1413.0 L653.5,1413.1 L655.5,1413.1 L657.5,1413.2 L659.5,1413.3 L661.5,1413.3 L663.5,1413.4 L665.5,1413.5 L667.5,1413.5 L669.5,1413.6 L671.5,1413.6 L673.6,1413.7 L675.6,1413.7 L677.6,1413.8 L679.6,1413.8 L681.6,1413.8 L683.6,1413.9 L685.6,1413.9 L687.6,1413.9 L689.6,1413.9 L691.6,1414.0 L693.6,1414.0 L695.6,1414.0 L697.6,1414.0 L699.6,1414.0 L701.6,1414.0 L703.6,1414.0 L705.6,1414.0 L707.6,1414.0 L709.6,1414.0 L711.6,1414.0 L713.6,1414.0 L715.6,1414.0 L717.6,1414.0 L719.6,1413.9 L721.6,1413.9 L723.7,1413.9 L725.7,1413.9 L727.7,1413.9 L729.7,1413.9 L731.7,1413.9 L733.7,1413.9 L735.7,1413.8 L737.7,1413.8 L739.7,1413.8 L741.7,1413.8 L743.7,1413.8 L745.7,1413.7 L747.7,1413.7 L749.7,1413.6 L751.7,1413.6 L753.7,1413.5 L755.7,1413.5 L757.7,1413.4 L759.7,1413.3 L761.7,1413.3 L763.7,1413.2 L765.7,1413.1 L767.7,1413.0 L769.7,1413.0 L771.7,1412.9 L773.7,1412.8 L775.7,1412.7 L777.7,1412.6 L779.7,1412.5 L781.7,1412.4 L783.7,1412.3 L785.7,1412.1 L787.7,1412.0 L789.7,1411.8 L791.7,1411.6 L793.7,1411.4 L795.7,1411.2 L797.7,1411.0 L799.7,1410.8 L801.7,1410.6 L803.7,1410.5 L805.7,1410.4 L807.7,1410.3 L809.7,1410.2 L811.7,1410.2 L813.7,1410.1 L815.7,1410.1 L817.7,1410.1 L819.7,1410.0 L821.7,1410.0 L823.7,1410.0 L825.7,1409.9 L827.7,1409.9 L829.7,1409.9 L831.7,1409.9 L833.7,1409.8 L835.7,1409.8 L837.7,1409.8 L839.7,1409.8 L841.7,1409.8 L843.8,1409.8 L845.8,1409.8 L847.8,1409.8 L849.8,1409.8 L851.8,1409.9 L853.8,1409.9 L855.8,1409.9 L857.8,1410.0 L859.8,1410.0 L861.8,1410.1 L863.8,1410.1 L865.8,1410.2 L867.8,1410.2 L869.8,1410.3 L871.8,1410.4 L873.8,1410.4 L875.8,1410.5 L877.8,1410.5 L879.8,1410.6 L881.8,1410.6 L883.8,1410.7 L885.8,1410.7 L887.8,1410.8 L889.8,1410.8 L891.8,1410.9 L893.8,1410.9 L895.8,1411.0 L897.8,1411.1 L899.8,1411.1 L901.8,1411.2 L903.8,1411.2 L905.8,1411.3 L907.8,1411.3 L909.9,1411.4 L911.9,1411.4 L913.9,1411.5 L915.9,1411.5 L917.9,1411.6 L919.9,1411.6 L921.9,1411.7 L923.9,1411.7 L925.9,1411.8 L927.9,1411.9 L929.9,1411.9 L931.9,1412.0 L933.9,1412.0 L935.9,1412.1 L937.9,1412.1 L939.9,1412.2 L941.9,1412.3 L943.9,1412.3 L945.9,1412.4 L947.9,1412.4 L949.9,1412.5 L951.9,1412.5 L953.9,1412.6 L955.9,1412.7 L957.9,1412.7 L959.9,1412.8 L961.9,1412.8 L963.9,1412.9 L965.9,1413.0 L967.9,1413.0 L969.9,1413.1 L971.9,1413.1 L973.9,1413.2 L975.9,1413.3 L977.9,1413.3 L979.9,1413.4 L981.9,1413.5 L984.0,1413.5 L986.0,1413.6 L988.0,1413.7 L990.0,1413.7 L992.0,1413.8 L994.0,1413.9 L996.0,1413.9 L998.0,1414.0 L1000.0,1414.1 L1002.0,1414.1 L1004.0,1414.2 L1006.0,1414.3 L1008.0,1414.3 L1010.0,1414.4 L1012.0,1414.5 L1014.0,1414.6 L1016.0,1414.6 L1018.0,1414.7 L1020.0,1414.8 L1022.0,1414.9 L1024.0,1414.9 L1026.0,1415.0 L1026.0,1421.0 L224.0,1421.0 Z" fill="#FABBBB" fill-opacity="0.5" stroke="none"/>
<path d="M224.0,730.0 L224.1,728.0 L224.2,726.0 L224.3,724.0 L224.4,722.0 L224.5,720.0 L224.6,718.0 L224.7,716.0 L224.8,714.0 L224.9,712.0 L225.0,710.0 L225.1,708.0 L225.2,706.0 L225.3,704.0 L225.4,702.0 L225.5,700.0 L225.6,698.0 L225.7,696.0 L225.8,694.0 L225.9,692.0 L226.0,690.0 L226.1,688.0 L226.2,686.0 L226.3,684.0 L226.4,682.0 L226.5,680.0 L226.6,678.0 L226.7,676.0 L226.9,674.0 L227.0,672.0 L227.1,670.0 L227.2,668.0 L227.3,666.0 L227.4,664.0 L227.5,662.0 L227.6,660.0 L227.7,658.0 L227.8,656.0 L227.9,654.0 L228.0,652.0 L228.2,650.0 L228.3,648.0 L228.4,646.0 L228.5,644.0 L228.6,642.0 L228.7,640.0 L228.8,638.0 L229.0,636.0 L229.1,634.0 L229.2,632.0 L229.3,630.0 L229.4,628.0 L229.5,626.0 L229.6,624.0 L229.8,622.0 L229.9,620.0 L230.0,618.0 L230.1,616.0 L230.2,614.0 L230.3,612.0 L230.4,610.0 L230.6,608.0 L230.7,606.0 L230.8,604.0 L230.9,602.0 L231.0,600.0 L231.1,598.0 L231.2,596.0 L231.3,594.0 L231.4,592.0 L231.5,590.0 L231.6,588.0 L231.7,586.0 L231.8,584.0 L231.9,581.9 L232.0,579.9 L232.1,577.9 L232.2,575.9 L232.3,573.9 L232.4,571.9 L232.5,569.9 L232.6,567.9 L232.7,565.9 L232.8,563.9 L232.9,561.9 L233.0,559.9 L233.1,557.9 L233.2,555.9 L233.3,553.9 L233.4,551.9 L233.5,549.9 L233.6,547.9 L233.7,545.9 L233.8,543.9 L233.9,541.9 L234.0,539.9 L234.1,537.9 L234.3,535.9 L234.4,533.9 L234.5,531.9 L234.6,529.9 L234.7,527.9 L234.8,525.9 L235.0,523.9 L235.1,521.9 L235.2,519.9 L235.3,517.9 L235.5,515.9 L235.6,513.9 L235.7,511.9 L235.9,509.9 L236.0,507.9 L236.2,505.9 L236.3,503.9 L236.5,501.9 L236.7,499.9 L236.8,497.9 L237.0,496.0 L237.2,494.0 L237.3,492.0 L237.5,490.0 L237.7,488.0 L237.8,486.0 L238.0,484.0 L238.2,482.0 L238.3,480.0 L238.5,478.0 L238.7,476.0 L238.8,474.0 L239.0,472.0 L239.2,470.0 L239.3,468.0 L239.5,466.0 L239.7,464.0 L239.8,462.0 L240.0,460.0 L240.2,458.0 L240.3,456.0 L240.5,454.0 L240.6,452.0 L240.8,450.0 L240.9,448.0 L241.1,446.0 L241.2,444.0 L241.4,442.0 L241.5,440.0 L241.7,438.0 L241.8,436.0 L242.0,434.0 L242.1,432.0 L242.3,430.0 L242.4,428.0 L242.6,426.0 L242.7,424.0 L242.9,422.1 L243.1,420.1 L243.3,418.1 L243.4,416.1 L243.6,414.1 L243.8,412.1 L244.0,410.1 L244.2,408.1 L244.4,406.1 L244.7,404.1 L244.9,402.1 L245.1,400.1 L245.4,398.1 L245.7,396.2 L245.9,394.2 L246.1,392.2 L246.4,390.2 L246.6,388.2 L246.8,386.2 L246.9,384.2 L247.1,382.2 L247.3,380.2 L247.4,378.2 L247.6,376.2 L247.8,374.2 L248.0,372.2 L248.2,370.2 L248.4,368.2 L248.7,366.3 L249.0,364.3 L249.4,362.3 L249.7,360.3 L250.1,358.4 L250.6,356.4 L251.1,354.5 L251.6,352.6 L252.2,350.6 L252.7,348.7 L253.2,346.8 L253.7,344.8 L254.0,342.8 L254.3,340.8 L254.7,338.8 L255.1,336.8 L255.5,334.9 L256.1,333.0 L257.0,331.1 L258.1,329.4 L259.6,328.1 L261.4,327.4 L262.6,328.4 L263.6,330.6 L264.5,332.6 L265.3,334.4 L266.0,336.3 L266.7,338.2 L267.2,340.1 L267.7,342.1 L268.1,344.0 L268.6,346.0 L269.1,347.9 L269.6,349.9 L270.0,351.8 L270.5,353.8 L270.9,355.7 L271.4,357.7 L271.8,359.6 L272.2,361.6 L272.6,363.6 L272.9,365.5 L273.2,367.5 L273.6,369.5 L273.8,371.5 L274.1,373.5 L274.4,375.4 L274.7,377.4 L274.9,379.4 L275.2,381.4 L275.4,383.4 L275.7,385.4 L275.9,387.4 L276.2,389.4 L276.4,391.3 L276.7,393.3 L276.9,395.3 L277.2,397.3 L277.5,399.3 L277.8,401.3 L278.1,403.2 L278.4,405.2 L278.7,407.2 L278.9,409.2 L279.1,411.2 L279.3,413.2 L279.5,415.2 L279.7,417.2 L279.9,419.2 L280.1,421.2 L280.3,423.1 L280.4,425.1 L280.6,427.1 L280.7,429.1 L280.9,431.1 L281.0,433.1 L281.2,435.1 L281.3,437.1 L281.5,439.1 L281.6,441.1 L281.8,443.1 L281.9,445.1 L282.1,447.1 L282.2,449.1 L282.3,451.1 L282.5,453.1 L282.6,455.1 L282.8,457.1 L282.9,459.1 L283.1,461.1 L283.2,463.1 L283.4,465.1 L283.6,467.1 L283.7,469.1 L283.9,471.1 L284.0,473.1 L284.2,475.1 L284.3,477.1 L284.5,479.1 L284.6,481.1 L284.8,483.1 L284.9,485.1 L285.1,487.1 L285.3,489.1 L285.4,491.1 L285.6,493.1 L285.7,495.1 L285.9,497.1 L286.0,499.1 L286.2,501.1 L286.3,503.1 L286.5,505.1 L286.6,507.1 L286.8,509.1 L286.9,511.1 L287.1,513.1 L287.2,515.1 L287.4,517.1 L287.5,519.1 L287.7,521.1 L287.8,523.1 L288.0,525.1 L288.1,527.0 L288.3,529.0 L288.4,531.0 L288.6,533.0 L288.7,535.0 L288.9,537.0 L289.0,539.0 L289.1,541.0 L289.3,543.0 L289.4,545.0 L289.6,547.0 L289.7,549.0 L289.9,551.0 L290.0,553.0 L290.1,555.0 L290.3,557.0 L290.4,559.0 L290.6,561.0 L290.7,563.0 L290.8,565.0 L291.0,567.0 L291.1,569.0 L291.3,571.0 L291.4,573.0 L291.5,575.0 L291.7,577.0 L291.8,579.0 L292.0,581.0 L292.1,583.0 L292.2,585.0 L292.4,587.0 L292.5,589.0 L292.7,591.0 L292.8,593.0 L292.9,595.0 L293.1,597.0 L293.2,599.0 L293.4,601.0 L293.5,603.0 L293.7,605.0 L293.8,607.0 L294.0,609.0 L294.1,611.0 L294.2,613.0 L294.4,615.0 L294.5,617.0 L294.7,619.0 L294.8,621.0 L295.0,623.0 L295.1,625.0 L295.3,627.0 L295.5,629.0 L295.6,631.0 L295.8,633.0 L295.9,635.0 L296.1,637.0 L296.2,639.0 L296.4,641.0 L296.6,643.0 L296.7,644.9 L296.9,646.9 L297.1,648.9 L297.2,650.9 L297.4,652.9 L297.6,654.9 L297.7,656.9 L297.9,658.9 L298.1,660.9 L298.3,662.9 L298.4,664.9 L298.6,666.9 L298.8,668.9 L299.0,670.9 L299.2,672.9 L299.4,674.9 L299.7,676.9 L299.9,678.9 L300.1,680.9 L300.3,682.8 L300.5,684.8 L300.7,686.8 L300.9,688.8 L301.1,690.8 L301.3,692.8 L301.5,694.8 L301.7,696.8 L301.9,698.8 L302.1,700.8 L302.3,702.8 L302.4,704.8 L302.6,706.8 L302.8,708.8 L303.0,710.8 L303.1,712.8 L303.3,714.8 L303.5,716.8 L303.7,718.7 L303.8,720.7 L304.0,722.7 L304.2,724.7 L304.3,726.7 L304.5,728.7 L304.7,730.7 L304.8,732.7 L305.0,734.7 L305.2,736.7 L305.3,738.7 L305.5,740.7 L305.7,742.7 L305.8,744.7 L306.0,746.7 L306.1,748.7 L306.3,750.7 L306.5,752.7 L306.6,754.7 L306.8,756.7 L306.9,758.7 L307.1,760.7 L307.2,762.7 L307.4,764.7 L307.6,766.7 L307.7,768.7 L307.9,770.7 L308.0,772.7 L308.2,774.7 L308.3,776.7 L308.5,778.7 L308.6,780.7 L308.8,782.7 L308.9,784.7 L309.1,786.7 L309.3,788.6 L309.4,790.6 L309.6,792.6 L309.7,794.6 L309.9,796.6 L310.0,798.6 L310.2,800.6 L310.3,802.6 L310.5,804.6 L310.6,806.6 L310.8,808.6 L310.9,810.6 L311.1,812.6 L311.2,814.6 L311.4,816.6 L311.5,818.6 L311.7,820.6 L311.9,822.6 L312.0,824.6 L312.2,826.6 L312.3,828.6 L312.5,830.6 L312.6,832.6 L312.8,834.6 L312.9,836.6 L313.1,838.6 L313.3,840.6 L313.4,842.6 L313.6,844.6 L313.7,846.6 L313.9,848.6 L314.0,850.6 L314.2,852.6 L314.4,854.6 L314.5,856.6 L314.7,858.6 L314.8,860.6 L315.0,862.6 L315.1,864.6 L315.3,866.6 L315.4,868.6 L315.6,870.6 L315.8,872.6 L315.9,874.6 L316.1,876.5 L316.2,878.5 L316.4,880.5 L316.5,882.5 L316.7,884.5 L316.8,886.5 L317.0,888.5 L317.1,890.5 L317.3,892.5 L317.4,894.5 L317.6,896.5 L317.7,898.5 L317.8,900.5 L318.0,902.5 L318.1,904.5 L318.3,906.5 L318.4,908.5 L318.6,910.5 L318.7,912.5 L318.9,914.5 L319.0,916.5 L319.2,918.5 L319.3,920.5 L319.5,922.5 L319.6,924.5 L319.8,926.5 L319.9,928.5 L320.1,930.5 L320.2,932.5 L320.4,934.5 L320.6,936.5 L320.7,938.5 L320.9,940.5 L321.0,942.5 L321.2,944.5 L321.3,946.5 L321.5,948.5 L321.7,950.5 L321.8,952.5 L322.0,954.5 L322.1,956.5 L322.3,958.5 L322.5,960.5 L322.6,962.5 L322.8,964.5 L323.0,966.5 L323.1,968.5 L323.3,970.4 L323.5,972.4 L323.7,974.4 L323.8,976.4 L324.0,978.4 L324.2,980.4 L324.4,982.4 L324.5,984.4 L324.7,986.4 L324.9,988.4 L325.1,990.4 L325.3,992.4 L325.5,994.4 L325.7,996.4 L325.8,998.4 L326.0,1000.4 L326.2,1002.4 L326.4,1004.3 L326.6,1006.3 L326.8,1008.3 L327.1,1010.3 L327.3,1012.3 L327.5,1014.3 L327.7,1016.3 L327.9,1018.3 L328.1,1020.3 L328.4,1022.3 L328.6,1024.3 L328.8,1026.3 L329.1,1028.2 L329.3,1030.2 L329.5,1032.2 L329.8,1034.2 L330.0,1036.2 L330.3,1038.2 L330.5,1040.2 L330.7,1042.2 L331.0,1044.2 L331.2,1046.1 L331.5,1048.1 L331.7,1050.1 L332.0,1052.1 L332.2,1054.1 L332.5,1056.1 L332.7,1058.1 L333.0,1060.1 L333.2,1062.0 L333.5,1064.0 L333.7,1066.0 L334.0,1068.0 L334.3,1070.0 L334.5,1072.0 L334.8,1074.0 L335.0,1076.0 L335.3,1078.0 L335.5,1079.9 L335.8,1081.9 L336.0,1083.9 L336.3,1085.9 L336.5,1087.9 L336.8,1089.9 L337.0,1091.9 L337.3,1093.9 L337.5,1095.8 L337.7,1097.8 L338.0,1099.8 L338.2,1101.8 L338.5,1103.8 L338.7,1105.8 L338.9,1107.8 L339.1,1109.8 L339.4,1111.8 L339.6,1113.8 L339.8,1115.8 L340.1,1117.7 L340.3,1119.7 L340.5,1121.7 L340.7,1123.7 L341.0,1125.7 L341.2,1127.7 L341.4,1129.7 L341.7,1131.7 L341.9,1133.7 L342.2,1135.7 L342.4,1137.6 L342.6,1139.6 L342.9,1141.6 L343.1,1143.6 L343.4,1145.6 L343.7,1147.6 L343.9,1149.6 L344.2,1151.5 L344.5,1153.5 L344.8,1155.5 L345.1,1157.5 L345.3,1159.5 L345.6,1161.5 L345.9,1163.4 L346.2,1165.4 L346.5,1167.4 L346.9,1169.4 L347.2,1171.4 L347.5,1173.3 L347.8,1175.3 L348.1,1177.3 L348.4,1179.3 L348.8,1181.3 L349.1,1183.2 L349.4,1185.2 L349.8,1187.2 L350.1,1189.2 L350.4,1191.1 L350.8,1193.1 L351.1,1195.1 L351.5,1197.1 L351.8,1199.0 L352.2,1201.0 L352.5,1203.0 L352.9,1204.9 L353.2,1206.9 L353.6,1208.9 L354.0,1210.9 L354.3,1212.8 L354.7,1214.8 L355.0,1216.8 L355.4,1218.8 L355.8,1220.7 L356.2,1222.7 L356.5,1224.7 L356.9,1226.6 L357.3,1228.6 L357.7,1230.6 L358.1,1232.5 L358.5,1234.5 L358.9,1236.5 L359.4,1238.4 L359.8,1240.4 L360.2,1242.3 L360.7,1244.3 L361.1,1246.2 L361.6,1248.2 L362.0,1250.1 L362.5,1252.0 L363.0,1254.0 L363.5,1255.9 L364.0,1257.9 L364.5,1259.8 L365.0,1261.8 L365.5,1263.7 L366.0,1265.6 L366.6,1267.6 L367.1,1269.5 L367.7,1271.4 L368.3,1273.3 L368.8,1275.3 L369.4,1277.2 L370.0,1279.1 L370.6,1281.0 L371.2,1282.9 L371.8,1284.9 L372.4,1286.8 L373.1,1288.7 L373.7,1290.6 L374.4,1292.5 L375.0,1294.4 L375.7,1296.2 L376.3,1298.1 L377.0,1300.0 L377.7,1301.9 L378.4,1303.8 L379.1,1305.6 L379.8,1307.5 L380.5,1309.4 L381.3,1311.3 L382.0,1313.1 L382.8,1315.0 L383.6,1316.9 L384.4,1318.7 L385.3,1320.5 L386.1,1322.3 L387.0,1324.1 L387.9,1325.9 L388.8,1327.7 L389.7,1329.4 L390.7,1331.2 L391.7,1332.9 L392.7,1334.6 L393.8,1336.3 L394.9,1337.9 L396.1,1339.6 L397.3,1341.2 L398.5,1342.8 L399.7,1344.5 L400.9,1346.1 L402.1,1347.6 L403.4,1349.2 L404.6,1350.8 L405.9,1352.3 L407.1,1353.9 L408.4,1355.5 L409.7,1357.0 L411.0,1358.6 L412.3,1360.1 L413.7,1361.6 L415.0,1363.1 L416.4,1364.6 L417.8,1366.0 L419.2,1367.4 L420.6,1368.8 L422.1,1370.1 L423.6,1371.4 L425.1,1372.7 L426.7,1374.0 L428.2,1375.3 L429.8,1376.6 L431.5,1377.8 L433.1,1379.0 L434.8,1380.1 L436.5,1381.1 L438.2,1382.1 L440.0,1383.0 L441.7,1383.8 L443.6,1384.6 L445.4,1385.4 L447.3,1386.1 L449.2,1386.8 L451.1,1387.4 L453.0,1388.0 L455.0,1388.6 L456.9,1389.2 L458.9,1389.7 L460.8,1390.2 L462.7,1390.7 L464.7,1391.1 L466.6,1391.6 L468.6,1392.0 L470.5,1392.4 L472.5,1392.8 L474.5,1393.2 L476.4,1393.5 L478.4,1393.9 L480.4,1394.2 L482.4,1394.6 L484.4,1395.0 L486.3,1395.3 L488.3,1395.7 L490.3,1396.1 L492.2,1396.4 L494.2,1396.8 L496.2,1397.2 L498.1,1397.7 L500.1,1398.1 L502.1,1398.5 L504.0,1398.9 L506.0,1399.3 L508.0,1399.7 L509.9,1400.1 L511.9,1400.4 L513.9,1400.7 L515.9,1401.0 L517.9,1401.3 L519.8,1401.5 L521.8,1401.7 L523.8,1401.8 L525.8,1402.0 L527.8,1402.1 L529.8,1402.3 L531.8,1402.4 L533.8,1402.5 L535.8,1402.6 L537.8,1402.8 L539.8,1402.9 L541.8,1403.0 L543.8,1403.1 L545.8,1403.3 L547.8,1403.4 L549.8,1403.5 L551.8,1403.6 L553.8,1403.7 L555.8,1403.8 L557.8,1403.9 L559.8,1404.0 L561.8,1404.2 L563.8,1404.3 L565.8,1404.4 L567.8,1404.5 L569.8,1404.6 L571.8,1404.7 L573.8,1404.9 L575.8,1405.0 L577.8,1405.1 L579.8,1405.3 L581.8,1405.4 L583.8,1405.6 L585.8,1405.7 L587.8,1405.9 L589.8,1406.1 L591.8,1406.3 L593.8,1406.5 L595.8,1406.7 L597.8,1407.0 L599.8,1407.2 L601.7,1407.4 L603.7,1407.7 L605.7,1408.0 L607.7,1408.2 L609.7,1408.5 L611.7,1408.7 L613.7,1409.0 L615.7,1409.2 L617.7,1409.4 L619.6,1409.7 L621.6,1409.9 L623.6,1410.1 L625.6,1410.3 L627.6,1410.6 L629.6,1410.8 L631.6,1411.1 L633.6,1411.3 L635.6,1411.5 L637.6,1411.8 L639.6,1412.0 L641.6,1412.2 L643.6,1412.4 L645.6,1412.6 L647.5,1412.7 L649.5,1412.9 L651.5,1413.0 L653.5,1413.1 L655.5,1413.1 L657.5,1413.2 L659.5,1413.3 L661.5,1413.3 L663.5,1413.4 L665.5,1413.5 L667.5,1413.5 L669.5,1413.6 L671.5,1413.6 L673.6,1413.7 L675.6,1413.7 L677.6,1413.8 L679.6,1413.8 L681.6,1413.8 L683.6,1413.9 L685.6,1413.9 L687.6,1413.9 L689.6,1413.9 L691.6,1414.0 L693.6,1414.0 L695.6,1414.0 L697.6,1414.0 L699.6,1414.0 L701.6,1414.0 L703.6,1414.0 L705.6,1414.0 L707.6,1414.0 L709.6,1414.0 L711.6,1414.0 L713.6,1414.0 L715.6,1414.0 L717.6,1414.0 L719.6,1413.9 L721.6,1413.9 L723.7,1413.9 L725.7,1413.9 L727.7,1413.9 L729.7,1413.9 L731.7,1413.9 L733.7,1413.9 L735.7,1413.8 L737.7,1413.8 L739.7,1413.8 L741.7,1413.8 L743.7,1413.8 L745.7,1413.7 L747.7,1413.7 L749.7,1413.6 L751.7,1413.6 L753.7,1413.5 L755.7,1413.5 L757.7,1413.4 L759.7,1413.3 L761.7,1413.3 L763.7,1413.2 L765.7,1413.1 L767.7,1413.0 L769.7,1413.0 L771.7,1412.9 L773.7,1412.8 L775.7,1412.7 L777.7,1412.6 L779.7,1412.5 L781.7,1412.4 L783.7,1412.3 L785.7,1412.1 L787.7,1412.0 L789.7,1411.8 L791.7,1411.6 L793.7,1411.4 L795.7,1411.2 L797.7,1411.0 L799.7,1410.8 L801.7,1410.6 L803.7,1410.5 L805.7,1410.4 L807.7,1410.3 L809.7,1410.2 L811.7,1410.2 L813.7,1410.1 L815.7,1410.1 L817.7,1410.1 L819.7,1410.0 L821.7,1410.0 L823.7,1410.0 L825.7,1409.9 L827.7,1409.9 L829.7,1409.9 L831.7,1409.9 L833.7,1409.8 L835.7,1409.8 L837.7,1409.8 L839.7,1409.8 L841.7,1409.8 L843.8,1409.8 L845.8,1409.8 L847.8,1409.8 L849.8,1409.8 L851.8,1409.9 L853.8,1409.9 L855.8,1409.9 L857.8,1410.0 L859.8,1410.0 L861.8,1410.1 L863.8,1410.1 L865.8,1410.2 L867.8,1410.2 L869.8,1410.3 L871.8,1410.4 L873.8,1410.4 L875.8,1410.5 L877.8,1410.5 L879.8,1410.6 L881.8,1410.6 L883.8,1410.7 L885.8,1410.7 L887.8,1410.8 L889.8,1410.8 L891.8,1410.9 L893.8,1410.9 L895.8,1411.0 L897.8,1411.1 L899.8,1411.1 L901.8,1411.2 L903.8,1411.2 L905.8,1411.3 L907.8,1411.3 L909.9,1411.4 L911.9,1411.4 L913.9,1411.5 L915.9,1411.5 L917.9,1411.6 L919.9,1411.6 L921.9,1411.7 L923.9,1411.7 L925.9,1411.8 L927.9,1411.9 L929.9,1411.9 L931.9,1412.0 L933.9,1412.0 L935.9,1412.1 L937.9,1412.1 L939.9,1412.2 L941.9,1412.3 L943.9,1412.3 L945.9,1412.4 L947.9,1412.4 L949.9,1412.5 L951.9,1412.5 L953.9,1412.6 L955.9,1412.7 L957.9,1412.7 L959.9,1412.8 L961.9,1412.8 L963.9,1412.9 L965.9,1413.0 L967.9,1413.0 L969.9,1413.1 L971.9,1413.1 L973.9,1413.2 L975.9,1413.3 L977.9,1413.3 L979.9,1413.4 L981.9,1413.5 L984.0,1413.5 L986.0,1413.6 L988.0,1413.7 L990.0,1413.7 L992.0,1413.8 L994.0,1413.9 L996.0,1413.9 L998.0,1414.0 L1000.0,1414.1 L1002.0,1414.1 L1004.0,1414.2 L1006.0,1414.3 L1008.0,1414.3 L1010.0,1414.4 L1012.0,1414.5 L1014.0,1414.6 L1016.0,1414.6 L1018.0,1414.7 L1020.0,1414.8 L1022.0,1414.9 L1024.0,1414.9 L1026.0,1415.0" fill="none" stroke="#F14040" stroke-width="2.6"/>
<path d="M225.8,506.0 L225.8,504.0 L225.8,502.0 L225.9,500.0 L225.9,498.0 L225.9,496.0 L225.9,494.0 L226.0,492.0 L226.0,490.0 L226.0,488.0 L226.1,486.0 L226.1,484.0 L226.1,482.0 L226.1,480.0 L226.2,478.0 L226.2,476.0 L226.2,474.0 L226.3,472.0 L226.3,470.0 L226.3,468.0 L226.4,466.0 L226.4,464.0 L226.4,462.0 L226.5,460.0 L226.5,457.9 L226.5,455.9 L226.6,453.9 L226.6,451.9 L226.6,449.9 L226.7,447.9 L226.7,445.9 L226.8,443.9 L226.8,441.9 L226.9,439.9 L226.9,437.9 L227.0,435.9 L227.1,433.9 L227.2,431.9 L227.2,429.9 L227.3,427.9 L227.5,425.9 L227.6,423.9 L227.7,421.9 L227.8,419.9 L228.0,417.9 L228.1,415.9 L228.3,413.9 L228.4,411.9 L228.6,409.9 L228.8,407.9 L228.9,406.0 L229.1,404.0 L229.3,402.0 L229.6,400.0 L229.8,398.0 L230.1,396.0 L230.4,394.0 L230.7,392.0 L231.0,390.1 L231.2,388.1 L231.5,386.1 L231.6,384.1 L231.8,382.1 L231.9,380.1 L232.0,378.1 L232.1,376.1 L232.2,374.1 L232.3,372.1 L232.3,370.1 L232.4,368.1 L232.5,366.1 L232.5,364.1 L232.6,362.1 L232.6,360.1 L232.7,358.1 L232.8,356.1 L232.8,354.1 L232.9,352.1 L233.0,350.1 L233.1,348.1 L233.2,346.1 L233.2,344.1 L233.3,342.1 L233.4,340.1 L233.5,338.1 L233.6,336.1 L233.6,334.1 L233.7,332.1 L233.8,330.1 L233.9,328.1 L234.0,326.1 L234.1,324.1 L234.2,322.1 L234.3,320.1 L234.4,318.1 L234.6,316.1 L234.7,314.1 L234.8,312.1 L235.0,310.1 L235.2,308.1 L235.4,306.1 L235.6,304.1 L235.9,302.2 L236.2,300.2 L236.6,298.2 L236.9,296.2 L237.3,294.2 L237.6,292.3 L238.0,290.3 L238.3,288.3 L238.6,286.3 L238.9,284.3 L239.3,282.4 L239.7,280.4 L240.1,278.5 L240.6,276.5 L241.3,274.1 L242.1,272.1 L242.9,271.7 L243.7,273.4 L244.5,275.8 L245.0,277.8 L245.4,279.8 L245.8,281.7 L246.1,283.7 L246.4,285.7 L246.7,287.7 L247.0,289.7 L247.2,291.7 L247.5,293.7 L247.8,295.7 L248.1,297.6 L248.4,299.6 L248.6,301.6 L248.9,303.6 L249.1,305.6 L249.3,307.6 L249.6,309.6 L249.8,311.5 L250.0,313.5 L250.2,315.5 L250.4,317.5 L250.6,319.5 L250.8,321.5 L250.9,323.5 L251.1,325.5 L251.3,327.5 L251.5,329.5 L251.7,331.5 L251.8,333.5 L252.0,335.5 L252.1,337.5 L252.3,339.5 L252.4,341.5 L252.6,343.5 L252.7,345.5 L252.8,347.5 L253.0,349.5 L253.1,351.5 L253.2,353.5 L253.3,355.5 L253.4,357.5 L253.5,359.5 L253.6,361.5 L253.7,363.5 L253.8,365.5 L253.9,367.5 L253.9,369.5 L254.0,371.5 L254.1,373.5 L254.2,375.5 L254.3,377.5 L254.4,379.5 L254.5,381.5 L254.6,383.5 L254.6,385.5 L254.7,387.5 L254.8,389.5 L254.9,391.5 L255.0,393.5 L255.1,395.5 L255.2,397.5 L255.3,399.5 L255.4,401.5 L255.4,403.5 L255.5,405.5 L255.6,407.5 L255.7,409.5 L255.8,411.5 L255.9,413.5 L256.0,415.5 L256.1,417.5 L256.1,419.5 L256.2,421.5 L256.3,423.5 L256.4,425.5 L256.5,427.5 L256.6,429.5 L256.7,431.5 L256.7,433.5 L256.8,435.5 L256.9,437.5 L257.0,439.5 L257.1,441.5 L257.2,443.5 L257.2,445.5 L257.3,447.5 L257.4,449.5 L257.5,451.5 L257.6,453.5 L257.7,455.5 L257.8,457.5 L257.8,459.5 L257.9,461.5 L258.0,463.5 L258.1,465.5 L258.2,467.5 L258.3,469.5 L258.3,471.5 L258.4,473.5 L258.5,475.5 L258.6,477.5 L258.7,479.5 L258.8,481.5 L258.9,483.5 L258.9,485.5 L259.0,487.5 L259.1,489.5 L259.2,491.5 L259.3,493.5 L259.4,495.5 L259.4,497.5 L259.5,499.5 L259.6,501.5 L259.7,503.5 L259.8,505.5 L259.9,507.5 L260.0,509.5 L260.0,511.5 L260.1,513.5 L260.2,515.5 L260.3,517.5 L260.4,519.5 L260.5,521.5 L260.5,523.5 L260.6,525.5 L260.7,527.5 L260.8,529.5 L260.9,531.5 L261.0,533.5 L261.0,535.5 L261.1,537.5 L261.2,539.5 L261.3,541.5 L261.4,543.5 L261.4,545.5 L261.5,547.5 L261.6,549.5 L261.7,551.5 L261.7,553.5 L261.8,555.5 L261.9,557.5 L262.0,559.5 L262.1,561.5 L262.1,563.5 L262.2,565.5 L262.3,567.5 L262.4,569.5 L262.4,571.5 L262.5,573.5 L262.6,575.5 L262.7,577.5 L262.7,579.5 L262.8,581.5 L262.9,583.5 L263.0,585.5 L263.0,587.5 L263.1,589.5 L263.2,591.5 L263.3,593.5 L263.4,595.5 L263.4,597.5 L263.5,599.5 L263.6,601.5 L263.7,603.5 L263.8,605.5 L263.9,607.5 L263.9,609.5 L264.0,611.5 L264.1,613.5 L264.2,615.5 L264.3,617.5 L264.4,619.5 L264.5,621.5 L264.5,623.5 L264.6,625.5 L264.7,627.5 L264.8,629.5 L264.9,631.5 L265.0,633.5 L265.1,635.5 L265.2,637.5 L265.3,639.5 L265.4,641.5 L265.5,643.5 L265.6,645.5 L265.7,647.5 L265.8,649.5 L265.9,651.5 L266.0,653.5 L266.1,655.5 L266.3,657.5 L266.4,659.5 L266.5,661.5 L266.6,663.5 L266.8,665.5 L266.9,667.5 L267.1,669.5 L267.2,671.5 L267.4,673.5 L267.6,675.5 L267.7,677.5 L267.9,679.5 L268.1,681.5 L268.2,683.5 L268.4,685.5 L268.6,687.5 L268.7,689.5 L268.9,691.5 L269.0,693.5 L269.1,695.5 L269.3,697.5 L269.4,699.5 L269.5,701.5 L269.6,703.5 L269.7,705.5 L269.8,707.5 L269.8,709.5 L269.9,711.5 L270.0,713.5 L270.1,715.5 L270.2,717.5 L270.3,719.5 L270.4,721.5 L270.4,723.5 L270.5,725.5 L270.6,727.5 L270.7,729.5 L270.7,731.5 L270.8,733.5 L270.9,735.5 L270.9,737.5 L271.0,739.5 L271.1,741.5 L271.1,743.5 L271.2,745.5 L271.3,747.5 L271.3,749.5 L271.4,751.5 L271.5,753.5 L271.5,755.5 L271.6,757.5 L271.6,759.5 L271.7,761.5 L271.8,763.5 L271.8,765.5 L271.9,767.5 L271.9,769.5 L272.0,771.5 L272.0,773.5 L272.1,775.5 L272.1,777.5 L272.2,779.5 L272.3,781.5 L272.3,783.5 L272.4,785.5 L272.4,787.5 L272.5,789.5 L272.5,791.5 L272.6,793.5 L272.6,795.5 L272.7,797.5 L272.8,799.5 L272.8,801.5 L272.9,803.5 L272.9,805.5 L273.0,807.5 L273.0,809.5 L273.1,811.5 L273.2,813.5 L273.2,815.5 L273.3,817.5 L273.3,819.5 L273.4,821.5 L273.5,823.5 L273.5,825.5 L273.6,827.5 L273.7,829.5 L273.7,831.5 L273.8,833.5 L273.9,835.5 L273.9,837.5 L274.0,839.5 L274.1,841.5 L274.1,843.5 L274.2,845.5 L274.3,847.5 L274.4,849.5 L274.5,851.5 L274.5,853.5 L274.6,855.5 L274.7,857.5 L274.8,859.5 L274.9,861.5 L275.0,863.5 L275.1,865.5 L275.1,867.5 L275.2,869.5 L275.3,871.5 L275.4,873.5 L275.5,875.5 L275.6,877.5 L275.7,879.5 L275.8,881.5 L275.9,883.5 L276.0,885.5 L276.1,887.5 L276.2,889.5 L276.3,891.5 L276.4,893.5 L276.5,895.5 L276.6,897.5 L276.7,899.5 L276.8,901.5 L276.9,903.5 L277.0,905.5 L277.1,907.5 L277.2,909.5 L277.3,911.5 L277.4,913.5 L277.5,915.5 L277.6,917.5 L277.7,919.5 L277.8,921.5 L277.9,923.5 L278.0,925.5 L278.1,927.5 L278.3,929.5 L278.4,931.5 L278.5,933.5 L278.6,935.5 L278.7,937.5 L278.8,939.5 L278.9,941.5 L279.0,943.5 L279.1,945.5 L279.2,947.5 L279.3,949.5 L279.4,951.5 L279.5,953.5 L279.7,955.5 L279.8,957.5 L279.9,959.5 L280.0,961.5 L280.1,963.5 L280.2,965.5 L280.3,967.5 L280.4,969.5 L280.5,971.5 L280.6,973.5 L280.7,975.5 L280.8,977.5 L280.9,979.5 L281.0,981.5 L281.2,983.5 L281.3,985.5 L281.4,987.5 L281.5,989.5 L281.6,991.5 L281.7,993.5 L281.8,995.5 L281.9,997.5 L282.0,999.5 L282.1,1001.5 L282.2,1003.5 L282.3,1005.5 L282.4,1007.5 L282.5,1009.5 L282.6,1011.5 L282.7,1013.5 L282.8,1015.5 L282.9,1017.5 L283.0,1019.5 L283.1,1021.5 L283.2,1023.5 L283.3,1025.5 L283.4,1027.5 L283.5,1029.5 L283.6,1031.5 L283.7,1033.5 L283.8,1035.5 L283.9,1037.5 L284.0,1039.5 L284.1,1041.5 L284.2,1043.5 L284.3,1045.5 L284.5,1047.5 L284.6,1049.5 L284.7,1051.5 L284.8,1053.5 L284.9,1055.5 L285.0,1057.5 L285.1,1059.5 L285.2,1061.5 L285.3,1063.5 L285.4,1065.5 L285.5,1067.5 L285.6,1069.5 L285.7,1071.5 L285.8,1073.5 L285.9,1075.5 L286.0,1077.5 L286.1,1079.5 L286.2,1081.5 L286.2,1083.5 L286.3,1085.5 L286.4,1087.5 L286.5,1089.5 L286.6,1091.5 L286.7,1093.5 L286.8,1095.5 L286.9,1097.5 L287.0,1099.5 L287.1,1101.5 L287.1,1103.5 L287.2,1105.5 L287.3,1107.5 L287.4,1109.5 L287.5,1111.5 L287.5,1113.5 L287.6,1115.5 L287.7,1117.5 L287.7,1119.5 L287.8,1121.5 L287.9,1123.5 L287.9,1125.5 L288.0,1127.5 L288.1,1129.5 L288.2,1131.5 L288.2,1133.5 L288.3,1135.5 L288.4,1137.5 L288.5,1139.5 L288.6,1141.5 L288.7,1143.5 L288.8,1145.5 L288.9,1147.5 L289.0,1149.5 L289.1,1151.5 L289.2,1153.5 L289.3,1155.5 L289.5,1157.5 L289.6,1159.5 L289.8,1161.5 L289.9,1163.5 L290.1,1165.5 L290.3,1167.5 L290.5,1169.5 L290.6,1171.5 L290.8,1173.5 L291.0,1175.5 L291.2,1177.5 L291.4,1179.5 L291.6,1181.5 L291.8,1183.5 L292.0,1185.4 L292.3,1187.4 L292.5,1189.4 L292.7,1191.4 L292.9,1193.4 L293.1,1195.4 L293.3,1197.4 L293.5,1199.4 L293.7,1201.4 L294.0,1203.4 L294.2,1205.4 L294.4,1207.3 L294.7,1209.3 L294.9,1211.3 L295.2,1213.3 L295.4,1215.3 L295.7,1217.3 L295.9,1219.3 L296.2,1221.2 L296.5,1223.2 L296.7,1225.2 L297.0,1227.2 L297.3,1229.2 L297.5,1231.2 L297.8,1233.2 L298.1,1235.1 L298.3,1237.1 L298.6,1239.1 L298.9,1241.1 L299.1,1243.1 L299.4,1245.1 L299.6,1247.0 L299.9,1249.0 L300.1,1251.0 L300.4,1253.0 L300.6,1255.0 L300.8,1257.0 L301.1,1259.0 L301.3,1261.0 L301.5,1263.0 L301.7,1265.0 L301.9,1266.9 L302.2,1268.9 L302.4,1270.9 L302.6,1272.9 L302.8,1274.9 L303.0,1276.9 L303.3,1278.9 L303.5,1280.9 L303.7,1282.9 L304.0,1284.9 L304.2,1286.9 L304.4,1288.8 L304.7,1290.8 L305.0,1292.8 L305.2,1294.8 L305.5,1296.8 L305.8,1298.7 L306.1,1300.7 L306.4,1302.7 L306.8,1304.7 L307.1,1306.6 L307.4,1308.6 L307.8,1310.6 L308.2,1312.6 L308.6,1314.5 L309.0,1316.5 L309.4,1318.5 L309.8,1320.4 L310.2,1322.4 L310.7,1324.3 L311.1,1326.3 L311.6,1328.2 L312.0,1330.2 L312.5,1332.1 L313.0,1334.1 L313.5,1336.0 L314.1,1337.9 L314.6,1339.9 L315.2,1341.8 L315.8,1343.7 L316.4,1345.6 L317.1,1347.5 L317.8,1349.4 L318.5,1351.2 L319.2,1353.1 L320.1,1355.1 L320.9,1357.0 L321.8,1358.9 L322.8,1360.7 L323.9,1362.3 L325.0,1363.9 L326.2,1365.2 L327.6,1366.5 L329.2,1367.6 L330.9,1368.7 L332.8,1369.8 L334.7,1370.7 L336.6,1371.5 L338.4,1372.1 L340.3,1372.7 L342.2,1373.2 L344.1,1373.6 L346.1,1374.0 L348.1,1374.4 L350.1,1374.8 L352.1,1375.2 L354.1,1375.6 L356.0,1376.0 L358.0,1376.5 L359.9,1376.9 L361.9,1377.4 L363.9,1377.8 L365.8,1378.3 L367.8,1378.8 L369.7,1379.3 L371.6,1379.9 L373.5,1380.5 L375.3,1381.2 L377.2,1382.0 L379.0,1382.9 L380.8,1383.7 L382.6,1384.6 L384.5,1385.4 L386.3,1386.1 L388.2,1386.9 L390.1,1387.8 L391.9,1388.6 L393.8,1389.4 L395.7,1390.1 L397.6,1390.6 L399.5,1391.0 L401.5,1391.1 L403.4,1391.2 L405.4,1391.3 L407.4,1391.4 L409.4,1391.4 L411.4,1391.5 L413.4,1391.5 L415.4,1391.6 L417.4,1391.6 L419.4,1391.6 L421.5,1391.7 L423.5,1391.7 L425.5,1391.8 L427.5,1391.9 L429.5,1392.0 L431.5,1392.1 L433.5,1392.2 L435.5,1392.4 L437.5,1392.6 L439.5,1392.8 L441.5,1393.0 L443.5,1393.2 L445.5,1393.5 L447.5,1393.7 L449.4,1393.9 L451.4,1394.2 L453.4,1394.5 L455.4,1394.8 L457.4,1395.1 L459.3,1395.5 L461.3,1395.8 L463.3,1396.1 L465.3,1396.4 L467.3,1396.7 L469.2,1396.9 L471.2,1397.1 L473.2,1397.3 L475.2,1397.4 L477.2,1397.5 L479.2,1397.7 L481.2,1397.8 L483.2,1397.9 L485.2,1398.0 L487.2,1398.1 L489.3,1398.2 L491.3,1398.3 L493.2,1398.4 L495.2,1398.6 L497.2,1398.7 L499.2,1398.9 L501.2,1399.1 L503.2,1399.4 L505.2,1399.7 L507.2,1400.0 L509.1,1400.4 L511.1,1400.8 L513.1,1401.2 L515.0,1401.7 L517.0,1402.2 L518.9,1402.7 L520.8,1403.2 L522.7,1403.9 L524.5,1404.7 L526.3,1405.5 L528.1,1406.4 L529.9,1407.3 L531.8,1408.2 L533.6,1409.0 L535.4,1409.8 L537.3,1410.5 L539.2,1411.2 L541.1,1411.9 L543.0,1412.6 L544.9,1413.3 L546.8,1414.0 L548.7,1414.6 L550.7,1415.1 L552.6,1415.5 L554.6,1415.9 L556.5,1416.0 L558.5,1416.2 L560.5,1416.3 L562.5,1416.4 L564.5,1416.6 L566.5,1416.7 L568.5,1416.7 L570.5,1416.8 L572.5,1416.9 L574.5,1416.9 L576.5,1417.0 L578.5,1417.0 L580.5,1417.0 L582.5,1417.0 L584.5,1417.0 L586.5,1416.9 L588.5,1416.9 L590.5,1416.8 L592.6,1416.8 L594.6,1416.7 L596.6,1416.6 L598.6,1416.6 L600.6,1416.5 L602.6,1416.4 L604.6,1416.3 L606.6,1416.3 L608.6,1416.2 L610.6,1416.1 L612.6,1416.1 L614.6,1416.1 L616.6,1416.0 L618.6,1416.0 L620.6,1416.0 L622.6,1416.0 L624.6,1416.0 L626.6,1416.0 L628.6,1416.0 L630.6,1416.0 L632.6,1416.0 L634.6,1416.0 L636.6,1416.0 L638.6,1416.0 L640.6,1416.0 L642.6,1416.0 L644.6,1416.0 L646.6,1416.0 L648.6,1416.0 L650.6,1416.0 L652.6,1416.0 L654.6,1416.0 L656.6,1416.0 L658.6,1416.0 L660.6,1416.0 L662.6,1416.0 L664.6,1416.0 L666.6,1416.1 L668.6,1416.1 L670.6,1416.2 L672.6,1416.3 L674.6,1416.3 L676.6,1416.4 L678.6,1416.5 L680.6,1416.6 L682.6,1416.7 L684.6,1416.8 L686.6,1416.9 L688.6,1417.0 L690.7,1417.1 L692.7,1417.2 L694.7,1417.2 L696.7,1417.3 L698.7,1417.4 L700.7,1417.5 L702.7,1417.5 L704.7,1417.5 L706.7,1417.6 L708.7,1417.6 L710.7,1417.6 L712.7,1417.6 L714.7,1417.5 L716.7,1417.4 L718.7,1417.3 L720.7,1417.2 L722.7,1417.1 L724.7,1416.9 L726.7,1416.7 L728.7,1416.6 L730.6,1416.4 L732.6,1416.2 L734.6,1416.0 L736.6,1415.7 L738.6,1415.5 L740.6,1415.3 L742.6,1415.1 L744.6,1414.8 L746.5,1414.4 L748.5,1414.0 L750.5,1413.6 L752.5,1413.2 L754.4,1412.8 L756.4,1412.3 L758.4,1411.9 L760.3,1411.6 L762.3,1411.2 L764.3,1410.9 L766.3,1410.7 L768.2,1410.5 L770.2,1410.4 L772.2,1410.3 L774.2,1410.3 L776.2,1410.2 L778.2,1410.2 L780.2,1410.1 L782.2,1410.1 L784.3,1410.0 L786.3,1410.0 L788.3,1410.0 L790.2,1410.0 L792.2,1410.1 L794.2,1410.3 L796.2,1410.5 L798.2,1410.9 L800.1,1411.3 L802.1,1411.7 L804.1,1412.1 L806.1,1412.4 L808.1,1412.8 L810.0,1413.0 L812.0,1413.2 L814.0,1413.4 L816.0,1413.6 L818.0,1413.8 L820.0,1414.0 L822.0,1414.1 L824.0,1414.3 L826.0,1414.4 L828.0,1414.6 L830.0,1414.7 L832.0,1414.8 L834.0,1414.9 L836.0,1415.0 L836.0,1421.0 L225.8,1421.0 Z" fill="#ADCCF4" fill-opacity="0.5" stroke="none"/>
<path d="M225.8,506.0 L225.8,504.0 L225.8,502.0 L225.9,500.0 L225.9,498.0 L225.9,496.0 L225.9,494.0 L226.0,492.0 L226.0,490.0 L226.0,488.0 L226.1,486.0 L226.1,484.0 L226.1,482.0 L226.1,480.0 L226.2,478.0 L226.2,476.0 L226.2,474.0 L226.3,472.0 L226.3,470.0 L226.3,468.0 L226.4,466.0 L226.4,464.0 L226.4,462.0 L226.5,460.0 L226.5,457.9 L226.5,455.9 L226.6,453.9 L226.6,451.9 L226.6,449.9 L226.7,447.9 L226.7,445.9 L226.8,443.9 L226.8,441.9 L226.9,439.9 L226.9,437.9 L227.0,435.9 L227.1,433.9 L227.2,431.9 L227.2,429.9 L227.3,427.9 L227.5,425.9 L227.6,423.9 L227.7,421.9 L227.8,419.9 L228.0,417.9 L228.1,415.9 L228.3,413.9 L228.4,411.9 L228.6,409.9 L228.8,407.9 L228.9,406.0 L229.1,404.0 L229.3,402.0 L229.6,400.0 L229.8,398.0 L230.1,396.0 L230.4,394.0 L230.7,392.0 L231.0,390.1 L231.2,388.1 L231.5,386.1 L231.6,384.1 L231.8,382.1 L231.9,380.1 L232.0,378.1 L232.1,376.1 L232.2,374.1 L232.3,372.1 L232.3,370.1 L232.4,368.1 L232.5,366.1 L232.5,364.1 L232.6,362.1 L232.6,360.1 L232.7,358.1 L232.8,356.1 L232.8,354.1 L232.9,352.1 L233.0,350.1 L233.1,348.1 L233.2,346.1 L233.2,344.1 L233.3,342.1 L233.4,340.1 L233.5,338.1 L233.6,336.1 L233.6,334.1 L233.7,332.1 L233.8,330.1 L233.9,328.1 L234.0,326.1 L234.1,324.1 L234.2,322.1 L234.3,320.1 L234.4,318.1 L234.6,316.1 L234.7,314.1 L234.8,312.1 L235.0,310.1 L235.2,308.1 L235.4,306.1 L235.6,304.1 L235.9,302.2 L236.2,300.2 L236.6,298.2 L236.9,296.2 L237.3,294.2 L237.6,292.3 L238.0,290.3 L238.3,288.3 L238.6,286.3 L238.9,284.3 L239.3,282.4 L239.7,280.4 L240.1,278.5 L240.6,276.5 L241.3,274.1 L242.1,272.1 L242.9,271.7 L243.7,273.4 L244.5,275.8 L245.0,277.8 L245.4,279.8 L245.8,281.7 L246.1,283.7 L246.4,285.7 L246.7,287.7 L247.0,289.7 L247.2,291.7 L247.5,293.7 L247.8,295.7 L248.1,297.6 L248.4,299.6 L248.6,301.6 L248.9,303.6 L249.1,305.6 L249.3,307.6 L249.6,309.6 L249.8,311.5 L250.0,313.5 L250.2,315.5 L250.4,317.5 L250.6,319.5 L250.8,321.5 L250.9,323.5 L251.1,325.5 L251.3,327.5 L251.5,329.5 L251.7,331.5 L251.8,333.5 L252.0,335.5 L252.1,337.5 L252.3,339.5 L252.4,341.5 L252.6,343.5 L252.7,345.5 L252.8,347.5 L253.0,349.5 L253.1,351.5 L253.2,353.5 L253.3,355.5 L253.4,357.5 L253.5,359.5 L253.6,361.5 L253.7,363.5 L253.8,365.5 L253.9,367.5 L253.9,369.5 L254.0,371.5 L254.1,373.5 L254.2,375.5 L254.3,377.5 L254.4,379.5 L254.5,381.5 L254.6,383.5 L254.6,385.5 L254.7,387.5 L254.8,389.5 L254.9,391.5 L255.0,393.5 L255.1,395.5 L255.2,397.5 L255.3,399.5 L255.4,401.5 L255.4,403.5 L255.5,405.5 L255.6,407.5 L255.7,409.5 L255.8,411.5 L255.9,413.5 L256.0,415.5 L256.1,417.5 L256.1,419.5 L256.2,421.5 L256.3,423.5 L256.4,425.5 L256.5,427.5 L256.6,429.5 L256.7,431.5 L256.7,433.5 L256.8,435.5 L256.9,437.5 L257.0,439.5 L257.1,441.5 L257.2,443.5 L257.2,445.5 L257.3,447.5 L257.4,449.5 L257.5,451.5 L257.6,453.5 L257.7,455.5 L257.8,457.5 L257.8,459.5 L257.9,461.5 L258.0,463.5 L258.1,465.5 L258.2,467.5 L258.3,469.5 L258.3,471.5 L258.4,473.5 L258.5,475.5 L258.6,477.5 L258.7,479.5 L258.8,481.5 L258.9,483.5 L258.9,485.5 L259.0,487.5 L259.1,489.5 L259.2,491.5 L259.3,493.5 L259.4,495.5 L259.4,497.5 L259.5,499.5 L259.6,501.5 L259.7,503.5 L259.8,505.5 L259.9,507.5 L260.0,509.5 L260.0,511.5 L260.1,513.5 L260.2,515.5 L260.3,517.5 L260.4,519.5 L260.5,521.5 L260.5,523.5 L260.6,525.5 L260.7,527.5 L260.8,529.5 L260.9,531.5 L261.0,533.5 L261.0,535.5 L261.1,537.5 L261.2,539.5 L261.3,541.5 L261.4,543.5 L261.4,545.5 L261.5,547.5 L261.6,549.5 L261.7,551.5 L261.7,553.5 L261.8,555.5 L261.9,557.5 L262.0,559.5 L262.1,561.5 L262.1,563.5 L262.2,565.5 L262.3,567.5 L262.4,569.5 L262.4,571.5 L262.5,573.5 L262.6,575.5 L262.7,577.5 L262.7,579.5 L262.8,581.5 L262.9,583.5 L263.0,585.5 L263.0,587.5 L263.1,589.5 L263.2,591.5 L263.3,593.5 L263.4,595.5 L263.4,597.5 L263.5,599.5 L263.6,601.5 L263.7,603.5 L263.8,605.5 L263.9,607.5 L263.9,609.5 L264.0,611.5 L264.1,613.5 L264.2,615.5 L264.3,617.5 L264.4,619.5 L264.5,621.5 L264.5,623.5 L264.6,625.5 L264.7,627.5 L264.8,629.5 L264.9,631.5 L265.0,633.5 L265.1,635.5 L265.2,637.5 L265.3,639.5 L265.4,641.5 L265.5,643.5 L265.6,645.5 L265.7,647.5 L265.8,649.5 L265.9,651.5 L266.0,653.5 L266.1,655.5 L266.3,657.5 L266.4,659.5 L266.5,661.5 L266.6,663.5 L266.8,665.5 L266.9,667.5 L267.1,669.5 L267.2,671.5 L267.4,673.5 L267.6,675.5 L267.7,677.5 L267.9,679.5 L268.1,681.5 L268.2,683.5 L268.4,685.5 L268.6,687.5 L268.7,689.5 L268.9,691.5 L269.0,693.5 L269.1,695.5 L269.3,697.5 L269.4,699.5 L269.5,701.5 L269.6,703.5 L269.7,705.5 L269.8,707.5 L269.8,709.5 L269.9,711.5 L270.0,713.5 L270.1,715.5 L270.2,717.5 L270.3,719.5 L270.4,721.5 L270.4,723.5 L270.5,725.5 L270.6,727.5 L270.7,729.5 L270.7,731.5 L270.8,733.5 L270.9,735.5 L270.9,737.5 L271.0,739.5 L271.1,741.5 L271.1,743.5 L271.2,745.5 L271.3,747.5 L271.3,749.5 L271.4,751.5 L271.5,753.5 L271.5,755.5 L271.6,757.5 L271.6,759.5 L271.7,761.5 L271.8,763.5 L271.8,765.5 L271.9,767.5 L271.9,769.5 L272.0,771.5 L272.0,773.5 L272.1,775.5 L272.1,777.5 L272.2,779.5 L272.3,781.5 L272.3,783.5 L272.4,785.5 L272.4,787.5 L272.5,789.5 L272.5,791.5 L272.6,793.5 L272.6,795.5 L272.7,797.5 L272.8,799.5 L272.8,801.5 L272.9,803.5 L272.9,805.5 L273.0,807.5 L273.0,809.5 L273.1,811.5 L273.2,813.5 L273.2,815.5 L273.3,817.5 L273.3,819.5 L273.4,821.5 L273.5,823.5 L273.5,825.5 L273.6,827.5 L273.7,829.5 L273.7,831.5 L273.8,833.5 L273.9,835.5 L273.9,837.5 L274.0,839.5 L274.1,841.5 L274.1,843.5 L274.2,845.5 L274.3,847.5 L274.4,849.5 L274.5,851.5 L274.5,853.5 L274.6,855.5 L274.7,857.5 L274.8,859.5 L274.9,861.5 L275.0,863.5 L275.1,865.5 L275.1,867.5 L275.2,869.5 L275.3,871.5 L275.4,873.5 L275.5,875.5 L275.6,877.5 L275.7,879.5 L275.8,881.5 L275.9,883.5 L276.0,885.5 L276.1,887.5 L276.2,889.5 L276.3,891.5 L276.4,893.5 L276.5,895.5 L276.6,897.5 L276.7,899.5 L276.8,901.5 L276.9,903.5 L277.0,905.5 L277.1,907.5 L277.2,909.5 L277.3,911.5 L277.4,913.5 L277.5,915.5 L277.6,917.5 L277.7,919.5 L277.8,921.5 L277.9,923.5 L278.0,925.5 L278.1,927.5 L278.3,929.5 L278.4,931.5 L278.5,933.5 L278.6,935.5 L278.7,937.5 L278.8,939.5 L278.9,941.5 L279.0,943.5 L279.1,945.5 L279.2,947.5 L279.3,949.5 L279.4,951.5 L279.5,953.5 L279.7,955.5 L279.8,957.5 L279.9,959.5 L280.0,961.5 L280.1,963.5 L280.2,965.5 L280.3,967.5 L280.4,969.5 L280.5,971.5 L280.6,973.5 L280.7,975.5 L280.8,977.5 L280.9,979.5 L281.0,981.5 L281.2,983.5 L281.3,985.5 L281.4,987.5 L281.5,989.5 L281.6,991.5 L281.7,993.5 L281.8,995.5 L281.9,997.5 L282.0,999.5 L282.1,1001.5 L282.2,1003.5 L282.3,1005.5 L282.4,1007.5 L282.5,1009.5 L282.6,1011.5 L282.7,1013.5 L282.8,1015.5 L282.9,1017.5 L283.0,1019.5 L283.1,1021.5 L283.2,1023.5 L283.3,1025.5 L283.4,1027.5 L283.5,1029.5 L283.6,1031.5 L283.7,1033.5 L283.8,1035.5 L283.9,1037.5 L284.0,1039.5 L284.1,1041.5 L284.2,1043.5 L284.3,1045.5 L284.5,1047.5 L284.6,1049.5 L284.7,1051.5 L284.8,1053.5 L284.9,1055.5 L285.0,1057.5 L285.1,1059.5 L285.2,1061.5 L285.3,1063.5 L285.4,1065.5 L285.5,1067.5 L285.6,1069.5 L285.7,1071.5 L285.8,1073.5 L285.9,1075.5 L286.0,1077.5 L286.1,1079.5 L286.2,1081.5 L286.2,1083.5 L286.3,1085.5 L286.4,1087.5 L286.5,1089.5 L286.6,1091.5 L286.7,1093.5 L286.8,1095.5 L286.9,1097.5 L287.0,1099.5 L287.1,1101.5 L287.1,1103.5 L287.2,1105.5 L287.3,1107.5 L287.4,1109.5 L287.5,1111.5 L287.5,1113.5 L287.6,1115.5 L287.7,1117.5 L287.7,1119.5 L287.8,1121.5 L287.9,1123.5 L287.9,1125.5 L288.0,1127.5 L288.1,1129.5 L288.2,1131.5 L288.2,1133.5 L288.3,1135.5 L288.4,1137.5 L288.5,1139.5 L288.6,1141.5 L288.7,1143.5 L288.8,1145.5 L288.9,1147.5 L289.0,1149.5 L289.1,1151.5 L289.2,1153.5 L289.3,1155.5 L289.5,1157.5 L289.6,1159.5 L289.8,1161.5 L289.9,1163.5 L290.1,1165.5 L290.3,1167.5 L290.5,1169.5 L290.6,1171.5 L290.8,1173.5 L291.0,1175.5 L291.2,1177.5 L291.4,1179.5 L291.6,1181.5 L291.8,1183.5 L292.0,1185.4 L292.3,1187.4 L292.5,1189.4 L292.7,1191.4 L292.9,1193.4 L293.1,1195.4 L293.3,1197.4 L293.5,1199.4 L293.7,1201.4 L294.0,1203.4 L294.2,1205.4 L294.4,1207.3 L294.7,1209.3 L294.9,1211.3 L295.2,1213.3 L295.4,1215.3 L295.7,1217.3 L295.9,1219.3 L296.2,1221.2 L296.5,1223.2 L296.7,1225.2 L297.0,1227.2 L297.3,1229.2 L297.5,1231.2 L297.8,1233.2 L298.1,1235.1 L298.3,1237.1 L298.6,1239.1 L298.9,1241.1 L299.1,1243.1 L299.4,1245.1 L299.6,1247.0 L299.9,1249.0 L300.1,1251.0 L300.4,1253.0 L300.6,1255.0 L300.8,1257.0 L301.1,1259.0 L301.3,1261.0 L301.5,1263.0 L301.7,1265.0 L301.9,1266.9 L302.2,1268.9 L302.4,1270.9 L302.6,1272.9 L302.8,1274.9 L303.0,1276.9 L303.3,1278.9 L303.5,1280.9 L303.7,1282.9 L304.0,1284.9 L304.2,1286.9 L304.4,1288.8 L304.7,1290.8 L305.0,1292.8 L305.2,1294.8 L305.5,1296.8 L305.8,1298.7 L306.1,1300.7 L306.4,1302.7 L306.8,1304.7 L307.1,1306.6 L307.4,1308.6 L307.8,1310.6 L308.2,1312.6 L308.6,1314.5 L309.0,1316.5 L309.4,1318.5 L309.8,1320.4 L310.2,1322.4 L310.7,1324.3 L311.1,1326.3 L311.6,1328.2 L312.0,1330.2 L312.5,1332.1 L313.0,1334.1 L313.5,1336.0 L314.1,1337.9 L314.6,1339.9 L315.2,1341.8 L315.8,1343.7 L316.4,1345.6 L317.1,1347.5 L317.8,1349.4 L318.5,1351.2 L319.2,1353.1 L320.1,1355.1 L320.9,1357.0 L321.8,1358.9 L322.8,1360.7 L323.9,1362.3 L325.0,1363.9 L326.2,1365.2 L327.6,1366.5 L329.2,1367.6 L330.9,1368.7 L332.8,1369.8 L334.7,1370.7 L336.6,1371.5 L338.4,1372.1 L340.3,1372.7 L342.2,1373.2 L344.1,1373.6 L346.1,1374.0 L348.1,1374.4 L350.1,1374.8 L352.1,1375.2 L354.1,1375.6 L356.0,1376.0 L358.0,1376.5 L359.9,1376.9 L361.9,1377.4 L363.9,1377.8 L365.8,1378.3 L367.8,1378.8 L369.7,1379.3 L371.6,1379.9 L373.5,1380.5 L375.3,1381.2 L377.2,1382.0 L379.0,1382.9 L380.8,1383.7 L382.6,1384.6 L384.5,1385.4 L386.3,1386.1 L388.2,1386.9 L390.1,1387.8 L391.9,1388.6 L393.8,1389.4 L395.7,1390.1 L397.6,1390.6 L399.5,1391.0 L401.5,1391.1 L403.4,1391.2 L405.4,1391.3 L407.4,1391.4 L409.4,1391.4 L411.4,1391.5 L413.4,1391.5 L415.4,1391.6 L417.4,1391.6 L419.4,1391.6 L421.5,1391.7 L423.5,1391.7 L425.5,1391.8 L427.5,1391.9 L429.5,1392.0 L431.5,1392.1 L433.5,1392.2 L435.5,1392.4 L437.5,1392.6 L439.5,1392.8 L441.5,1393.0 L443.5,1393.2 L445.5,1393.5 L447.5,1393.7 L449.4,1393.9 L451.4,1394.2 L453.4,1394.5 L455.4,1394.8 L457.4,1395.1 L459.3,1395.5 L461.3,1395.8 L463.3,1396.1 L465.3,1396.4 L467.3,1396.7 L469.2,1396.9 L471.2,1397.1 L473.2,1397.3 L475.2,1397.4 L477.2,1397.5 L479.2,1397.7 L481.2,1397.8 L483.2,1397.9 L485.2,1398.0 L487.2,1398.1 L489.3,1398.2 L491.3,1398.3 L493.2,1398.4 L495.2,1398.6 L497.2,1398.7 L499.2,1398.9 L501.2,1399.1 L503.2,1399.4 L505.2,1399.7 L507.2,1400.0 L509.1,1400.4 L511.1,1400.8 L513.1,1401.2 L515.0,1401.7 L517.0,1402.2 L518.9,1402.7 L520.8,1403.2 L522.7,1403.9 L524.5,1404.7 L526.3,1405.5 L528.1,1406.4 L529.9,1407.3 L531.8,1408.2 L533.6,1409.0 L535.4,1409.8 L537.3,1410.5 L539.2,1411.2 L541.1,1411.9 L543.0,1412.6 L544.9,1413.3 L546.8,1414.0 L548.7,1414.6 L550.7,1415.1 L552.6,1415.5 L554.6,1415.9 L556.5,1416.0 L558.5,1416.2 L560.5,1416.3 L562.5,1416.4 L564.5,1416.6 L566.5,1416.7 L568.5,1416.7 L570.5,1416.8 L572.5,1416.9 L574.5,1416.9 L576.5,1417.0 L578.5,1417.0 L580.5,1417.0 L582.5,1417.0 L584.5,1417.0 L586.5,1416.9 L588.5,1416.9 L590.5,1416.8 L592.6,1416.8 L594.6,1416.7 L596.6,1416.6 L598.6,1416.6 L600.6,1416.5 L602.6,1416.4 L604.6,1416.3 L606.6,1416.3 L608.6,1416.2 L610.6,1416.1 L612.6,1416.1 L614.6,1416.1 L616.6,1416.0 L618.6,1416.0 L620.6,1416.0 L622.6,1416.0 L624.6,1416.0 L626.6,1416.0 L628.6,1416.0 L630.6,1416.0 L632.6,1416.0 L634.6,1416.0 L636.6,1416.0 L638.6,1416.0 L640.6,1416.0 L642.6,1416.0 L644.6,1416.0 L646.6,1416.0 L648.6,1416.0 L650.6,1416.0 L652.6,1416.0 L654.6,1416.0 L656.6,1416.0 L658.6,1416.0 L660.6,1416.0 L662.6,1416.0 L664.6,1416.0 L666.6,1416.1 L668.6,1416.1 L670.6,1416.2 L672.6,1416.3 L674.6,1416.3 L676.6,1416.4 L678.6,1416.5 L680.6,1416.6 L682.6,1416.7 L684.6,1416.8 L686.6,1416.9 L688.6,1417.0 L690.7,1417.1 L692.7,1417.2 L694.7,1417.2 L696.7,1417.3 L698.7,1417.4 L700.7,1417.5 L702.7,1417.5 L704.7,1417.5 L706.7,1417.6 L708.7,1417.6 L710.7,1417.6 L712.7,1417.6 L714.7,1417.5 L716.7,1417.4 L718.7,1417.3 L720.7,1417.2 L722.7,1417.1 L724.7,1416.9 L726.7,1416.7 L728.7,1416.6 L730.6,1416.4 L732.6,1416.2 L734.6,1416.0 L736.6,1415.7 L738.6,1415.5 L740.6,1415.3 L742.6,1415.1 L744.6,1414.8 L746.5,1414.4 L748.5,1414.0 L750.5,1413.6 L752.5,1413.2 L754.4,1412.8 L756.4,1412.3 L758.4,1411.9 L760.3,1411.6 L762.3,1411.2 L764.3,1410.9 L766.3,1410.7 L768.2,1410.5 L770.2,1410.4 L772.2,1410.3 L774.2,1410.3 L776.2,1410.2 L778.2,1410.2 L780.2,1410.1 L782.2,1410.1 L784.3,1410.0 L786.3,1410.0 L788.3,1410.0 L790.2,1410.0 L792.2,1410.1 L794.2,1410.3 L796.2,1410.5 L798.2,1410.9 L800.1,1411.3 L802.1,1411.7 L804.1,1412.1 L806.1,1412.4 L808.1,1412.8 L810.0,1413.0 L812.0,1413.2 L814.0,1413.4 L816.0,1413.6 L818.0,1413.8 L820.0,1414.0 L822.0,1414.1 L824.0,1414.3 L826.0,1414.4 L828.0,1414.6 L830.0,1414.7 L832.0,1414.8 L834.0,1414.9 L836.0,1415.0" fill="none" stroke="#1A6FDF" stroke-width="2.6"/>
<path d="M224.0,806.0 L224.0,804.0 L224.1,802.0 L224.1,800.0 L224.1,798.0 L224.1,796.0 L224.2,794.0 L224.2,792.0 L224.2,790.0 L224.3,788.0 L224.3,786.0 L224.3,784.0 L224.4,782.0 L224.4,780.0 L224.4,777.9 L224.4,775.9 L224.5,773.9 L224.5,771.9 L224.5,769.9 L224.6,767.9 L224.6,765.9 L224.6,763.9 L224.6,761.9 L224.7,759.9 L224.7,757.9 L224.7,755.9 L224.8,753.9 L224.8,751.9 L224.8,749.9 L224.8,747.9 L224.9,745.9 L224.9,743.9 L224.9,741.9 L224.9,739.9 L225.0,737.9 L225.0,735.9 L225.0,733.9 L225.1,731.9 L225.1,729.9 L225.1,727.9 L225.1,725.9 L225.2,723.8 L225.2,721.8 L225.2,719.8 L225.3,717.8 L225.3,715.8 L225.3,713.8 L225.3,711.8 L225.4,709.8 L225.4,707.8 L225.4,705.8 L225.4,703.8 L225.5,701.8 L225.5,699.8 L225.5,697.8 L225.5,695.8 L225.6,693.8 L225.6,691.8 L225.6,689.8 L225.6,687.8 L225.7,685.8 L225.7,683.8 L225.7,681.8 L225.8,679.8 L225.8,677.8 L225.8,675.8 L225.8,673.8 L225.9,671.7 L225.9,669.7 L225.9,667.7 L225.9,665.7 L226.0,663.7 L226.0,661.7 L226.0,659.7 L226.0,657.7 L226.1,655.7 L226.1,653.7 L226.1,651.7 L226.1,649.7 L226.2,647.7 L226.2,645.7 L226.2,643.7 L226.2,641.7 L226.2,639.7 L226.3,637.7 L226.3,635.7 L226.3,633.7 L226.3,631.7 L226.4,629.7 L226.4,627.7 L226.4,625.7 L226.4,623.7 L226.5,621.7 L226.5,619.7 L226.5,617.6 L226.5,615.6 L226.6,613.6 L226.6,611.6 L226.6,609.6 L226.6,607.6 L226.6,605.6 L226.7,603.6 L226.7,601.6 L226.7,599.6 L226.7,597.6 L226.8,595.6 L226.8,593.6 L226.8,591.6 L226.8,589.6 L226.8,587.6 L226.9,585.6 L226.9,583.6 L226.9,581.6 L226.9,579.6 L227.0,577.6 L227.0,575.6 L227.0,573.6 L227.0,571.6 L227.0,569.6 L227.1,567.6 L227.1,565.5 L227.1,563.5 L227.1,561.5 L227.2,559.5 L227.2,557.5 L227.2,555.5 L227.2,553.5 L227.2,551.5 L227.3,549.5 L227.3,547.5 L227.3,545.5 L227.3,543.5 L227.4,541.5 L227.4,539.5 L227.4,537.5 L227.4,535.5 L227.4,533.5 L227.5,531.5 L227.5,529.5 L227.5,527.5 L227.5,525.5 L227.6,523.5 L227.6,521.5 L227.6,519.5 L227.6,517.5 L227.7,515.5 L227.7,513.4 L227.7,511.4 L227.7,509.4 L227.7,507.4 L227.8,505.4 L227.8,503.4 L227.8,501.4 L227.8,499.4 L227.9,497.4 L227.9,495.4 L227.9,493.4 L227.9,491.4 L227.9,489.4 L228.0,487.4 L228.0,485.4 L228.0,483.4 L228.0,481.4 L228.1,479.4 L228.1,477.4 L228.1,475.4 L228.1,473.4 L228.1,471.4 L228.2,469.4 L228.2,467.4 L228.2,465.4 L228.2,463.4 L228.3,461.4 L228.3,459.3 L228.3,457.3 L228.3,455.3 L228.4,453.3 L228.4,451.3 L228.4,449.3 L228.4,447.3 L228.4,445.3 L228.5,443.3 L228.5,441.3 L228.5,439.3 L228.5,437.3 L228.6,435.3 L228.6,433.3 L228.6,431.3 L228.6,429.3 L228.6,427.3 L228.7,425.3 L228.7,423.3 L228.7,421.3 L228.7,419.3 L228.8,417.3 L228.8,415.3 L228.8,413.3 L228.8,411.3 L228.9,409.3 L228.9,407.2 L228.9,405.2 L228.9,403.2 L228.9,401.2 L229.0,399.2 L229.0,397.2 L229.0,395.2 L229.0,393.2 L229.1,391.2 L229.1,389.2 L229.1,387.2 L229.1,385.2 L229.2,383.2 L229.2,381.2 L229.2,379.2 L229.2,377.2 L229.3,375.2 L229.3,373.2 L229.3,371.2 L229.3,369.2 L229.4,367.2 L229.4,365.2 L229.4,363.2 L229.4,361.2 L229.4,359.2 L229.5,357.2 L229.5,355.2 L229.5,353.1 L229.5,351.1 L229.6,349.1 L229.6,347.1 L229.6,345.1 L229.6,343.1 L229.7,341.1 L229.7,339.1 L229.7,337.1 L229.7,335.1 L229.8,333.1 L229.8,331.1 L229.8,329.1 L229.8,327.1 L229.9,325.1 L229.9,323.1 L229.9,321.1 L229.9,319.1 L230.0,317.1 L230.0,315.1 L230.0,313.1 L230.0,311.1 L230.1,309.1 L230.1,307.1 L230.1,305.1 L230.2,303.1 L230.2,301.0 L230.2,299.0 L230.2,297.0 L230.3,295.0 L230.3,293.0 L230.3,291.0 L230.4,289.0 L230.4,287.0 L230.4,285.0 L230.5,283.0 L230.5,281.0 L230.5,279.0 L230.6,277.0 L230.6,275.0 L230.6,273.0 L230.7,271.0 L230.7,269.0 L230.8,267.0 L230.8,265.0 L230.8,263.0 L230.9,261.0 L230.9,259.0 L231.0,257.0 L231.0,255.0 L231.0,253.0 L231.1,251.0 L231.1,249.0 L231.2,247.0 L231.2,244.9 L231.3,242.9 L231.3,240.9 L231.3,238.9 L231.4,236.9 L231.4,234.9 L231.5,232.9 L231.5,230.9 L231.6,228.9 L231.6,226.9 L231.7,224.9 L231.8,222.9 L231.8,220.9 L231.9,218.9 L231.9,216.9 L232.0,214.9 L232.1,212.9 L232.1,210.9 L232.2,208.9 L232.3,206.9 L232.4,204.9 L232.5,202.9 L232.6,200.9 L232.7,198.9 L232.8,196.9 L232.9,194.9 L233.0,192.9 L233.1,190.9 L233.2,188.9 L233.4,186.9 L233.5,184.9 L233.7,182.6 L233.9,180.0 L234.1,177.4 L234.4,175.0 L234.7,173.0 L234.9,171.7 L235.2,171.4 L235.4,172.2 L235.7,173.8 L235.9,176.0 L236.2,178.6 L236.4,181.2 L236.6,183.7 L236.8,185.8 L236.9,187.8 L237.0,189.8 L237.1,191.8 L237.2,193.8 L237.3,195.8 L237.4,197.8 L237.5,199.8 L237.6,201.8 L237.6,203.8 L237.7,205.8 L237.8,207.8 L237.8,209.8 L237.9,211.8 L238.0,213.8 L238.0,215.8 L238.1,217.8 L238.1,219.8 L238.2,221.8 L238.3,223.8 L238.3,225.8 L238.4,227.8 L238.4,229.8 L238.5,231.8 L238.5,233.8 L238.6,235.9 L238.6,237.9 L238.7,239.9 L238.7,241.9 L238.7,243.9 L238.8,245.9 L238.8,247.9 L238.9,249.9 L238.9,251.9 L239.0,253.9 L239.0,255.9 L239.1,257.9 L239.1,259.9 L239.1,261.9 L239.2,263.9 L239.2,265.9 L239.3,267.9 L239.3,269.9 L239.4,271.9 L239.4,273.9 L239.5,275.9 L239.5,277.9 L239.5,279.9 L239.6,281.9 L239.6,283.9 L239.7,285.9 L239.7,287.9 L239.8,289.9 L239.8,291.9 L239.9,294.0 L239.9,296.0 L239.9,298.0 L240.0,300.0 L240.1,302.0 L240.1,304.0 L240.2,306.0 L240.2,308.0 L240.3,310.0 L240.3,312.0 L240.4,314.0 L240.5,316.0 L240.5,318.0 L240.6,320.0 L240.6,322.0 L240.7,324.0 L240.8,326.0 L240.8,328.0 L240.9,330.0 L241.0,332.0 L241.0,334.0 L241.1,336.0 L241.2,338.0 L241.2,340.0 L241.3,342.0 L241.4,344.0 L241.4,346.0 L241.5,348.0 L241.6,350.0 L241.6,352.0 L241.7,354.0 L241.7,356.0 L241.8,358.0 L241.9,360.1 L241.9,362.1 L242.0,364.1 L242.0,366.1 L242.1,368.1 L242.2,370.1 L242.2,372.1 L242.3,374.1 L242.3,376.1 L242.4,378.1 L242.4,380.1 L242.4,382.1 L242.5,384.1 L242.5,386.1 L242.6,388.1 L242.6,390.1 L242.7,392.1 L242.7,394.1 L242.7,396.1 L242.8,398.1 L242.8,400.1 L242.9,402.1 L242.9,404.1 L242.9,406.1 L243.0,408.1 L243.0,410.1 L243.0,412.1 L243.1,414.1 L243.1,416.1 L243.1,418.1 L243.2,420.2 L243.2,422.2 L243.2,424.2 L243.3,426.2 L243.3,428.2 L243.3,430.2 L243.4,432.2 L243.4,434.2 L243.4,436.2 L243.5,438.2 L243.5,440.2 L243.5,442.2 L243.6,444.2 L243.6,446.2 L243.6,448.2 L243.7,450.2 L243.7,452.2 L243.7,454.2 L243.8,456.2 L243.8,458.2 L243.8,460.2 L243.8,462.2 L243.9,464.2 L243.9,466.2 L243.9,468.2 L244.0,470.2 L244.0,472.2 L244.0,474.3 L244.1,476.3 L244.1,478.3 L244.1,480.3 L244.2,482.3 L244.2,484.3 L244.2,486.3 L244.2,488.3 L244.3,490.3 L244.3,492.3 L244.3,494.3 L244.4,496.3 L244.4,498.3 L244.4,500.3 L244.5,502.3 L244.5,504.3 L244.6,506.3 L244.6,508.3 L244.6,510.3 L244.7,512.3 L244.7,514.3 L244.7,516.3 L244.8,518.3 L244.8,520.3 L244.8,522.3 L244.9,524.3 L244.9,526.3 L245.0,528.4 L245.0,530.4 L245.0,532.4 L245.1,534.4 L245.1,536.4 L245.1,538.4 L245.2,540.4 L245.2,542.4 L245.2,544.4 L245.3,546.4 L245.3,548.4 L245.4,550.4 L245.4,552.4 L245.4,554.4 L245.5,556.4 L245.5,558.4 L245.5,560.4 L245.6,562.4 L245.6,564.4 L245.6,566.4 L245.7,568.4 L245.7,570.4 L245.8,572.4 L245.8,574.4 L245.8,576.4 L245.9,578.4 L245.9,580.4 L245.9,582.5 L246.0,584.5 L246.0,586.5 L246.1,588.5 L246.1,590.5 L246.1,592.5 L246.2,594.5 L246.2,596.5 L246.3,598.5 L246.3,600.5 L246.3,602.5 L246.4,604.5 L246.4,606.5 L246.5,608.5 L246.5,610.5 L246.6,612.5 L246.6,614.5 L246.6,616.5 L246.7,618.5 L246.7,620.5 L246.8,622.5 L246.8,624.5 L246.9,626.5 L246.9,628.5 L247.0,630.5 L247.0,632.5 L247.1,634.5 L247.1,636.5 L247.2,638.5 L247.2,640.6 L247.3,642.6 L247.3,644.6 L247.4,646.6 L247.5,648.6 L247.5,650.6 L247.6,652.6 L247.6,654.6 L247.7,656.6 L247.8,658.6 L247.8,660.6 L247.9,662.6 L248.0,664.6 L248.0,666.6 L248.1,668.6 L248.2,670.6 L248.3,672.6 L248.4,674.6 L248.5,676.6 L248.6,678.6 L248.7,680.6 L248.8,682.6 L248.9,684.6 L249.0,686.6 L249.1,688.6 L249.2,690.6 L249.3,692.6 L249.4,694.6 L249.5,696.6 L249.6,698.6 L249.6,700.6 L249.7,702.6 L249.7,704.6 L249.8,706.6 L249.9,708.6 L249.9,710.6 L250.0,712.6 L250.0,714.6 L250.1,716.6 L250.1,718.6 L250.2,720.6 L250.2,722.6 L250.3,724.7 L250.3,726.7 L250.4,728.7 L250.4,730.7 L250.5,732.7 L250.5,734.7 L250.6,736.7 L250.6,738.7 L250.6,740.7 L250.7,742.7 L250.7,744.7 L250.8,746.7 L250.8,748.7 L250.8,750.7 L250.9,752.7 L250.9,754.7 L251.0,756.7 L251.0,758.7 L251.0,760.7 L251.1,762.7 L251.1,764.7 L251.1,766.7 L251.2,768.7 L251.2,770.7 L251.2,772.7 L251.3,774.7 L251.3,776.7 L251.4,778.7 L251.4,780.8 L251.4,782.8 L251.5,784.8 L251.5,786.8 L251.5,788.8 L251.6,790.8 L251.6,792.8 L251.6,794.8 L251.7,796.8 L251.7,798.8 L251.7,800.8 L251.8,802.8 L251.8,804.8 L251.9,806.8 L251.9,808.8 L251.9,810.8 L252.0,812.8 L252.0,814.8 L252.0,816.8 L252.1,818.8 L252.1,820.8 L252.2,822.8 L252.2,824.8 L252.3,826.8 L252.3,828.8 L252.3,830.8 L252.4,832.8 L252.4,834.9 L252.5,836.9 L252.5,838.9 L252.6,840.9 L252.6,842.9 L252.7,844.9 L252.7,846.9 L252.8,848.9 L252.8,850.9 L252.9,852.9 L252.9,854.9 L253.0,856.9 L253.0,858.9 L253.1,860.9 L253.2,862.9 L253.2,864.9 L253.3,866.9 L253.3,868.9 L253.4,870.9 L253.5,872.9 L253.5,874.9 L253.6,876.9 L253.6,878.9 L253.7,880.9 L253.8,882.9 L253.8,884.9 L253.9,886.9 L254.0,888.9 L254.0,890.9 L254.1,892.9 L254.2,894.9 L254.2,896.9 L254.3,898.9 L254.4,900.9 L254.5,903.0 L254.5,905.0 L254.6,907.0 L254.7,909.0 L254.7,911.0 L254.8,913.0 L254.9,915.0 L255.0,917.0 L255.0,919.0 L255.1,921.0 L255.2,923.0 L255.3,925.0 L255.3,927.0 L255.4,929.0 L255.5,931.0 L255.5,933.0 L255.6,935.0 L255.7,937.0 L255.8,939.0 L255.8,941.0 L255.9,943.0 L256.0,945.0 L256.1,947.0 L256.1,949.0 L256.2,951.0 L256.3,953.0 L256.4,955.0 L256.4,957.0 L256.5,959.0 L256.6,961.0 L256.7,963.0 L256.7,965.0 L256.8,967.0 L256.9,969.0 L257.0,971.0 L257.0,973.0 L257.1,975.0 L257.2,977.0 L257.3,979.1 L257.3,981.1 L257.4,983.1 L257.5,985.1 L257.5,987.1 L257.6,989.1 L257.7,991.1 L257.8,993.1 L257.8,995.1 L257.9,997.1 L258.0,999.1 L258.0,1001.1 L258.1,1003.1 L258.2,1005.1 L258.2,1007.1 L258.3,1009.1 L258.4,1011.1 L258.4,1013.1 L258.5,1015.1 L258.6,1017.1 L258.6,1019.1 L258.7,1021.1 L258.8,1023.1 L258.8,1025.1 L258.9,1027.1 L258.9,1029.1 L259.0,1031.1 L259.1,1033.1 L259.1,1035.1 L259.2,1037.1 L259.3,1039.1 L259.3,1041.1 L259.4,1043.1 L259.4,1045.1 L259.5,1047.2 L259.6,1049.2 L259.6,1051.2 L259.7,1053.2 L259.8,1055.2 L259.8,1057.2 L259.9,1059.2 L260.0,1061.2 L260.0,1063.2 L260.1,1065.2 L260.2,1067.2 L260.2,1069.2 L260.3,1071.2 L260.4,1073.2 L260.4,1075.2 L260.5,1077.2 L260.6,1079.2 L260.7,1081.2 L260.7,1083.2 L260.8,1085.2 L260.9,1087.2 L261.0,1089.2 L261.0,1091.2 L261.1,1093.2 L261.2,1095.2 L261.3,1097.2 L261.4,1099.2 L261.5,1101.2 L261.5,1103.2 L261.6,1105.2 L261.7,1107.2 L261.8,1109.2 L261.9,1111.2 L262.0,1113.2 L262.1,1115.2 L262.2,1117.2 L262.3,1119.2 L262.4,1121.2 L262.6,1123.2 L262.7,1125.2 L262.8,1127.2 L262.9,1129.2 L263.0,1131.2 L263.1,1133.2 L263.2,1135.2 L263.3,1137.2 L263.4,1139.2 L263.5,1141.2 L263.7,1143.2 L263.8,1145.2 L263.9,1147.2 L264.0,1149.2 L264.1,1151.3 L264.2,1153.3 L264.3,1155.3 L264.3,1157.3 L264.4,1159.3 L264.5,1161.3 L264.6,1163.3 L264.7,1165.3 L264.8,1167.3 L264.9,1169.3 L265.0,1171.3 L265.1,1173.3 L265.2,1175.3 L265.3,1177.3 L265.3,1179.3 L265.4,1181.3 L265.5,1183.3 L265.6,1185.3 L265.7,1187.3 L265.8,1189.3 L265.9,1191.3 L266.0,1193.3 L266.1,1195.3 L266.2,1197.3 L266.4,1199.3 L266.5,1201.3 L266.6,1203.3 L266.7,1205.3 L266.8,1207.3 L267.0,1209.3 L267.1,1211.3 L267.2,1213.3 L267.4,1215.3 L267.5,1217.3 L267.7,1219.3 L267.8,1221.3 L268.0,1223.3 L268.1,1225.3 L268.3,1227.3 L268.4,1229.3 L268.6,1231.3 L268.7,1233.3 L268.9,1235.3 L269.0,1237.3 L269.2,1239.3 L269.3,1241.3 L269.5,1243.3 L269.6,1245.3 L269.8,1247.3 L269.9,1249.3 L270.1,1251.3 L270.2,1253.3 L270.4,1255.3 L270.5,1257.3 L270.7,1259.3 L270.8,1261.3 L271.0,1263.3 L271.1,1265.3 L271.3,1267.3 L271.4,1269.3 L271.6,1271.3 L271.7,1273.3 L271.9,1275.2 L272.0,1277.2 L272.2,1279.2 L272.3,1281.2 L272.5,1283.2 L272.6,1285.2 L272.8,1287.2 L273.0,1289.2 L273.2,1291.2 L273.3,1293.2 L273.5,1295.2 L273.7,1297.2 L273.9,1299.2 L274.1,1301.2 L274.3,1303.2 L274.5,1305.2 L274.8,1307.2 L275.0,1309.2 L275.2,1311.2 L275.4,1313.2 L275.7,1315.1 L275.9,1317.1 L276.2,1319.1 L276.4,1321.1 L276.7,1323.1 L277.0,1325.1 L277.3,1327.1 L277.5,1329.1 L277.8,1331.1 L278.1,1333.1 L278.4,1335.0 L278.7,1337.0 L279.1,1339.0 L279.4,1341.0 L279.7,1342.9 L280.1,1344.9 L280.4,1346.9 L280.8,1348.8 L281.2,1350.8 L281.5,1352.8 L281.9,1354.7 L282.4,1356.7 L282.8,1358.6 L283.3,1360.6 L283.8,1362.6 L284.3,1364.5 L284.8,1366.5 L285.3,1368.4 L285.9,1370.4 L286.4,1372.3 L287.0,1374.2 L287.7,1376.1 L288.3,1378.0 L288.9,1379.8 L289.6,1381.7 L290.4,1383.6 L291.1,1385.4 L291.9,1387.3 L292.8,1389.1 L293.7,1390.9 L294.6,1392.7 L295.6,1394.5 L296.6,1396.2 L297.7,1397.9 L298.7,1399.6 L299.8,1401.3 L301.0,1403.3 L302.3,1405.2 L303.7,1407.0 L305.1,1408.3 L306.6,1409.0 L308.2,1408.9 L310.1,1408.3 L312.0,1407.6 L314.1,1406.8 L316.1,1406.2 L318.1,1406.0 L320.0,1406.2 L322.0,1406.5 L323.9,1407.1 L325.8,1407.8 L327.7,1408.5 L329.7,1409.2 L331.6,1409.9 L333.5,1410.5 L335.4,1411.0 L337.3,1411.6 L339.3,1412.2 L341.2,1412.8 L343.1,1413.4 L345.0,1414.0 L345.0,1421.0 L224.0,1421.0 Z" fill="#B8E2CA" fill-opacity="0.5" stroke="none"/>
<path d="M224.0,806.0 L224.0,804.0 L224.1,802.0 L224.1,800.0 L224.1,798.0 L224.1,796.0 L224.2,794.0 L224.2,792.0 L224.2,790.0 L224.3,788.0 L224.3,786.0 L224.3,784.0 L224.4,782.0 L224.4,780.0 L224.4,777.9 L224.4,775.9 L224.5,773.9 L224.5,771.9 L224.5,769.9 L224.6,767.9 L224.6,765.9 L224.6,763.9 L224.6,761.9 L224.7,759.9 L224.7,757.9 L224.7,755.9 L224.8,753.9 L224.8,751.9 L224.8,749.9 L224.8,747.9 L224.9,745.9 L224.9,743.9 L224.9,741.9 L224.9,739.9 L225.0,737.9 L225.0,735.9 L225.0,733.9 L225.1,731.9 L225.1,729.9 L225.1,727.9 L225.1,725.9 L225.2,723.8 L225.2,721.8 L225.2,719.8 L225.3,717.8 L225.3,715.8 L225.3,713.8 L225.3,711.8 L225.4,709.8 L225.4,707.8 L225.4,705.8 L225.4,703.8 L225.5,701.8 L225.5,699.8 L225.5,697.8 L225.5,695.8 L225.6,693.8 L225.6,691.8 L225.6,689.8 L225.6,687.8 L225.7,685.8 L225.7,683.8 L225.7,681.8 L225.8,679.8 L225.8,677.8 L225.8,675.8 L225.8,673.8 L225.9,671.7 L225.9,669.7 L225.9,667.7 L225.9,665.7 L226.0,663.7 L226.0,661.7 L226.0,659.7 L226.0,657.7 L226.1,655.7 L226.1,653.7 L226.1,651.7 L226.1,649.7 L226.2,647.7 L226.2,645.7 L226.2,643.7 L226.2,641.7 L226.2,639.7 L226.3,637.7 L226.3,635.7 L226.3,633.7 L226.3,631.7 L226.4,629.7 L226.4,627.7 L226.4,625.7 L226.4,623.7 L226.5,621.7 L226.5,619.7 L226.5,617.6 L226.5,615.6 L226.6,613.6 L226.6,611.6 L226.6,609.6 L226.6,607.6 L226.6,605.6 L226.7,603.6 L226.7,601.6 L226.7,599.6 L226.7,597.6 L226.8,595.6 L226.8,593.6 L226.8,591.6 L226.8,589.6 L226.8,587.6 L226.9,585.6 L226.9,583.6 L226.9,581.6 L226.9,579.6 L227.0,577.6 L227.0,575.6 L227.0,573.6 L227.0,571.6 L227.0,569.6 L227.1,567.6 L227.1,565.5 L227.1,563.5 L227.1,561.5 L227.2,559.5 L227.2,557.5 L227.2,555.5 L227.2,553.5 L227.2,551.5 L227.3,549.5 L227.3,547.5 L227.3,545.5 L227.3,543.5 L227.4,541.5 L227.4,539.5 L227.4,537.5 L227.4,535.5 L227.4,533.5 L227.5,531.5 L227.5,529.5 L227.5,527.5 L227.5,525.5 L227.6,523.5 L227.6,521.5 L227.6,519.5 L227.6,517.5 L227.7,515.5 L227.7,513.4 L227.7,511.4 L227.7,509.4 L227.7,507.4 L227.8,505.4 L227.8,503.4 L227.8,501.4 L227.8,499.4 L227.9,497.4 L227.9,495.4 L227.9,493.4 L227.9,491.4 L227.9,489.4 L228.0,487.4 L228.0,485.4 L228.0,483.4 L228.0,481.4 L228.1,479.4 L228.1,477.4 L228.1,475.4 L228.1,473.4 L228.1,471.4 L228.2,469.4 L228.2,467.4 L228.2,465.4 L228.2,463.4 L228.3,461.4 L228.3,459.3 L228.3,457.3 L228.3,455.3 L228.4,453.3 L228.4,451.3 L228.4,449.3 L228.4,447.3 L228.4,445.3 L228.5,443.3 L228.5,441.3 L228.5,439.3 L228.5,437.3 L228.6,435.3 L228.6,433.3 L228.6,431.3 L228.6,429.3 L228.6,427.3 L228.7,425.3 L228.7,423.3 L228.7,421.3 L228.7,419.3 L228.8,417.3 L228.8,415.3 L228.8,413.3 L228.8,411.3 L228.9,409.3 L228.9,407.2 L228.9,405.2 L228.9,403.2 L228.9,401.2 L229.0,399.2 L229.0,397.2 L229.0,395.2 L229.0,393.2 L229.1,391.2 L229.1,389.2 L229.1,387.2 L229.1,385.2 L229.2,383.2 L229.2,381.2 L229.2,379.2 L229.2,377.2 L229.3,375.2 L229.3,373.2 L229.3,371.2 L229.3,369.2 L229.4,367.2 L229.4,365.2 L229.4,363.2 L229.4,361.2 L229.4,359.2 L229.5,357.2 L229.5,355.2 L229.5,353.1 L229.5,351.1 L229.6,349.1 L229.6,347.1 L229.6,345.1 L229.6,343.1 L229.7,341.1 L229.7,339.1 L229.7,337.1 L229.7,335.1 L229.8,333.1 L229.8,331.1 L229.8,329.1 L229.8,327.1 L229.9,325.1 L229.9,323.1 L229.9,321.1 L229.9,319.1 L230.0,317.1 L230.0,315.1 L230.0,313.1 L230.0,311.1 L230.1,309.1 L230.1,307.1 L230.1,305.1 L230.2,303.1 L230.2,301.0 L230.2,299.0 L230.2,297.0 L230.3,295.0 L230.3,293.0 L230.3,291.0 L230.4,289.0 L230.4,287.0 L230.4,285.0 L230.5,283.0 L230.5,281.0 L230.5,279.0 L230.6,277.0 L230.6,275.0 L230.6,273.0 L230.7,271.0 L230.7,269.0 L230.8,267.0 L230.8,265.0 L230.8,263.0 L230.9,261.0 L230.9,259.0 L231.0,257.0 L231.0,255.0 L231.0,253.0 L231.1,251.0 L231.1,249.0 L231.2,247.0 L231.2,244.9 L231.3,242.9 L231.3,240.9 L231.3,238.9 L231.4,236.9 L231.4,234.9 L231.5,232.9 L231.5,230.9 L231.6,228.9 L231.6,226.9 L231.7,224.9 L231.8,222.9 L231.8,220.9 L231.9,218.9 L231.9,216.9 L232.0,214.9 L232.1,212.9 L232.1,210.9 L232.2,208.9 L232.3,206.9 L232.4,204.9 L232.5,202.9 L232.6,200.9 L232.7,198.9 L232.8,196.9 L232.9,194.9 L233.0,192.9 L233.1,190.9 L233.2,188.9 L233.4,186.9 L233.5,184.9 L233.7,182.6 L233.9,180.0 L234.1,177.4 L234.4,175.0 L234.7,173.0 L234.9,171.7 L235.2,171.4 L235.4,172.2 L235.7,173.8 L235.9,176.0 L236.2,178.6 L236.4,181.2 L236.6,183.7 L236.8,185.8 L236.9,187.8 L237.0,189.8 L237.1,191.8 L237.2,193.8 L237.3,195.8 L237.4,197.8 L237.5,199.8 L237.6,201.8 L237.6,203.8 L237.7,205.8 L237.8,207.8 L237.8,209.8 L237.9,211.8 L238.0,213.8 L238.0,215.8 L238.1,217.8 L238.1,219.8 L238.2,221.8 L238.3,223.8 L238.3,225.8 L238.4,227.8 L238.4,229.8 L238.5,231.8 L238.5,233.8 L238.6,235.9 L238.6,237.9 L238.7,239.9 L238.7,241.9 L238.7,243.9 L238.8,245.9 L238.8,247.9 L238.9,249.9 L238.9,251.9 L239.0,253.9 L239.0,255.9 L239.1,257.9 L239.1,259.9 L239.1,261.9 L239.2,263.9 L239.2,265.9 L239.3,267.9 L239.3,269.9 L239.4,271.9 L239.4,273.9 L239.5,275.9 L239.5,277.9 L239.5,279.9 L239.6,281.9 L239.6,283.9 L239.7,285.9 L239.7,287.9 L239.8,289.9 L239.8,291.9 L239.9,294.0 L239.9,296.0 L239.9,298.0 L240.0,300.0 L240.1,302.0 L240.1,304.0 L240.2,306.0 L240.2,308.0 L240.3,310.0 L240.3,312.0 L240.4,314.0 L240.5,316.0 L240.5,318.0 L240.6,320.0 L240.6,322.0 L240.7,324.0 L240.8,326.0 L240.8,328.0 L240.9,330.0 L241.0,332.0 L241.0,334.0 L241.1,336.0 L241.2,338.0 L241.2,340.0 L241.3,342.0 L241.4,344.0 L241.4,346.0 L241.5,348.0 L241.6,350.0 L241.6,352.0 L241.7,354.0 L241.7,356.0 L241.8,358.0 L241.9,360.1 L241.9,362.1 L242.0,364.1 L242.0,366.1 L242.1,368.1 L242.2,370.1 L242.2,372.1 L242.3,374.1 L242.3,376.1 L242.4,378.1 L242.4,380.1 L242.4,382.1 L242.5,384.1 L242.5,386.1 L242.6,388.1 L242.6,390.1 L242.7,392.1 L242.7,394.1 L242.7,396.1 L242.8,398.1 L242.8,400.1 L242.9,402.1 L242.9,404.1 L242.9,406.1 L243.0,408.1 L243.0,410.1 L243.0,412.1 L243.1,414.1 L243.1,416.1 L243.1,418.1 L243.2,420.2 L243.2,422.2 L243.2,424.2 L243.3,426.2 L243.3,428.2 L243.3,430.2 L243.4,432.2 L243.4,434.2 L243.4,436.2 L243.5,438.2 L243.5,440.2 L243.5,442.2 L243.6,444.2 L243.6,446.2 L243.6,448.2 L243.7,450.2 L243.7,452.2 L243.7,454.2 L243.8,456.2 L243.8,458.2 L243.8,460.2 L243.8,462.2 L243.9,464.2 L243.9,466.2 L243.9,468.2 L244.0,470.2 L244.0,472.2 L244.0,474.3 L244.1,476.3 L244.1,478.3 L244.1,480.3 L244.2,482.3 L244.2,484.3 L244.2,486.3 L244.2,488.3 L244.3,490.3 L244.3,492.3 L244.3,494.3 L244.4,496.3 L244.4,498.3 L244.4,500.3 L244.5,502.3 L244.5,504.3 L244.6,506.3 L244.6,508.3 L244.6,510.3 L244.7,512.3 L244.7,514.3 L244.7,516.3 L244.8,518.3 L244.8,520.3 L244.8,522.3 L244.9,524.3 L244.9,526.3 L245.0,528.4 L245.0,530.4 L245.0,532.4 L245.1,534.4 L245.1,536.4 L245.1,538.4 L245.2,540.4 L245.2,542.4 L245.2,544.4 L245.3,546.4 L245.3,548.4 L245.4,550.4 L245.4,552.4 L245.4,554.4 L245.5,556.4 L245.5,558.4 L245.5,560.4 L245.6,562.4 L245.6,564.4 L245.6,566.4 L245.7,568.4 L245.7,570.4 L245.8,572.4 L245.8,574.4 L245.8,576.4 L245.9,578.4 L245.9,580.4 L245.9,582.5 L246.0,584.5 L246.0,586.5 L246.1,588.5 L246.1,590.5 L246.1,592.5 L246.2,594.5 L246.2,596.5 L246.3,598.5 L246.3,600.5 L246.3,602.5 L246.4,604.5 L246.4,606.5 L246.5,608.5 L246.5,610.5 L246.6,612.5 L246.6,614.5 L246.6,616.5 L246.7,618.5 L246.7,620.5 L246.8,622.5 L246.8,624.5 L246.9,626.5 L246.9,628.5 L247.0,630.5 L247.0,632.5 L247.1,634.5 L247.1,636.5 L247.2,638.5 L247.2,640.6 L247.3,642.6 L247.3,644.6 L247.4,646.6 L247.5,648.6 L247.5,650.6 L247.6,652.6 L247.6,654.6 L247.7,656.6 L247.8,658.6 L247.8,660.6 L247.9,662.6 L248.0,664.6 L248.0,666.6 L248.1,668.6 L248.2,670.6 L248.3,672.6 L248.4,674.6 L248.5,676.6 L248.6,678.6 L248.7,680.6 L248.8,682.6 L248.9,684.6 L249.0,686.6 L249.1,688.6 L249.2,690.6 L249.3,692.6 L249.4,694.6 L249.5,696.6 L249.6,698.6 L249.6,700.6 L249.7,702.6 L249.7,704.6 L249.8,706.6 L249.9,708.6 L249.9,710.6 L250.0,712.6 L250.0,714.6 L250.1,716.6 L250.1,718.6 L250.2,720.6 L250.2,722.6 L250.3,724.7 L250.3,726.7 L250.4,728.7 L250.4,730.7 L250.5,732.7 L250.5,734.7 L250.6,736.7 L250.6,738.7 L250.6,740.7 L250.7,742.7 L250.7,744.7 L250.8,746.7 L250.8,748.7 L250.8,750.7 L250.9,752.7 L250.9,754.7 L251.0,756.7 L251.0,758.7 L251.0,760.7 L251.1,762.7 L251.1,764.7 L251.1,766.7 L251.2,768.7 L251.2,770.7 L251.2,772.7 L251.3,774.7 L251.3,776.7 L251.4,778.7 L251.4,780.8 L251.4,782.8 L251.5,784.8 L251.5,786.8 L251.5,788.8 L251.6,790.8 L251.6,792.8 L251.6,794.8 L251.7,796.8 L251.7,798.8 L251.7,800.8 L251.8,802.8 L251.8,804.8 L251.9,806.8 L251.9,808.8 L251.9,810.8 L252.0,812.8 L252.0,814.8 L252.0,816.8 L252.1,818.8 L252.1,820.8 L252.2,822.8 L252.2,824.8 L252.3,826.8 L252.3,828.8 L252.3,830.8 L252.4,832.8 L252.4,834.9 L252.5,836.9 L252.5,838.9 L252.6,840.9 L252.6,842.9 L252.7,844.9 L252.7,846.9 L252.8,848.9 L252.8,850.9 L252.9,852.9 L252.9,854.9 L253.0,856.9 L253.0,858.9 L253.1,860.9 L253.2,862.9 L253.2,864.9 L253.3,866.9 L253.3,868.9 L253.4,870.9 L253.5,872.9 L253.5,874.9 L253.6,876.9 L253.6,878.9 L253.7,880.9 L253.8,882.9 L253.8,884.9 L253.9,886.9 L254.0,888.9 L254.0,890.9 L254.1,892.9 L254.2,894.9 L254.2,896.9 L254.3,898.9 L254.4,900.9 L254.5,903.0 L254.5,905.0 L254.6,907.0 L254.7,909.0 L254.7,911.0 L254.8,913.0 L254.9,915.0 L255.0,917.0 L255.0,919.0 L255.1,921.0 L255.2,923.0 L255.3,925.0 L255.3,927.0 L255.4,929.0 L255.5,931.0 L255.5,933.0 L255.6,935.0 L255.7,937.0 L255.8,939.0 L255.8,941.0 L255.9,943.0 L256.0,945.0 L256.1,947.0 L256.1,949.0 L256.2,951.0 L256.3,953.0 L256.4,955.0 L256.4,957.0 L256.5,959.0 L256.6,961.0 L256.7,963.0 L256.7,965.0 L256.8,967.0 L256.9,969.0 L257.0,971.0 L257.0,973.0 L257.1,975.0 L257.2,977.0 L257.3,979.1 L257.3,981.1 L257.4,983.1 L257.5,985.1 L257.5,987.1 L257.6,989.1 L257.7,991.1 L257.8,993.1 L257.8,995.1 L257.9,997.1 L258.0,999.1 L258.0,1001.1 L258.1,1003.1 L258.2,1005.1 L258.2,1007.1 L258.3,1009.1 L258.4,1011.1 L258.4,1013.1 L258.5,1015.1 L258.6,1017.1 L258.6,1019.1 L258.7,1021.1 L258.8,1023.1 L258.8,1025.1 L258.9,1027.1 L258.9,1029.1 L259.0,1031.1 L259.1,1033.1 L259.1,1035.1 L259.2,1037.1 L259.3,1039.1 L259.3,1041.1 L259.4,1043.1 L259.4,1045.1 L259.5,1047.2 L259.6,1049.2 L259.6,1051.2 L259.7,1053.2 L259.8,1055.2 L259.8,1057.2 L259.9,1059.2 L260.0,1061.2 L260.0,1063.2 L260.1,1065.2 L260.2,1067.2 L260.2,1069.2 L260.3,1071.2 L260.4,1073.2 L260.4,1075.2 L260.5,1077.2 L260.6,1079.2 L260.7,1081.2 L260.7,1083.2 L260.8,1085.2 L260.9,1087.2 L261.0,1089.2 L261.0,1091.2 L261.1,1093.2 L261.2,1095.2 L261.3,1097.2 L261.4,1099.2 L261.5,1101.2 L261.5,1103.2 L261.6,1105.2 L261.7,1107.2 L261.8,1109.2 L261.9,1111.2 L262.0,1113.2 L262.1,1115.2 L262.2,1117.2 L262.3,1119.2 L262.4,1121.2 L262.6,1123.2 L262.7,1125.2 L262.8,1127.2 L262.9,1129.2 L263.0,1131.2 L263.1,1133.2 L263.2,1135.2 L263.3,1137.2 L263.4,1139.2 L263.5,1141.2 L263.7,1143.2 L263.8,1145.2 L263.9,1147.2 L264.0,1149.2 L264.1,1151.3 L264.2,1153.3 L264.3,1155.3 L264.3,1157.3 L264.4,1159.3 L264.5,1161.3 L264.6,1163.3 L264.7,1165.3 L264.8,1167.3 L264.9,1169.3 L265.0,1171.3 L265.1,1173.3 L265.2,1175.3 L265.3,1177.3 L265.3,1179.3 L265.4,1181.3 L265.5,1183.3 L265.6,1185.3 L265.7,1187.3 L265.8,1189.3 L265.9,1191.3 L266.0,1193.3 L266.1,1195.3 L266.2,1197.3 L266.4,1199.3 L266.5,1201.3 L266.6,1203.3 L266.7,1205.3 L266.8,1207.3 L267.0,1209.3 L267.1,1211.3 L267.2,1213.3 L267.4,1215.3 L267.5,1217.3 L267.7,1219.3 L267.8,1221.3 L268.0,1223.3 L268.1,1225.3 L268.3,1227.3 L268.4,1229.3 L268.6,1231.3 L268.7,1233.3 L268.9,1235.3 L269.0,1237.3 L269.2,1239.3 L269.3,1241.3 L269.5,1243.3 L269.6,1245.3 L269.8,1247.3 L269.9,1249.3 L270.1,1251.3 L270.2,1253.3 L270.4,1255.3 L270.5,1257.3 L270.7,1259.3 L270.8,1261.3 L271.0,1263.3 L271.1,1265.3 L271.3,1267.3 L271.4,1269.3 L271.6,1271.3 L271.7,1273.3 L271.9,1275.2 L272.0,1277.2 L272.2,1279.2 L272.3,1281.2 L272.5,1283.2 L272.6,1285.2 L272.8,1287.2 L273.0,1289.2 L273.2,1291.2 L273.3,1293.2 L273.5,1295.2 L273.7,1297.2 L273.9,1299.2 L274.1,1301.2 L274.3,1303.2 L274.5,1305.2 L274.8,1307.2 L275.0,1309.2 L275.2,1311.2 L275.4,1313.2 L275.7,1315.1 L275.9,1317.1 L276.2,1319.1 L276.4,1321.1 L276.7,1323.1 L277.0,1325.1 L277.3,1327.1 L277.5,1329.1 L277.8,1331.1 L278.1,1333.1 L278.4,1335.0 L278.7,1337.0 L279.1,1339.0 L279.4,1341.0 L279.7,1342.9 L280.1,1344.9 L280.4,1346.9 L280.8,1348.8 L281.2,1350.8 L281.5,1352.8 L281.9,1354.7 L282.4,1356.7 L282.8,1358.6 L283.3,1360.6 L283.8,1362.6 L284.3,1364.5 L284.8,1366.5 L285.3,1368.4 L285.9,1370.4 L286.4,1372.3 L287.0,1374.2 L287.7,1376.1 L288.3,1378.0 L288.9,1379.8 L289.6,1381.7 L290.4,1383.6 L291.1,1385.4 L291.9,1387.3 L292.8,1389.1 L293.7,1390.9 L294.6,1392.7 L295.6,1394.5 L296.6,1396.2 L297.7,1397.9 L298.7,1399.6 L299.8,1401.3 L301.0,1403.3 L302.3,1405.2 L303.7,1407.0 L305.1,1408.3 L306.6,1409.0 L308.2,1408.9 L310.1,1408.3 L312.0,1407.6 L314.1,1406.8 L316.1,1406.2 L318.1,1406.0 L320.0,1406.2 L322.0,1406.5 L323.9,1407.1 L325.8,1407.8 L327.7,1408.5 L329.7,1409.2 L331.6,1409.9 L333.5,1410.5 L335.4,1411.0 L337.3,1411.6 L339.3,1412.2 L341.2,1412.8 L343.1,1413.4 L345.0,1414.0" fill="none" stroke="#37AD6B" stroke-width="2.6"/>
<path d="M224.5,893.0 L224.8,891.0 L225.1,889.0 L225.3,887.0 L225.6,885.1 L225.9,883.1 L226.2,881.1 L226.5,879.1 L226.8,877.1 L227.1,875.1 L227.4,873.1 L227.7,871.2 L228.0,869.2 L228.3,867.2 L228.6,865.2 L228.9,863.2 L229.2,861.3 L229.5,859.3 L229.8,857.3 L230.1,855.3 L230.5,853.3 L230.8,851.4 L231.1,849.4 L231.4,847.4 L231.7,845.4 L232.1,843.4 L232.4,841.5 L232.7,839.5 L233.0,837.5 L233.4,835.5 L233.7,833.5 L234.0,831.5 L234.3,829.6 L234.7,827.6 L235.0,825.6 L235.3,823.6 L235.7,821.6 L236.0,819.7 L236.4,817.7 L236.8,815.7 L237.1,813.7 L237.5,811.8 L237.9,809.8 L238.3,807.9 L238.7,805.9 L239.1,803.9 L239.6,802.0 L240.0,800.0 L240.4,798.1 L240.9,796.2 L241.4,794.2 L241.9,792.3 L242.4,790.3 L243.0,788.4 L243.5,786.5 L244.1,784.6 L244.7,782.6 L245.3,780.7 L245.9,778.8 L246.5,776.9 L247.1,775.0 L247.7,773.0 L248.3,771.1 L248.9,769.2 L249.6,767.3 L250.2,765.4 L250.8,763.5 L251.5,761.6 L252.1,759.7 L252.7,757.8 L253.3,755.9 L254.0,753.9 L254.6,752.0 L255.2,750.1 L255.8,748.2 L256.4,746.2 L257.1,744.3 L257.8,742.4 L258.4,740.5 L259.2,738.6 L259.9,736.8 L260.7,734.9 L261.5,733.1 L262.3,731.4 L263.2,729.6 L264.2,727.8 L265.2,726.0 L266.3,724.2 L267.5,722.5 L268.8,721.1 L270.2,719.8 L271.9,718.7 L273.7,717.7 L275.7,717.1 L277.6,717.1 L279.6,717.6 L281.5,718.3 L283.3,719.1 L284.9,720.3 L286.4,721.7 L287.8,723.2 L289.0,724.7 L290.1,726.4 L291.2,728.0 L292.3,729.8 L293.3,731.6 L294.2,733.4 L295.1,735.2 L296.0,737.0 L296.8,738.8 L297.7,740.6 L298.5,742.4 L299.2,744.3 L300.0,746.2 L300.7,748.0 L301.4,749.9 L302.1,751.8 L302.8,753.7 L303.5,755.6 L304.1,757.5 L304.8,759.4 L305.4,761.3 L306.1,763.2 L306.7,765.1 L307.3,767.0 L307.9,768.9 L308.5,770.8 L309.1,772.8 L309.6,774.7 L310.2,776.6 L310.7,778.5 L311.3,780.5 L311.9,782.4 L312.4,784.3 L312.9,786.3 L313.5,788.2 L314.0,790.1 L314.6,792.0 L315.1,794.0 L315.7,795.9 L316.2,797.8 L316.7,799.8 L317.2,801.7 L317.8,803.6 L318.3,805.6 L318.8,807.5 L319.3,809.5 L319.8,811.4 L320.3,813.3 L320.8,815.3 L321.3,817.2 L321.8,819.2 L322.3,821.1 L322.7,823.1 L323.2,825.0 L323.7,827.0 L324.1,828.9 L324.5,830.9 L325.0,832.9 L325.4,834.8 L325.9,836.8 L326.3,838.7 L326.7,840.7 L327.2,842.6 L327.7,844.6 L328.1,846.5 L328.6,848.5 L329.1,850.4 L329.6,852.4 L330.1,854.3 L330.7,856.2 L331.2,858.2 L331.7,860.1 L332.3,862.0 L332.9,863.9 L333.4,865.9 L334.0,867.8 L334.6,869.7 L335.2,871.6 L335.7,873.5 L336.3,875.5 L336.9,877.4 L337.5,879.3 L338.1,881.2 L338.7,883.1 L339.3,885.0 L339.9,887.0 L340.5,888.9 L341.1,890.8 L341.7,892.7 L342.3,894.6 L342.9,896.5 L343.5,898.4 L344.1,900.4 L344.7,902.3 L345.3,904.2 L345.9,906.1 L346.4,908.1 L347.0,910.0 L347.6,911.9 L348.1,913.9 L348.7,915.8 L349.2,917.7 L349.8,919.7 L350.4,921.6 L351.0,923.5 L351.5,925.5 L352.1,927.4 L352.7,929.3 L353.3,931.2 L353.9,933.1 L354.5,935.0 L355.2,936.9 L355.8,938.8 L356.5,940.7 L357.1,942.6 L357.8,944.5 L358.5,946.3 L359.3,948.2 L360.0,950.0 L360.8,951.8 L361.5,953.7 L362.4,955.6 L363.2,957.4 L364.0,959.3 L364.9,961.1 L365.8,963.0 L366.7,964.8 L367.6,966.6 L368.6,968.4 L369.6,970.2 L370.6,971.9 L371.6,973.6 L372.7,975.3 L373.8,976.9 L374.9,978.5 L376.1,980.1 L377.3,981.6 L378.5,983.3 L379.9,984.9 L381.2,986.5 L382.7,988.1 L384.2,989.6 L385.7,991.0 L387.3,992.3 L388.9,993.4 L390.5,994.3 L392.2,995.1 L393.9,995.7 L395.8,996.4 L397.7,997.0 L399.7,997.5 L401.7,998.0 L403.8,998.4 L405.8,998.7 L407.8,998.9 L409.8,999.0 L411.8,999.0 L413.8,999.0 L415.8,999.0 L417.8,999.0 L419.9,999.0 L421.9,999.0 L423.9,999.0 L425.9,999.0 L427.9,999.0 L429.9,999.0 L431.9,999.1 L433.9,999.3 L435.9,999.5 L437.9,999.9 L439.9,1000.4 L441.8,1000.9 L443.8,1001.4 L445.7,1001.9 L447.6,1002.5 L449.4,1003.2 L451.3,1003.9 L453.2,1004.8 L455.0,1005.7 L456.8,1006.7 L458.5,1007.8 L460.2,1008.8 L461.9,1009.9 L463.4,1011.0 L465.0,1012.2 L466.5,1013.5 L468.0,1014.8 L469.5,1016.1 L471.0,1017.6 L472.4,1019.0 L473.8,1020.5 L475.2,1022.0 L476.5,1023.5 L477.9,1025.1 L479.2,1026.6 L480.5,1028.2 L481.8,1029.7 L483.0,1031.2 L484.3,1032.8 L485.5,1034.4 L486.7,1036.0 L487.9,1037.6 L489.1,1039.3 L490.2,1040.9 L491.4,1042.6 L492.5,1044.3 L493.5,1046.0 L494.6,1047.7 L495.6,1049.4 L496.6,1051.1 L497.6,1052.8 L498.6,1054.5 L499.6,1056.3 L500.5,1058.0 L501.5,1059.8 L502.4,1061.6 L503.3,1063.4 L504.2,1065.1 L505.1,1066.9 L506.0,1068.7 L506.9,1070.6 L507.7,1072.4 L508.6,1074.2 L509.5,1076.0 L510.3,1077.8 L511.1,1079.7 L512.0,1081.5 L512.8,1083.4 L513.6,1085.2 L514.4,1087.0 L515.2,1088.9 L516.0,1090.7 L516.8,1092.6 L517.6,1094.4 L518.4,1096.3 L519.2,1098.1 L520.0,1100.0 L520.8,1101.8 L521.5,1103.7 L522.3,1105.5 L523.0,1107.4 L523.7,1109.2 L524.4,1111.1 L525.2,1113.0 L525.9,1114.9 L526.6,1116.7 L527.3,1118.6 L528.0,1120.5 L528.7,1122.4 L529.5,1124.2 L530.2,1126.1 L530.9,1128.0 L531.7,1129.8 L532.4,1131.7 L533.2,1133.5 L534.0,1135.4 L534.7,1137.3 L535.5,1139.1 L536.2,1141.0 L537.0,1142.8 L537.8,1144.7 L538.5,1146.5 L539.3,1148.4 L540.1,1150.2 L540.9,1152.1 L541.7,1153.9 L542.5,1155.7 L543.3,1157.6 L544.1,1159.4 L544.9,1161.3 L545.6,1163.1 L546.4,1165.0 L547.1,1166.8 L547.9,1168.7 L548.6,1170.6 L549.3,1172.4 L550.0,1174.3 L550.8,1176.2 L551.5,1178.1 L552.2,1179.9 L552.9,1181.8 L553.6,1183.7 L554.3,1185.6 L554.9,1187.5 L555.6,1189.4 L556.3,1191.2 L557.0,1193.1 L557.7,1195.0 L558.3,1196.9 L559.0,1198.8 L559.6,1200.7 L560.3,1202.6 L560.9,1204.5 L561.6,1206.4 L562.2,1208.3 L562.9,1210.2 L563.5,1212.1 L564.2,1214.0 L564.9,1215.9 L565.6,1217.8 L566.2,1219.6 L566.9,1221.5 L567.6,1223.4 L568.3,1225.3 L569.0,1227.2 L569.7,1229.1 L570.3,1231.0 L571.0,1232.8 L571.7,1234.7 L572.4,1236.6 L573.1,1238.5 L573.8,1240.4 L574.5,1242.2 L575.2,1244.1 L575.9,1246.0 L576.5,1247.9 L577.2,1249.8 L577.9,1251.7 L578.6,1253.6 L579.3,1255.4 L580.0,1257.3 L580.7,1259.2 L581.4,1261.1 L582.1,1263.0 L582.8,1264.8 L583.5,1266.7 L584.2,1268.6 L585.0,1270.4 L585.7,1272.3 L586.5,1274.1 L587.3,1276.0 L588.1,1277.8 L588.9,1279.7 L589.7,1281.5 L590.6,1283.3 L591.4,1285.2 L592.2,1287.0 L593.0,1288.8 L593.8,1290.7 L594.6,1292.5 L595.3,1294.4 L596.1,1296.2 L596.8,1298.1 L597.5,1300.0 L598.3,1301.8 L599.0,1303.7 L599.7,1305.6 L600.4,1307.5 L601.1,1309.3 L601.8,1311.2 L602.6,1313.1 L603.4,1314.9 L604.2,1316.8 L605.0,1318.6 L605.8,1320.4 L606.7,1322.2 L607.6,1324.0 L608.5,1325.8 L609.4,1327.6 L610.3,1329.4 L611.3,1331.1 L612.2,1332.9 L613.1,1334.7 L614.1,1336.5 L615.0,1338.2 L616.0,1340.0 L616.9,1341.8 L617.9,1343.5 L618.9,1345.3 L619.9,1347.0 L620.9,1348.7 L621.9,1350.5 L622.9,1352.2 L623.9,1353.9 L624.9,1355.7 L625.9,1357.4 L627.0,1359.1 L628.0,1360.8 L629.1,1362.6 L630.1,1364.3 L631.2,1365.9 L632.3,1367.6 L633.4,1369.3 L634.6,1370.9 L635.7,1372.6 L636.9,1374.2 L638.1,1375.7 L639.4,1377.3 L640.7,1378.9 L641.9,1380.4 L643.2,1382.0 L644.5,1383.5 L645.8,1385.1 L647.1,1386.6 L648.4,1388.2 L649.7,1389.7 L651.1,1391.2 L652.5,1392.6 L653.9,1394.0 L655.4,1395.2 L657.0,1396.3 L658.7,1397.4 L660.5,1398.5 L662.2,1399.5 L664.0,1400.5 L665.7,1401.5 L667.5,1402.5 L669.2,1403.5 L671.0,1404.4 L672.8,1405.4 L674.6,1406.3 L676.4,1407.1 L678.2,1407.9 L680.0,1408.7 L681.9,1409.5 L683.8,1410.3 L685.6,1411.0 L687.5,1411.7 L689.4,1412.3 L691.3,1412.8 L693.3,1413.3 L695.2,1413.8 L697.2,1414.3 L699.2,1414.7 L701.1,1415.1 L703.1,1415.5 L705.0,1415.9 L707.0,1416.3 L709.0,1416.6 L709.0,1421.0 L224.5,1421.0 Z" fill="#E3CFF3" fill-opacity="0.5" stroke="none"/>
<path d="M224.5,893.0 L224.8,891.0 L225.1,889.0 L225.3,887.0 L225.6,885.1 L225.9,883.1 L226.2,881.1 L226.5,879.1 L226.8,877.1 L227.1,875.1 L227.4,873.1 L227.7,871.2 L228.0,869.2 L228.3,867.2 L228.6,865.2 L228.9,863.2 L229.2,861.3 L229.5,859.3 L229.8,857.3 L230.1,855.3 L230.5,853.3 L230.8,851.4 L231.1,849.4 L231.4,847.4 L231.7,845.4 L232.1,843.4 L232.4,841.5 L232.7,839.5 L233.0,837.5 L233.4,835.5 L233.7,833.5 L234.0,831.5 L234.3,829.6 L234.7,827.6 L235.0,825.6 L235.3,823.6 L235.7,821.6 L236.0,819.7 L236.4,817.7 L236.8,815.7 L237.1,813.7 L237.5,811.8 L237.9,809.8 L238.3,807.9 L238.7,805.9 L239.1,803.9 L239.6,802.0 L240.0,800.0 L240.4,798.1 L240.9,796.2 L241.4,794.2 L241.9,792.3 L242.4,790.3 L243.0,788.4 L243.5,786.5 L244.1,784.6 L244.7,782.6 L245.3,780.7 L245.9,778.8 L246.5,776.9 L247.1,775.0 L247.7,773.0 L248.3,771.1 L248.9,769.2 L249.6,767.3 L250.2,765.4 L250.8,763.5 L251.5,761.6 L252.1,759.7 L252.7,757.8 L253.3,755.9 L254.0,753.9 L254.6,752.0 L255.2,750.1 L255.8,748.2 L256.4,746.2 L257.1,744.3 L257.8,742.4 L258.4,740.5 L259.2,738.6 L259.9,736.8 L260.7,734.9 L261.5,733.1 L262.3,731.4 L263.2,729.6 L264.2,727.8 L265.2,726.0 L266.3,724.2 L267.5,722.5 L268.8,721.1 L270.2,719.8 L271.9,718.7 L273.7,717.7 L275.7,717.1 L277.6,717.1 L279.6,717.6 L281.5,718.3 L283.3,719.1 L284.9,720.3 L286.4,721.7 L287.8,723.2 L289.0,724.7 L290.1,726.4 L291.2,728.0 L292.3,729.8 L293.3,731.6 L294.2,733.4 L295.1,735.2 L296.0,737.0 L296.8,738.8 L297.7,740.6 L298.5,742.4 L299.2,744.3 L300.0,746.2 L300.7,748.0 L301.4,749.9 L302.1,751.8 L302.8,753.7 L303.5,755.6 L304.1,757.5 L304.8,759.4 L305.4,761.3 L306.1,763.2 L306.7,765.1 L307.3,767.0 L307.9,768.9 L308.5,770.8 L309.1,772.8 L309.6,774.7 L310.2,776.6 L310.7,778.5 L311.3,780.5 L311.9,782.4 L312.4,784.3 L312.9,786.3 L313.5,788.2 L314.0,790.1 L314.6,792.0 L315.1,794.0 L315.7,795.9 L316.2,797.8 L316.7,799.8 L317.2,801.7 L317.8,803.6 L318.3,805.6 L318.8,807.5 L319.3,809.5 L319.8,811.4 L320.3,813.3 L320.8,815.3 L321.3,817.2 L321.8,819.2 L322.3,821.1 L322.7,823.1 L323.2,825.0 L323.7,827.0 L324.1,828.9 L324.5,830.9 L325.0,832.9 L325.4,834.8 L325.9,836.8 L326.3,838.7 L326.7,840.7 L327.2,842.6 L327.7,844.6 L328.1,846.5 L328.6,848.5 L329.1,850.4 L329.6,852.4 L330.1,854.3 L330.7,856.2 L331.2,858.2 L331.7,860.1 L332.3,862.0 L332.9,863.9 L333.4,865.9 L334.0,867.8 L334.6,869.7 L335.2,871.6 L335.7,873.5 L336.3,875.5 L336.9,877.4 L337.5,879.3 L338.1,881.2 L338.7,883.1 L339.3,885.0 L339.9,887.0 L340.5,888.9 L341.1,890.8 L341.7,892.7 L342.3,894.6 L342.9,896.5 L343.5,898.4 L344.1,900.4 L344.7,902.3 L345.3,904.2 L345.9,906.1 L346.4,908.1 L347.0,910.0 L347.6,911.9 L348.1,913.9 L348.7,915.8 L349.2,917.7 L349.8,919.7 L350.4,921.6 L351.0,923.5 L351.5,925.5 L352.1,927.4 L352.7,929.3 L353.3,931.2 L353.9,933.1 L354.5,935.0 L355.2,936.9 L355.8,938.8 L356.5,940.7 L357.1,942.6 L357.8,944.5 L358.5,946.3 L359.3,948.2 L360.0,950.0 L360.8,951.8 L361.5,953.7 L362.4,955.6 L363.2,957.4 L364.0,959.3 L364.9,961.1 L365.8,963.0 L366.7,964.8 L367.6,966.6 L368.6,968.4 L369.6,970.2 L370.6,971.9 L371.6,973.6 L372.7,975.3 L373.8,976.9 L374.9,978.5 L376.1,980.1 L377.3,981.6 L378.5,983.3 L379.9,984.9 L381.2,986.5 L382.7,988.1 L384.2,989.6 L385.7,991.0 L387.3,992.3 L388.9,993.4 L390.5,994.3 L392.2,995.1 L393.9,995.7 L395.8,996.4 L397.7,997.0 L399.7,997.5 L401.7,998.0 L403.8,998.4 L405.8,998.7 L407.8,998.9 L409.8,999.0 L411.8,999.0 L413.8,999.0 L415.8,999.0 L417.8,999.0 L419.9,999.0 L421.9,999.0 L423.9,999.0 L425.9,999.0 L427.9,999.0 L429.9,999.0 L431.9,999.1 L433.9,999.3 L435.9,999.5 L437.9,999.9 L439.9,1000.4 L441.8,1000.9 L443.8,1001.4 L445.7,1001.9 L447.6,1002.5 L449.4,1003.2 L451.3,1003.9 L453.2,1004.8 L455.0,1005.7 L456.8,1006.7 L458.5,1007.8 L460.2,1008.8 L461.9,1009.9 L463.4,1011.0 L465.0,1012.2 L466.5,1013.5 L468.0,1014.8 L469.5,1016.1 L471.0,1017.6 L472.4,1019.0 L473.8,1020.5 L475.2,1022.0 L476.5,1023.5 L477.9,1025.1 L479.2,1026.6 L480.5,1028.2 L481.8,1029.7 L483.0,1031.2 L484.3,1032.8 L485.5,1034.4 L486.7,1036.0 L487.9,1037.6 L489.1,1039.3 L490.2,1040.9 L491.4,1042.6 L492.5,1044.3 L493.5,1046.0 L494.6,1047.7 L495.6,1049.4 L496.6,1051.1 L497.6,1052.8 L498.6,1054.5 L499.6,1056.3 L500.5,1058.0 L501.5,1059.8 L502.4,1061.6 L503.3,1063.4 L504.2,1065.1 L505.1,1066.9 L506.0,1068.7 L506.9,1070.6 L507.7,1072.4 L508.6,1074.2 L509.5,1076.0 L510.3,1077.8 L511.1,1079.7 L512.0,1081.5 L512.8,1083.4 L513.6,1085.2 L514.4,1087.0 L515.2,1088.9 L516.0,1090.7 L516.8,1092.6 L517.6,1094.4 L518.4,1096.3 L519.2,1098.1 L520.0,1100.0 L520.8,1101.8 L521.5,1103.7 L522.3,1105.5 L523.0,1107.4 L523.7,1109.2 L524.4,1111.1 L525.2,1113.0 L525.9,1114.9 L526.6,1116.7 L527.3,1118.6 L528.0,1120.5 L528.7,1122.4 L529.5,1124.2 L530.2,1126.1 L530.9,1128.0 L531.7,1129.8 L532.4,1131.7 L533.2,1133.5 L534.0,1135.4 L534.7,1137.3 L535.5,1139.1 L536.2,1141.0 L537.0,1142.8 L537.8,1144.7 L538.5,1146.5 L539.3,1148.4 L540.1,1150.2 L540.9,1152.1 L541.7,1153.9 L542.5,1155.7 L543.3,1157.6 L544.1,1159.4 L544.9,1161.3 L545.6,1163.1 L546.4,1165.0 L547.1,1166.8 L547.9,1168.7 L548.6,1170.6 L549.3,1172.4 L550.0,1174.3 L550.8,1176.2 L551.5,1178.1 L552.2,1179.9 L552.9,1181.8 L553.6,1183.7 L554.3,1185.6 L554.9,1187.5 L555.6,1189.4 L556.3,1191.2 L557.0,1193.1 L557.7,1195.0 L558.3,1196.9 L559.0,1198.8 L559.6,1200.7 L560.3,1202.6 L560.9,1204.5 L561.6,1206.4 L562.2,1208.3 L562.9,1210.2 L563.5,1212.1 L564.2,1214.0 L564.9,1215.9 L565.6,1217.8 L566.2,1219.6 L566.9,1221.5 L567.6,1223.4 L568.3,1225.3 L569.0,1227.2 L569.7,1229.1 L570.3,1231.0 L571.0,1232.8 L571.7,1234.7 L572.4,1236.6 L573.1,1238.5 L573.8,1240.4 L574.5,1242.2 L575.2,1244.1 L575.9,1246.0 L576.5,1247.9 L577.2,1249.8 L577.9,1251.7 L578.6,1253.6 L579.3,1255.4 L580.0,1257.3 L580.7,1259.2 L581.4,1261.1 L582.1,1263.0 L582.8,1264.8 L583.5,1266.7 L584.2,1268.6 L585.0,1270.4 L585.7,1272.3 L586.5,1274.1 L587.3,1276.0 L588.1,1277.8 L588.9,1279.7 L589.7,1281.5 L590.6,1283.3 L591.4,1285.2 L592.2,1287.0 L593.0,1288.8 L593.8,1290.7 L594.6,1292.5 L595.3,1294.4 L596.1,1296.2 L596.8,1298.1 L597.5,1300.0 L598.3,1301.8 L599.0,1303.7 L599.7,1305.6 L600.4,1307.5 L601.1,1309.3 L601.8,1311.2 L602.6,1313.1 L603.4,1314.9 L604.2,1316.8 L605.0,1318.6 L605.8,1320.4 L606.7,1322.2 L607.6,1324.0 L608.5,1325.8 L609.4,1327.6 L610.3,1329.4 L611.3,1331.1 L612.2,1332.9 L613.1,1334.7 L614.1,1336.5 L615.0,1338.2 L616.0,1340.0 L616.9,1341.8 L617.9,1343.5 L618.9,1345.3 L619.9,1347.0 L620.9,1348.7 L621.9,1350.5 L622.9,1352.2 L623.9,1353.9 L624.9,1355.7 L625.9,1357.4 L627.0,1359.1 L628.0,1360.8 L629.1,1362.6 L630.1,1364.3 L631.2,1365.9 L632.3,1367.6 L633.4,1369.3 L634.6,1370.9 L635.7,1372.6 L636.9,1374.2 L638.1,1375.7 L639.4,1377.3 L640.7,1378.9 L641.9,1380.4 L643.2,1382.0 L644.5,1383.5 L645.8,1385.1 L647.1,1386.6 L648.4,1388.2 L649.7,1389.7 L651.1,1391.2 L652.5,1392.6 L653.9,1394.0 L655.4,1395.2 L657.0,1396.3 L658.7,1397.4 L660.5,1398.5 L662.2,1399.5 L664.0,1400.5 L665.7,1401.5 L667.5,1402.5 L669.2,1403.5 L671.0,1404.4 L672.8,1405.4 L674.6,1406.3 L676.4,1407.1 L678.2,1407.9 L680.0,1408.7 L681.9,1409.5 L683.8,1410.3 L685.6,1411.0 L687.5,1411.7 L689.4,1412.3 L691.3,1412.8 L693.3,1413.3 L695.2,1413.8 L697.2,1414.3 L699.2,1414.7 L701.1,1415.1 L703.1,1415.5 L705.0,1415.9 L707.0,1416.3 L709.0,1416.6" fill="none" stroke="#B177DE" stroke-width="2.6"/>
</g>
<path d="M225.5,1438.0h50.5v26.0h-50.5zM277.5,1438.0h4.5v26.0h-4.5zM284.0,1438.0h6.0v26.0h-6.0zM294.0,1438.0h9.5v26.0h-9.5zM313.0,1438.0h2.0v26.0h-2.0zM317.0,1438.0h4.0v26.0h-4.0zM323.0,1438.0h4.0v26.0h-4.0zM331.0,1438.0h4.0v26.0h-4.0zM340.0,1438.0h2.5v26.0h-2.5zM345.0,1438.0h3.5v26.0h-3.5zM356.0,1438.0h2.0v26.0h-2.0zM366.0,1438.0h2.0v26.0h-2.0zM386.0,1438.0h9.0v26.0h-9.0zM428.5,1438.0h2.0v26.0h-2.0zM514.5,1438.0h5.5v26.0h-5.5zM544.0,1438.0h2.0v26.0h-2.0zM557.5,1438.0h4.0v26.0h-4.0zM602.5,1438.0h3.5v26.0h-3.5zM626.0,1438.0h4.0v26.0h-4.0zM731.0,1438.0h2.0v26.0h-2.0zM764.4,1438.0h4.0v26.0h-4.0zM774.2,1438.0h2.0v26.0h-2.0zM801.6,1438.0h4.0v26.0h-4.0zM842.0,1438.0h3.0v26.0h-3.0zM895.0,1438.0h4.0v26.0h-4.0zM963.6,1438.0h4.0v26.0h-4.0zM996.6,1438.0h2.0v26.0h-2.0zM1092.6,1438.0h2.0v26.0h-2.0zM1112.0,1438.0h4.0v26.0h-4.0zM1647.2,1438.0h4.0v26.0h-4.0zM1979.4,1438.0h2.0v26.0h-2.0z" fill="#515151"/>
<path d="M227.5,1471.3h132.5v26.7h-132.5zM362.0,1471.3h6.0v26.7h-6.0zM370.0,1471.3h21.5v26.7h-21.5zM395.0,1471.3h8.0v26.7h-8.0zM407.0,1471.3h2.0v26.7h-2.0zM411.0,1471.3h7.5v26.7h-7.5zM424.5,1471.3h2.0v26.7h-2.0zM432.5,1471.3h2.0v26.7h-2.0zM436.5,1471.3h3.5v26.7h-3.5zM442.0,1471.3h6.0v26.7h-6.0zM450.0,1471.3h4.0v26.7h-4.0zM464.0,1471.3h3.5v26.7h-3.5zM470.0,1471.3h3.5v26.7h-3.5zM485.0,1471.3h6.0v26.7h-6.0zM501.0,1471.3h4.0v26.7h-4.0zM509.0,1471.3h3.5v26.7h-3.5zM516.5,1471.3h2.0v26.7h-2.0zM532.0,1471.3h2.0v26.7h-2.0zM542.0,1471.3h10.0v26.7h-10.0zM571.0,1471.3h6.0v26.7h-6.0zM581.0,1471.3h4.0v26.7h-4.0zM587.0,1471.3h2.0v26.7h-2.0zM594.5,1471.3h2.0v26.7h-2.0zM606.5,1471.3h5.5v26.7h-5.5zM622.0,1471.3h2.0v26.7h-2.0zM632.0,1471.3h4.0v26.7h-4.0zM659.0,1471.3h2.0v26.7h-2.0zM694.0,1471.3h4.0v26.7h-4.0zM727.0,1471.3h6.0v26.7h-6.0zM743.0,1471.3h2.0v26.7h-2.0zM780.2,1471.3h2.0v26.7h-2.0zM801.6,1471.3h4.0v26.7h-4.0zM811.2,1471.3h4.0v26.7h-4.0zM828.8,1471.3h4.0v26.7h-4.0zM843.0,1471.3h4.0v26.7h-4.0zM867.8,1471.3h2.0v26.7h-2.0zM872.0,1471.3h6.0v26.7h-6.0zM914.8,1471.3h4.0v26.7h-4.0zM922.6,1471.3h4.0v26.7h-4.0zM946.5,1471.3h3.0v26.7h-3.0zM973.4,1471.3h2.0v26.7h-2.0zM977.4,1471.3h4.0v26.7h-4.0zM1008.4,1471.3h2.0v26.7h-2.0zM1018.0,1471.3h4.0v26.7h-4.0zM1051.6,1471.3h4.0v26.7h-4.0zM1301.6,1471.3h4.0v26.7h-4.0zM1361.8,1471.3h2.0v26.7h-2.0zM1365.8,1471.3h2.0v26.7h-2.0zM1446.0,1471.3h4.0v26.7h-4.0zM1497.2,1471.3h4.0v26.7h-4.0zM1702.0,1471.3h4.0v26.7h-4.0zM1891.6,1471.3h2.0v26.7h-2.0z" fill="#F14040"/>
<path d="M225.5,1504.6h72.0v26.8h-72.0zM300.0,1504.6h7.0v26.8h-7.0zM310.0,1504.6h7.0v26.8h-7.0zM319.0,1504.6h8.0v26.8h-8.0zM329.0,1504.6h13.5v26.8h-13.5zM346.5,1504.6h2.0v26.8h-2.0zM352.0,1504.6h8.0v26.8h-8.0zM362.0,1504.6h19.5v26.8h-19.5zM387.5,1504.6h2.0v26.8h-2.0zM395.0,1504.6h6.0v26.8h-6.0zM409.0,1504.6h7.5v26.8h-7.5zM419.0,1504.6h2.0v26.8h-2.0zM424.5,1504.6h10.0v26.8h-10.0zM436.5,1504.6h2.0v26.8h-2.0zM440.0,1504.6h2.0v26.8h-2.0zM444.0,1504.6h4.0v26.8h-4.0zM452.0,1504.6h2.0v26.8h-2.0zM460.0,1504.6h2.0v26.8h-2.0zM464.0,1504.6h4.0v26.8h-4.0zM471.5,1504.6h4.0v26.8h-4.0zM477.5,1504.6h4.0v26.8h-4.0zM493.0,1504.6h6.0v26.8h-6.0zM501.0,1504.6h4.0v26.8h-4.0zM509.0,1504.6h7.0v26.8h-7.0zM518.5,1504.6h6.0v26.8h-6.0zM532.0,1504.6h4.0v26.8h-4.0zM624.0,1504.6h4.0v26.8h-4.0zM634.0,1504.6h4.0v26.8h-4.0zM674.6,1504.6h4.0v26.8h-4.0zM684.4,1504.6h4.0v26.8h-4.0zM751.0,1504.6h4.0v26.8h-4.0zM764.4,1504.6h8.0v26.8h-8.0zM786.0,1504.6h2.0v26.8h-2.0zM789.6,1504.6h2.0v26.8h-2.0zM797.6,1504.6h4.0v26.8h-4.0zM826.8,1504.6h4.0v26.8h-4.0zM836.8,1504.6h4.0v26.8h-4.0zM918.8,1504.6h4.0v26.8h-4.0zM977.4,1504.6h4.0v26.8h-4.0zM1235.2,1504.6h2.0v26.8h-2.0zM1270.2,1504.6h4.0v26.8h-4.0zM1389.4,1504.6h4.0v26.8h-4.0z" fill="#1A6FDF"/>
<path d="M225.5,1537.9h78.0v26.9h-78.0zM309.5,1537.9h21.5v26.9h-21.5zM333.0,1537.9h8.0v26.9h-8.0zM348.5,1537.9h2.0v26.9h-2.0zM356.0,1537.9h4.0v26.9h-4.0zM368.0,1537.9h2.0v26.9h-2.0zM403.0,1537.9h2.0v26.9h-2.0zM424.5,1537.9h2.0v26.9h-2.0zM431.0,1537.9h3.5v26.9h-3.5zM514.5,1537.9h2.0v26.9h-2.0zM551.5,1537.9h2.5v26.9h-2.5zM632.0,1537.9h4.0v26.9h-4.0zM752.8,1537.9h2.0v26.9h-2.0z" fill="#37AD6B"/>
<path d="M260.5,1571.0h4.0v27.0h-4.0zM270.0,1571.0h2.0v27.0h-2.0zM296.0,1571.0h2.0v27.0h-2.0zM399.0,1571.0h4.0v27.0h-4.0zM424.5,1571.0h4.5v27.0h-4.5zM483.0,1571.0h4.0v27.0h-4.0zM536.0,1571.0h2.0v27.0h-2.0z" fill="#B177DE"/>
<g stroke="#000" stroke-width="4" fill="none" stroke-linecap="butt">
<path d="M204,31.0H2095.0"/>
<path d="M223.5,31.0V1635"/>
<path d="M2093.0,31.0V1635"/>
<path d="M204,1421.0H2093.0"/>
<path d="M223.5,1616.0H2093.0"/>
<path d="M204,1143.0H223.5"/>
<path d="M204,865.0H223.5"/>
<path d="M204,587.0H223.5"/>
<path d="M204,309.0H223.5"/>
<path d="M214,1282.0H223.5"/>
<path d="M214,1004.0H223.5"/>
<path d="M214,726.0H223.5"/>
<path d="M214,448.0H223.5"/>
<path d="M214,170.0H223.5"/>
<path d="M597.4,1616.0V1635"/>
<path d="M971.3,1616.0V1635"/>
<path d="M1345.2,1616.0V1635"/>
<path d="M1719.1,1616.0V1635"/>
<path d="M410.4,1616.0V1626"/>
<path d="M784.3,1616.0V1626"/>
<path d="M1158.2,1616.0V1626"/>
<path d="M1532.1,1616.0V1626"/>
<path d="M1906.0,1616.0V1626"/>
</g>
<g font-size="58">
<text transform="translate(89.2,1436.5) scale(1,1.04)" style="font-kerning:none">0.00</text>
<text transform="translate(89.2,1158.5) scale(1,1.04)" style="font-kerning:none">0.02</text>
<text transform="translate(89.2,880.5) scale(1,1.04)" style="font-kerning:none">0.04</text>
<text transform="translate(89.2,602.5) scale(1,1.04)" style="font-kerning:none">0.07</text>
<text transform="translate(89.2,324.5) scale(1,1.04)" style="font-kerning:none">0.09</text>
<text transform="translate(89.2,46.5) scale(1,1.04)" style="font-kerning:none">0.11</text>
<text transform="translate(223.5,1692.5) scale(1,1.04)" text-anchor="middle">0</text>
<text transform="translate(597.4,1692.5) scale(1,1.04)" text-anchor="middle">34</text>
<text transform="translate(971.3,1692.5) scale(1,1.04)" text-anchor="middle">68</text>
<text transform="translate(1345.2,1692.5) scale(1,1.04)" text-anchor="middle">102</text>
<text transform="translate(1719.1,1692.5) scale(1,1.04)" text-anchor="middle">136</text>
<text transform="translate(2093.0,1692.5) scale(1,1.04)" text-anchor="middle">170</text>
</g>
<text x="1160.8" y="1758" font-size="63.7" text-anchor="middle">Area (mm^2)</text>
<text transform="translate(63,726) rotate(-90)" font-size="64.5" text-anchor="middle">Corrosion Area Distribution</text>
<rect x="1709" y="42" width="369" height="370.5" fill="#fff" stroke="#000" stroke-width="2"/>
<rect x="1718" y="51.0" width="128.6" height="62" fill="#C1C1C1" fill-opacity="0.5" stroke="#515151" stroke-opacity="0.55" stroke-width="4"/>
<text transform="translate(1863.5,100.5) scale(1,1.03)" font-size="58">1-96 FIZ</text>
<rect x="1718" y="123.7" width="128.6" height="62" fill="#FABBBB" fill-opacity="0.5" stroke="#F14040" stroke-opacity="0.55" stroke-width="4"/>
<text transform="translate(1863.5,173.0) scale(1,1.03)" font-size="58">2-96 FIZ</text>
<rect x="1718" y="196.3" width="128.6" height="62" fill="#ADCCF4" fill-opacity="0.5" stroke="#1A6FDF" stroke-opacity="0.55" stroke-width="4"/>
<text transform="translate(1863.5,245.5) scale(1,1.03)" font-size="58">3-96 FIZ</text>
<rect x="1718" y="269.0" width="128.6" height="62" fill="#B8E2CA" fill-opacity="0.5" stroke="#37AD6B" stroke-opacity="0.55" stroke-width="4"/>
<text transform="translate(1863.5,318.0) scale(1,1.03)" font-size="58">4-96 FIZ</text>
<rect x="1718" y="341.6" width="128.6" height="62" fill="#E3CFF3" fill-opacity="0.5" stroke="#B177DE" stroke-opacity="0.55" stroke-width="4"/>
<text transform="translate(1863.5,390.5) scale(1,1.03)" font-size="58">5-96 FIZ</text>
</svg></body></html>
